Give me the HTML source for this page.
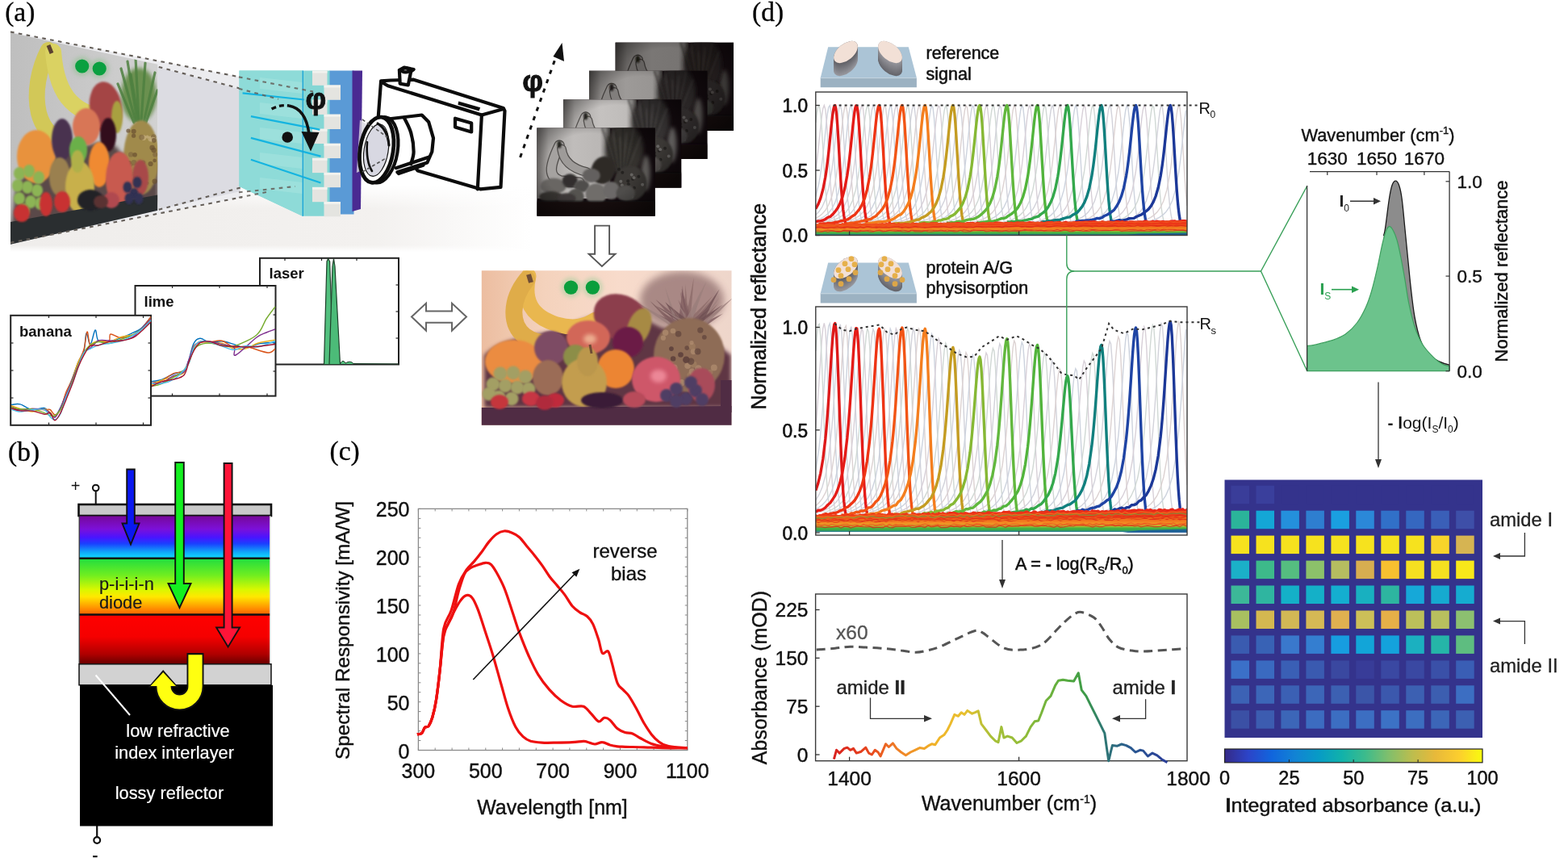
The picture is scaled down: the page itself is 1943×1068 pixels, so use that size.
<!DOCTYPE html>
<html><head><meta charset="utf-8"><title>Figure</title>
<style>html,body{margin:0;padding:0;background:#fff;overflow:hidden;}svg{display:block;}</style>
</head><body>
<svg width="1943" height="1068" viewBox="0 0 1943 1068">
<rect width="1943" height="1068" fill="#fff"/>
<defs><filter id="bl1" x="-20%" y="-20%" width="140%" height="140%"><feGaussianBlur stdDeviation="0.9"/></filter><filter id="bl2" x="-30%" y="-30%" width="160%" height="160%"><feGaussianBlur stdDeviation="2.5"/></filter><filter id="bl3" x="-50%" y="-50%" width="200%" height="200%"><feGaussianBlur stdDeviation="5"/></filter></defs>
<text x="6.15" y="25.7" font-size="33.5" fill="#000" text-anchor="start" font-weight="normal" font-family="'Liberation Serif', 'Times New Roman', serif" stroke="#000" stroke-width="0.3" >(a)</text>
<defs><linearGradient id="floorh" gradientUnits="userSpaceOnUse" x1="13" y1="0" x2="660" y2="0"><stop offset="0" stop-color="#efedeb"/><stop offset="0.7" stop-color="#f3f1ef"/><stop offset="1" stop-color="#ffffff"/></linearGradient><linearGradient id="floorv" gradientUnits="userSpaceOnUse" x1="0" y1="230" x2="0" y2="312"><stop offset="0" stop-color="#fff" stop-opacity="1"/><stop offset="0.35" stop-color="#fff" stop-opacity="0"/><stop offset="0.9" stop-color="#fff" stop-opacity="0"/><stop offset="1" stop-color="#fff" stop-opacity="1"/></linearGradient></defs>
<rect x="13" y="230" width="650" height="82" fill="url(#floorh)"/>
<rect x="13" y="230" width="650" height="82" fill="url(#floorv)"/>
<polygon points="13,39.5 298,95.6 298,244.6 13,300.7" fill="#ececef"/>
<polygon points="195.5,82.9 298,110.7 298,237 195.5,259.8" fill="#dcdce2"/>
<defs><clipPath id="pph"><polygon points="13,40.5 195.3,79.8 195.3,260.7 13,302.7"/></clipPath><linearGradient id="ppbg" x1="0" y1="0" x2="1" y2="0"><stop offset="0" stop-color="#bebebe"/><stop offset="1" stop-color="#d2d2d2"/></linearGradient></defs>
<g clip-path="url(#pph)">
<rect x="10" y="35" width="190" height="270" fill="url(#ppbg)"/>
<path d="M20,230 C40,200 70,190 90,185 C120,175 140,170 150,190 L196,200 L196,250 L14,280 Z" fill="#5a4848" filter="url(#bl2)"/>
<ellipse cx="172.0" cy="118.0" rx="22.0" ry="34.0" fill="#6a9050" filter="url(#bl2)"/>
<line x1="150" y1="85" x2="168" y2="150" stroke="#4e8040" stroke-width="3.2" stroke-linecap="round" opacity="0.85"/>
<line x1="158" y1="76" x2="170" y2="150" stroke="#4e8040" stroke-width="3.2" stroke-linecap="round" opacity="0.85"/>
<line x1="168" y1="72" x2="172" y2="150" stroke="#4e8040" stroke-width="3.2" stroke-linecap="round" opacity="0.85"/>
<line x1="180" y1="78" x2="175" y2="150" stroke="#4e8040" stroke-width="3.2" stroke-linecap="round" opacity="0.85"/>
<line x1="192" y1="90" x2="178" y2="152" stroke="#4e8040" stroke-width="3.2" stroke-linecap="round" opacity="0.85"/>
<line x1="146" y1="104" x2="166" y2="152" stroke="#4e8040" stroke-width="3.2" stroke-linecap="round" opacity="0.85"/>
<line x1="195" y1="112" x2="180" y2="154" stroke="#4e8040" stroke-width="3.2" stroke-linecap="round" opacity="0.85"/>
<line x1="162" y1="92" x2="172" y2="150" stroke="#4e8040" stroke-width="3.2" stroke-linecap="round" opacity="0.85"/>
<ellipse cx="175.0" cy="195.0" rx="22.0" ry="46.0" fill="#a08a4c" filter="url(#bl1)"/>
<circle cx="162.2" cy="191.4" r="3.2" fill="#806840" opacity="0.7"/>
<circle cx="177.9" cy="170.6" r="3.4" fill="#c8b080" opacity="0.7"/>
<circle cx="162.3" cy="204.3" r="2.3" fill="#806840" opacity="0.7"/>
<circle cx="192.2" cy="191.5" r="3.1" fill="#806840" opacity="0.7"/>
<circle cx="191.6" cy="224.7" r="3.1" fill="#6a5030" opacity="0.7"/>
<circle cx="188.6" cy="182.9" r="3.2" fill="#6a5030" opacity="0.7"/>
<circle cx="182.6" cy="227.1" r="2.0" fill="#806840" opacity="0.7"/>
<circle cx="165.9" cy="201.5" r="3.5" fill="#806840" opacity="0.7"/>
<circle cx="161.7" cy="220.3" r="3.3" fill="#c8b080" opacity="0.7"/>
<circle cx="167.1" cy="191.7" r="2.8" fill="#6a5030" opacity="0.7"/>
<circle cx="190.6" cy="186.0" r="3.2" fill="#6a5030" opacity="0.7"/>
<circle cx="186.8" cy="172.0" r="3.4" fill="#c8b080" opacity="0.7"/>
<circle cx="174.3" cy="208.3" r="2.9" fill="#806840" opacity="0.7"/>
<circle cx="158.1" cy="224.4" r="3.1" fill="#6a5030" opacity="0.7"/>
<circle cx="165.7" cy="162.8" r="3.0" fill="#6a5030" opacity="0.7"/>
<circle cx="189.3" cy="170.8" r="2.2" fill="#6a5030" opacity="0.7"/>
<circle cx="186.6" cy="203.0" r="3.1" fill="#6a5030" opacity="0.7"/>
<circle cx="165.6" cy="168.2" r="2.6" fill="#6a5030" opacity="0.7"/>
<circle cx="182.6" cy="169.6" r="2.1" fill="#c8b080" opacity="0.7"/>
<circle cx="190.3" cy="169.4" r="3.2" fill="#806840" opacity="0.7"/>
<circle cx="175.5" cy="170.1" r="3.4" fill="#806840" opacity="0.7"/>
<circle cx="160.1" cy="201.7" r="2.6" fill="#6a5030" opacity="0.7"/>
<circle cx="175.4" cy="202.8" r="2.5" fill="#6a5030" opacity="0.7"/>
<circle cx="158.9" cy="162.0" r="2.6" fill="#6a5030" opacity="0.7"/>
<circle cx="191.6" cy="198.9" r="2.3" fill="#6a5030" opacity="0.7"/>
<circle cx="189.4" cy="172.8" r="3.2" fill="#c8b080" opacity="0.7"/>
<circle cx="177.6" cy="201.2" r="2.7" fill="#806840" opacity="0.7"/>
<circle cx="158.6" cy="204.9" r="2.8" fill="#6a5030" opacity="0.7"/>
<circle cx="190.8" cy="173.9" r="2.8" fill="#6a5030" opacity="0.7"/>
<circle cx="178.1" cy="217.6" r="2.4" fill="#806840" opacity="0.7"/>
<path d="M60,62 C48,85 42,115 48,140 C52,155 58,162 64,166" fill="none" stroke="#d2c858" stroke-width="20" stroke-linecap="round"/>
<path d="M66,64 C68,90 74,112 88,126 C96,134 104,138 110,140" fill="none" stroke="#dad262" stroke-width="20" stroke-linecap="round"/>
<path d="M60,56 L64,66" stroke="#5a4030" stroke-width="5"/>
<ellipse cx="131.0" cy="134.0" rx="20.0" ry="33.0" fill="#a44444" transform="rotate(-8 131.0 134.0)" filter="url(#bl1)"/>
<ellipse cx="145.0" cy="145.0" rx="7.0" ry="20.0" fill="#a8a040" filter="url(#bl1)"/>
<ellipse cx="45.0" cy="194.0" rx="24.0" ry="33.0" fill="#e8923c" filter="url(#bl1)"/>
<ellipse cx="107.0" cy="157.0" rx="17.0" ry="23.0" fill="#d87656" filter="url(#bl1)"/>
<ellipse cx="77.0" cy="173.0" rx="13.0" ry="26.0" fill="#4a3050" filter="url(#bl1)"/>
<ellipse cx="134.0" cy="167.0" rx="10.0" ry="21.0" fill="#30101e" filter="url(#bl1)"/>
<ellipse cx="97.0" cy="186.0" rx="11.0" ry="17.0" fill="#6ab048" filter="url(#bl1)"/>
<ellipse cx="123.0" cy="204.0" rx="13.0" ry="28.0" fill="#f08a32" filter="url(#bl1)"/>
<ellipse cx="74.0" cy="219.0" rx="13.0" ry="24.0" fill="#9a8050" filter="url(#bl1)"/>
<ellipse cx="99.0" cy="232.0" rx="18.0" ry="32.0" fill="#c8b04c" filter="url(#bl1)"/>
<ellipse cx="96.0" cy="200.0" rx="8.0" ry="14.0" fill="#b0b04a" filter="url(#bl1)"/>
<ellipse cx="148.0" cy="222.0" rx="17.0" ry="34.0" fill="#c85a50" filter="url(#bl1)"/>
<ellipse cx="174.0" cy="220.0" rx="10.0" ry="22.0" fill="#a84848" filter="url(#bl1)"/>
<polygon points="13,275 195.3,241.6 195.3,262 13,305" fill="#2a2e30"/>
<ellipse cx="24.0" cy="215.0" rx="7.0" ry="8.0" fill="#8cb454" filter="url(#bl1)"/>
<ellipse cx="36.0" cy="212.0" rx="7.0" ry="8.0" fill="#8cb454" filter="url(#bl1)"/>
<ellipse cx="48.0" cy="220.0" rx="7.0" ry="8.0" fill="#8cb454" filter="url(#bl1)"/>
<ellipse cx="22.0" cy="230.0" rx="7.0" ry="8.0" fill="#8cb454" filter="url(#bl1)"/>
<ellipse cx="34.0" cy="232.0" rx="7.0" ry="8.0" fill="#8cb454" filter="url(#bl1)"/>
<ellipse cx="46.0" cy="236.0" rx="7.0" ry="8.0" fill="#8cb454" filter="url(#bl1)"/>
<ellipse cx="24.0" cy="246.0" rx="7.0" ry="8.0" fill="#8cb454" filter="url(#bl1)"/>
<ellipse cx="38.0" cy="250.0" rx="7.0" ry="8.0" fill="#8cb454" filter="url(#bl1)"/>
<ellipse cx="50.0" cy="252.0" rx="7.0" ry="8.0" fill="#8cb454" filter="url(#bl1)"/>
<ellipse cx="30.0" cy="260.0" rx="7.0" ry="8.0" fill="#8cb454" filter="url(#bl1)"/>
<ellipse cx="27.0" cy="264.0" rx="10.0" ry="11.0" fill="#c83030" filter="url(#bl1)"/>
<ellipse cx="57.0" cy="253.0" rx="8.0" ry="15.0" fill="#c83030" filter="url(#bl1)"/>
<ellipse cx="77.0" cy="250.0" rx="10.0" ry="13.0" fill="#c83030" filter="url(#bl1)"/>
<ellipse cx="112.0" cy="248.0" rx="16.0" ry="13.0" fill="#202028" filter="url(#bl1)"/>
<ellipse cx="138.0" cy="248.0" rx="10.0" ry="10.0" fill="#b04850" filter="url(#bl1)"/>
<ellipse cx="125.0" cy="250.0" rx="9.0" ry="8.0" fill="#5a3030" filter="url(#bl1)"/>
<ellipse cx="158.0" cy="232.0" rx="5.5" ry="7.0" fill="#303052" filter="url(#bl1)"/>
<ellipse cx="166.0" cy="240.0" rx="5.5" ry="7.0" fill="#303052" filter="url(#bl1)"/>
<ellipse cx="160.0" cy="246.0" rx="5.5" ry="7.0" fill="#303052" filter="url(#bl1)"/>
<ellipse cx="170.0" cy="226.0" rx="5.5" ry="7.0" fill="#303052" filter="url(#bl1)"/>
<ellipse cx="172.0" cy="246.0" rx="5.5" ry="7.0" fill="#303052" filter="url(#bl1)"/>
<ellipse cx="101.7" cy="82.0" rx="12.0" ry="12.0" fill="#90c090" filter="url(#bl2)" opacity="0.55"/>
<ellipse cx="123.2" cy="85.0" rx="12.0" ry="12.0" fill="#90c090" filter="url(#bl2)" opacity="0.55"/>
<circle cx="101.7" cy="82" r="8.6" fill="#0aa040"/>
<circle cx="123.2" cy="85" r="8.6" fill="#0aa040"/>
</g>
<line x1="13" y1="39.5" x2="300" y2="96" stroke="#645e58" stroke-width="2.1" stroke-dasharray="4.6,5.4" fill="none"/>
<line x1="13" y1="300.7" x2="300" y2="244.2" stroke="#645e58" stroke-width="2.1" stroke-dasharray="4.6,5.4" fill="none"/>
<line x1="196.8" y1="82.9" x2="372" y2="129.5" stroke="#645e58" stroke-width="2.1" stroke-dasharray="4.6,5.4" fill="none"/>
<line x1="196.8" y1="259.8" x2="372" y2="212.5" stroke="#645e58" stroke-width="2.1" stroke-dasharray="4.6,5.4" fill="none"/>
<polygon points="296.5,87.5 409,87.5 409,267.7 374.7,267.7 296.5,231" fill="#84d6d4"/>
<polygon points="296.5,87.5 375,87.5 375,267.7 296.5,231" fill="#8edbd8"/>
<polygon points="322,96 375,102 375,116 322,110" fill="#a2e2de" opacity="0.7"/>
<polygon points="322,127 375,133 375,147 322,141" fill="#a2e2de" opacity="0.7"/>
<polygon points="322,158 375,164 375,178 322,172" fill="#a2e2de" opacity="0.7"/>
<polygon points="322,189 375,195 375,209 322,203" fill="#a2e2de" opacity="0.7"/>
<polygon points="322,220 375,226 375,240 322,234" fill="#a2e2de" opacity="0.7"/>
<rect x="408.5" y="87.5" width="30" height="178" fill="#5a9ad6"/>
<rect x="387" y="87.5" width="18.5" height="18.3" fill="#e4e4e0"/>
<rect x="387" y="87.5" width="18.5" height="3" fill="#f2f2ee"/>
<rect x="401.5" y="105.5" width="20.5" height="18.3" fill="#e4e4e0"/>
<rect x="401.5" y="105.5" width="20.5" height="3" fill="#f2f2ee"/>
<rect x="387" y="123.6" width="18.5" height="18.3" fill="#e4e4e0"/>
<rect x="387" y="123.6" width="18.5" height="3" fill="#f2f2ee"/>
<rect x="401.5" y="141.7" width="20.5" height="18.3" fill="#e4e4e0"/>
<rect x="401.5" y="141.7" width="20.5" height="3" fill="#f2f2ee"/>
<rect x="387" y="159.7" width="18.5" height="18.3" fill="#e4e4e0"/>
<rect x="387" y="159.7" width="18.5" height="3" fill="#f2f2ee"/>
<rect x="401.5" y="177.8" width="20.5" height="18.3" fill="#e4e4e0"/>
<rect x="401.5" y="177.8" width="20.5" height="3" fill="#f2f2ee"/>
<rect x="387" y="195.8" width="18.5" height="18.3" fill="#e4e4e0"/>
<rect x="387" y="195.8" width="18.5" height="3" fill="#f2f2ee"/>
<rect x="401.5" y="213.9" width="20.5" height="18.3" fill="#e4e4e0"/>
<rect x="401.5" y="213.9" width="20.5" height="3" fill="#f2f2ee"/>
<rect x="387" y="231.9" width="18.5" height="18.3" fill="#e4e4e0"/>
<rect x="387" y="231.9" width="18.5" height="3" fill="#f2f2ee"/>
<rect x="401.5" y="250.0" width="20.5" height="18.3" fill="#e4e4e0"/>
<rect x="401.5" y="250.0" width="20.5" height="3" fill="#f2f2ee"/>
<polygon points="436.5,87.5 449,87.5 447,259 436.5,262" fill="#4a2a92"/>
<line x1="300.6" y1="115.3" x2="376.8" y2="123.5" stroke="#14b4e0" stroke-width="2.2"/>
<line x1="310.9" y1="144.1" x2="396.4" y2="160.6" stroke="#14b4e0" stroke-width="2.2"/>
<line x1="310.9" y1="170.9" x2="397.4" y2="193.6" stroke="#14b4e0" stroke-width="2.2"/>
<line x1="310.9" y1="197.7" x2="397.4" y2="226.5" stroke="#14b4e0" stroke-width="2.2"/>
<line x1="375.3" y1="87.5" x2="375.3" y2="267.7" stroke="#1ea6d8" stroke-width="1.4"/>
<path d="M336.6,135 C344,131 351,130 358,131" fill="none" stroke="#111" stroke-width="3.4" stroke-dasharray="6,4"/>
<path d="M358,131 C370,133 380,143 383,166" fill="none" stroke="#111" stroke-width="3.6"/>
<polygon points="373.5,163 395.5,164 385,187.5" fill="#111"/>
<circle cx="356.2" cy="170" r="6.8" fill="#111"/>
<text x="378.4" y="135.3" font-size="36" fill="#111" text-anchor="start" font-weight="bold" font-family="'Liberation Sans', Arial, sans-serif" stroke="#111" stroke-width="0.9" >φ</text>
<line x1="296" y1="95.4" x2="388" y2="113.5" stroke="#645e58" stroke-width="2.1" stroke-dasharray="4.6,5.4" fill="none" opacity="0.85"/>
<line x1="296" y1="109.8" x2="345" y2="122.8" stroke="#645e58" stroke-width="2.1" stroke-dasharray="4.6,5.4" fill="none" opacity="0.85"/>
<line x1="296" y1="238.3" x2="366" y2="231" stroke="#645e58" stroke-width="2.1" stroke-dasharray="4.6,5.4" fill="none" opacity="0.85"/>
<line x1="296" y1="244.8" x2="330" y2="238" stroke="#645e58" stroke-width="2.1" stroke-dasharray="4.6,5.4" fill="none" opacity="0.85"/>
<polygon points="446.0,148.4 478.9,171.1 478.9,198.1 441.8,214.1" fill="#d8d8e0" opacity="0.8"/>
<polygon points="472.1,100.3 483.9,99.5 512.6,98.7 623.8,134.0 625.5,137.4 620.5,231.8 595.2,234.3 517.6,211.6 468.8,144.2" fill="#fff" stroke="#0c0c0c" stroke-width="4.2" stroke-linejoin="round" stroke-linecap="round"/>
<path d="M472.1,101.2L480.6,106.2L596.9,142.5L623.8,134.9" fill="none" stroke="#0c0c0c" stroke-width="4.2" stroke-linejoin="round" stroke-linecap="round"/>
<path d="M596.9,142.5L591.8,234.3" fill="none" stroke="#0c0c0c" stroke-width="4.2" stroke-linejoin="round" stroke-linecap="round"/>
<path d="M494.9,86.9L495.7,103.7L505.8,105.4L509.2,88.5L512.6,86.0L500.8,83.5L494.9,86.9" fill="#fff" stroke="#0c0c0c" stroke-width="4.2" stroke-linejoin="round" stroke-linecap="round"/>
<ellipse cx="502.5" cy="86.9" rx="5" ry="2.5" fill="none" stroke="#0c0c0c" stroke-width="4.2" stroke-linejoin="round" stroke-linecap="round"/>
<polygon points="568.2,125.6 595.2,133.2 593.5,137.4 567.4,129.8" fill="#0c0c0c"/>
<polygon points="564.0,146.7 584.2,152.6 584.2,163.5 564.0,157.6" fill="#fff" stroke="#0c0c0c" stroke-width="4.2" stroke-linejoin="round" stroke-linecap="round"/>
<path d="M480.6,147.5L522.7,142.5L531.1,150.9L537.0,171.1L535.3,188.0L529.4,201.5L492.4,213.3" fill="#fff" stroke="#0c0c0c" stroke-width="4.2" stroke-linejoin="round" stroke-linecap="round"/>
<path d="M500.8,145.8C502.2,148.9 507.3,157.4 509.2,164.4C511.2,171.4 512.6,181.5 512.6,188.0C512.6,194.4 509.8,200.6 509.2,203.2" fill="none" stroke="#0c0c0c" stroke-width="4.2" stroke-linejoin="round" stroke-linecap="round"/>
<path d="M490.7,208.2L531.1,194.7" fill="none" stroke="#0c0c0c" stroke-width="4.2" stroke-linejoin="round" stroke-linecap="round"/>
<path d="M494.0,215.0L524.4,204.8" fill="none" stroke="#0c0c0c" stroke-width="4.2" stroke-linejoin="round" stroke-linecap="round"/>
<ellipse cx="471.7" cy="185.7" rx="21" ry="41" transform="rotate(9 471.7 185.7)" fill="#fff" stroke="#0c0c0c" stroke-width="4.2"/>
<ellipse cx="466.7" cy="185.7" rx="20.5" ry="41" transform="rotate(9 466.7 185.7)" fill="#fff" stroke="#0c0c0c" stroke-width="4.8"/>
<ellipse cx="466.2" cy="186.2" rx="15" ry="32.5" transform="rotate(9 466.7 185.7)" fill="#d8d8e2" stroke="#111" stroke-width="1.2"/>
<path d="M468,153 C476,158 481,168 482,180" fill="none" stroke="#111" stroke-width="3.2" stroke-linecap="round"/>
<path d="M455,176 C454,190 456,204 461,212" fill="none" stroke="#111" stroke-width="2.6" stroke-linecap="round"/>
<line x1="449" y1="148" x2="480" y2="170" stroke="#555" stroke-width="1.6" stroke-dasharray="4,3" fill="none"/>
<line x1="449" y1="213" x2="480" y2="195" stroke="#555" stroke-width="1.6" stroke-dasharray="4,3" fill="none"/>
<defs><clipPath id="gc0"><rect x="762.4" y="52.4" width="146.7" height="109.5"/></clipPath><linearGradient id="gw0" x1="0" y1="0" x2="1" y2="0"><stop offset="0" stop-color="rgb(70,67,65)"/><stop offset="0.16" stop-color="rgb(105,102,100)"/><stop offset="0.5" stop-color="rgb(122,119,117)"/><stop offset="0.86" stop-color="rgb(119,116,114)"/><stop offset="0.94" stop-color="rgb(89,86,84)"/><stop offset="1" stop-color="rgb(44,41,39)"/></linearGradient><radialGradient id="gv0" cx="0.45" cy="0.45" r="0.7"><stop offset="0.55" stop-color="#000" stop-opacity="0"/><stop offset="1" stop-color="#000" stop-opacity="0.5"/></radialGradient></defs>
<g clip-path="url(#gc0)">
<rect x="762.4" y="52.4" width="146.7" height="109.5" fill="#140b0f"/>
<rect x="762.4" y="52.4" width="91.0" height="87.6" fill="url(#gw0)"/>
<ellipse cx="897.4" cy="108.5" rx="5.9" ry="21.9" fill="rgb(67,64,62)" filter="url(#bl2)"/>
<ellipse cx="871.0" cy="79.8" rx="23.5" ry="32.9" fill="rgb(33,30,28)" filter="url(#bl2)"/>
<line x1="843.1" y1="52.4" x2="861.0" y2="107.2" stroke="rgb(22,19,17)" stroke-width="2" opacity="0.5" filter="url(#bl1)"/>
<line x1="847.5" y1="57.9" x2="862.2" y2="107.2" stroke="rgb(48,45,43)" stroke-width="2" opacity="0.5" filter="url(#bl1)"/>
<line x1="851.9" y1="63.4" x2="863.3" y2="107.2" stroke="rgb(22,19,17)" stroke-width="2" opacity="0.5" filter="url(#bl1)"/>
<line x1="856.3" y1="52.4" x2="864.5" y2="107.2" stroke="rgb(48,45,43)" stroke-width="2" opacity="0.5" filter="url(#bl1)"/>
<line x1="860.7" y1="57.9" x2="865.7" y2="107.2" stroke="rgb(22,19,17)" stroke-width="2" opacity="0.5" filter="url(#bl1)"/>
<line x1="865.1" y1="63.4" x2="866.9" y2="107.2" stroke="rgb(48,45,43)" stroke-width="2" opacity="0.5" filter="url(#bl1)"/>
<line x1="869.5" y1="52.4" x2="868.0" y2="107.2" stroke="rgb(22,19,17)" stroke-width="2" opacity="0.5" filter="url(#bl1)"/>
<line x1="873.9" y1="57.9" x2="869.2" y2="107.2" stroke="rgb(48,45,43)" stroke-width="2" opacity="0.5" filter="url(#bl1)"/>
<line x1="878.3" y1="63.4" x2="870.4" y2="107.2" stroke="rgb(22,19,17)" stroke-width="2" opacity="0.5" filter="url(#bl1)"/>
<line x1="882.7" y1="52.4" x2="871.5" y2="107.2" stroke="rgb(48,45,43)" stroke-width="2" opacity="0.5" filter="url(#bl1)"/>
<line x1="887.1" y1="57.9" x2="872.7" y2="107.2" stroke="rgb(22,19,17)" stroke-width="2" opacity="0.5" filter="url(#bl1)"/>
<line x1="891.5" y1="63.4" x2="873.9" y2="107.2" stroke="rgb(48,45,43)" stroke-width="2" opacity="0.5" filter="url(#bl1)"/>
<ellipse cx="878.3" cy="121.4" rx="20.5" ry="21.9" fill="rgb(37,34,32)" filter="url(#bl1)"/>
<circle cx="881.4" cy="115.9" r="2" fill="rgb(19,16,14)" opacity="0.75"/>
<circle cx="875.0" cy="131.9" r="2" fill="rgb(73,70,68)" opacity="0.75"/>
<circle cx="893.3" cy="122.8" r="2" fill="rgb(73,70,68)" opacity="0.75"/>
<circle cx="863.2" cy="137.8" r="2" fill="rgb(19,16,14)" opacity="0.75"/>
<circle cx="866.5" cy="118.8" r="2" fill="rgb(73,70,68)" opacity="0.75"/>
<circle cx="868.0" cy="123.7" r="2" fill="rgb(73,70,68)" opacity="0.75"/>
<circle cx="876.0" cy="122.3" r="2" fill="rgb(19,16,14)" opacity="0.75"/>
<circle cx="882.7" cy="114.4" r="2" fill="rgb(73,70,68)" opacity="0.75"/>
<circle cx="868.2" cy="137.7" r="2" fill="rgb(73,70,68)" opacity="0.75"/>
<circle cx="864.2" cy="103.9" r="2" fill="rgb(19,16,14)" opacity="0.75"/>
<circle cx="879.9" cy="110.5" r="2" fill="rgb(73,70,68)" opacity="0.75"/>
<circle cx="888.6" cy="112.9" r="2" fill="rgb(19,16,14)" opacity="0.75"/>
<circle cx="883.1" cy="126.9" r="2" fill="rgb(19,16,14)" opacity="0.75"/>
<circle cx="880.4" cy="137.8" r="2" fill="rgb(73,70,68)" opacity="0.75"/>
<circle cx="868.5" cy="107.8" r="2" fill="rgb(19,16,14)" opacity="0.75"/>
<circle cx="875.4" cy="118.4" r="2" fill="rgb(19,16,14)" opacity="0.75"/>
<path d="M790.3,74.3 C777.1,101.7 777.1,113.7 791.7,118.1 L815.2,120.3" fill="none" stroke="rgb(51,48,46)" stroke-width="13.5" stroke-linecap="round"/>
<path d="M790.3,74.3 C777.1,101.7 777.1,113.7 791.7,118.1 L815.2,120.3" fill="none" stroke="rgb(105,102,100)" stroke-width="11.0" stroke-linecap="round"/>
<path d="M793.2,78.7 Q796.1,100.6 824.0,107.2" fill="none" stroke="rgb(51,48,46)" stroke-width="11.8" stroke-linecap="round"/>
<path d="M793.2,78.7 Q796.1,100.6 824.0,107.2" fill="none" stroke="rgb(101,98,96)" stroke-width="9.3" stroke-linecap="round"/>
<ellipse cx="790.3" cy="73.2" rx="2.6" ry="4.5" fill="rgb(22,19,17)" filter="url(#bl1)"/>
<ellipse cx="844.6" cy="105.0" rx="14.7" ry="17.5" fill="rgb(28,25,23)" transform="rotate(20 844.6 105.0)" filter="url(#bl1)"/>
<ellipse cx="782.9" cy="124.7" rx="16.1" ry="9.9" fill="rgb(67,64,62)" filter="url(#bl1)"/>
<ellipse cx="803.5" cy="118.1" rx="9.5" ry="8.8" fill="rgb(32,29,27)" filter="url(#bl1)"/>
<ellipse cx="829.9" cy="111.5" rx="11.0" ry="8.8" fill="rgb(64,61,59)" filter="url(#bl1)"/>
<ellipse cx="818.1" cy="124.7" rx="9.5" ry="7.7" fill="rgb(51,48,46)" filter="url(#bl1)"/>
<ellipse cx="835.8" cy="134.5" rx="13.2" ry="13.1" fill="rgb(71,68,66)" filter="url(#bl1)"/>
<ellipse cx="810.8" cy="137.8" rx="10.3" ry="9.9" fill="rgb(54,51,49)" filter="url(#bl1)"/>
<ellipse cx="854.8" cy="130.1" rx="10.3" ry="11.0" fill="rgb(69,66,64)" filter="url(#bl1)"/>
<ellipse cx="872.4" cy="133.4" rx="11.7" ry="9.9" fill="rgb(51,48,46)" filter="url(#bl1)"/>
<ellipse cx="780.0" cy="137.8" rx="14.7" ry="6.6" fill="rgb(35,32,30)" filter="url(#bl1)"/>
<ellipse cx="799.1" cy="140.0" rx="11.7" ry="6.6" fill="rgb(38,35,33)" filter="url(#bl1)"/>
<rect x="762.4" y="143.3" width="146.7" height="19.7" fill="#130a0e" filter="url(#bl1)"/>
<rect x="762.4" y="52.4" width="146.7" height="109.5" fill="url(#gv0)"/>
</g>
<defs><clipPath id="gc1"><rect x="730" y="87.5" width="146.7" height="109.5"/></clipPath><linearGradient id="gw1" x1="0" y1="0" x2="1" y2="0"><stop offset="0" stop-color="rgb(90,87,85)"/><stop offset="0.16" stop-color="rgb(135,132,130)"/><stop offset="0.5" stop-color="rgb(157,154,152)"/><stop offset="0.86" stop-color="rgb(152,149,147)"/><stop offset="0.94" stop-color="rgb(114,111,109)"/><stop offset="1" stop-color="rgb(57,54,52)"/></linearGradient><radialGradient id="gv1" cx="0.45" cy="0.45" r="0.7"><stop offset="0.55" stop-color="#000" stop-opacity="0"/><stop offset="1" stop-color="#000" stop-opacity="0.5"/></radialGradient></defs>
<g clip-path="url(#gc1)">
<rect x="730" y="87.5" width="146.7" height="109.5" fill="#140b0f"/>
<rect x="730.0" y="87.5" width="91.0" height="87.6" fill="url(#gw1)"/>
<ellipse cx="865.0" cy="143.6" rx="5.9" ry="21.9" fill="rgb(86,83,81)" filter="url(#bl2)"/>
<ellipse cx="838.6" cy="114.9" rx="23.5" ry="32.9" fill="rgb(42,39,37)" filter="url(#bl2)"/>
<line x1="810.7" y1="87.5" x2="828.6" y2="142.2" stroke="rgb(28,25,23)" stroke-width="2" opacity="0.5" filter="url(#bl1)"/>
<line x1="815.1" y1="93.0" x2="829.8" y2="142.2" stroke="rgb(61,58,56)" stroke-width="2" opacity="0.5" filter="url(#bl1)"/>
<line x1="819.5" y1="98.5" x2="830.9" y2="142.2" stroke="rgb(28,25,23)" stroke-width="2" opacity="0.5" filter="url(#bl1)"/>
<line x1="823.9" y1="87.5" x2="832.1" y2="142.2" stroke="rgb(61,58,56)" stroke-width="2" opacity="0.5" filter="url(#bl1)"/>
<line x1="828.3" y1="93.0" x2="833.3" y2="142.2" stroke="rgb(28,25,23)" stroke-width="2" opacity="0.5" filter="url(#bl1)"/>
<line x1="832.7" y1="98.5" x2="834.5" y2="142.2" stroke="rgb(61,58,56)" stroke-width="2" opacity="0.5" filter="url(#bl1)"/>
<line x1="837.1" y1="87.5" x2="835.6" y2="142.2" stroke="rgb(28,25,23)" stroke-width="2" opacity="0.5" filter="url(#bl1)"/>
<line x1="841.5" y1="93.0" x2="836.8" y2="142.2" stroke="rgb(61,58,56)" stroke-width="2" opacity="0.5" filter="url(#bl1)"/>
<line x1="845.9" y1="98.5" x2="838.0" y2="142.2" stroke="rgb(28,25,23)" stroke-width="2" opacity="0.5" filter="url(#bl1)"/>
<line x1="850.3" y1="87.5" x2="839.1" y2="142.2" stroke="rgb(61,58,56)" stroke-width="2" opacity="0.5" filter="url(#bl1)"/>
<line x1="854.7" y1="93.0" x2="840.3" y2="142.2" stroke="rgb(28,25,23)" stroke-width="2" opacity="0.5" filter="url(#bl1)"/>
<line x1="859.1" y1="98.5" x2="841.5" y2="142.2" stroke="rgb(61,58,56)" stroke-width="2" opacity="0.5" filter="url(#bl1)"/>
<ellipse cx="845.9" cy="156.5" rx="20.5" ry="21.9" fill="rgb(47,44,42)" filter="url(#bl1)"/>
<circle cx="849.0" cy="151.0" r="2" fill="rgb(24,21,19)" opacity="0.75"/>
<circle cx="842.6" cy="167.0" r="2" fill="rgb(94,91,89)" opacity="0.75"/>
<circle cx="860.9" cy="157.9" r="2" fill="rgb(94,91,89)" opacity="0.75"/>
<circle cx="830.8" cy="172.9" r="2" fill="rgb(24,21,19)" opacity="0.75"/>
<circle cx="834.1" cy="153.9" r="2" fill="rgb(94,91,89)" opacity="0.75"/>
<circle cx="835.6" cy="158.8" r="2" fill="rgb(94,91,89)" opacity="0.75"/>
<circle cx="843.6" cy="157.4" r="2" fill="rgb(24,21,19)" opacity="0.75"/>
<circle cx="850.3" cy="149.5" r="2" fill="rgb(94,91,89)" opacity="0.75"/>
<circle cx="835.8" cy="172.8" r="2" fill="rgb(94,91,89)" opacity="0.75"/>
<circle cx="831.8" cy="139.0" r="2" fill="rgb(24,21,19)" opacity="0.75"/>
<circle cx="847.5" cy="145.6" r="2" fill="rgb(94,91,89)" opacity="0.75"/>
<circle cx="856.2" cy="148.0" r="2" fill="rgb(24,21,19)" opacity="0.75"/>
<circle cx="850.7" cy="162.0" r="2" fill="rgb(24,21,19)" opacity="0.75"/>
<circle cx="848.0" cy="172.9" r="2" fill="rgb(94,91,89)" opacity="0.75"/>
<circle cx="836.1" cy="142.9" r="2" fill="rgb(24,21,19)" opacity="0.75"/>
<circle cx="843.0" cy="153.5" r="2" fill="rgb(24,21,19)" opacity="0.75"/>
<path d="M757.9,109.4 C744.7,136.8 744.7,148.8 759.3,153.2 L782.8,155.4" fill="none" stroke="rgb(65,62,60)" stroke-width="13.5" stroke-linecap="round"/>
<path d="M757.9,109.4 C744.7,136.8 744.7,148.8 759.3,153.2 L782.8,155.4" fill="none" stroke="rgb(135,132,130)" stroke-width="11.0" stroke-linecap="round"/>
<path d="M760.8,113.8 Q763.7,135.7 791.6,142.2" fill="none" stroke="rgb(65,62,60)" stroke-width="11.8" stroke-linecap="round"/>
<path d="M760.8,113.8 Q763.7,135.7 791.6,142.2" fill="none" stroke="rgb(129,126,124)" stroke-width="9.3" stroke-linecap="round"/>
<ellipse cx="757.9" cy="108.3" rx="2.6" ry="4.5" fill="rgb(28,25,23)" filter="url(#bl1)"/>
<ellipse cx="812.2" cy="140.1" rx="14.7" ry="17.5" fill="rgb(36,33,31)" transform="rotate(20 812.2 140.1)" filter="url(#bl1)"/>
<ellipse cx="750.5" cy="159.8" rx="16.1" ry="9.9" fill="rgb(86,83,81)" filter="url(#bl1)"/>
<ellipse cx="771.1" cy="153.2" rx="9.5" ry="8.8" fill="rgb(41,38,36)" filter="url(#bl1)"/>
<ellipse cx="797.5" cy="146.6" rx="11.0" ry="8.8" fill="rgb(82,79,77)" filter="url(#bl1)"/>
<ellipse cx="785.7" cy="159.8" rx="9.5" ry="7.7" fill="rgb(65,62,60)" filter="url(#bl1)"/>
<ellipse cx="803.4" cy="169.6" rx="13.2" ry="13.1" fill="rgb(91,88,86)" filter="url(#bl1)"/>
<ellipse cx="778.4" cy="172.9" rx="10.3" ry="9.9" fill="rgb(69,66,64)" filter="url(#bl1)"/>
<ellipse cx="822.4" cy="165.2" rx="10.3" ry="11.0" fill="rgb(88,85,83)" filter="url(#bl1)"/>
<ellipse cx="840.0" cy="168.5" rx="11.7" ry="9.9" fill="rgb(65,62,60)" filter="url(#bl1)"/>
<ellipse cx="747.6" cy="172.9" rx="14.7" ry="6.6" fill="rgb(45,42,40)" filter="url(#bl1)"/>
<ellipse cx="766.7" cy="175.1" rx="11.7" ry="6.6" fill="rgb(49,46,44)" filter="url(#bl1)"/>
<rect x="730" y="178.4" width="146.7" height="19.7" fill="#130a0e" filter="url(#bl1)"/>
<rect x="730" y="87.5" width="146.7" height="109.5" fill="url(#gv1)"/>
</g>
<defs><clipPath id="gc2"><rect x="697.8" y="123.2" width="146.7" height="109.5"/></clipPath><linearGradient id="gw2" x1="0" y1="0" x2="1" y2="0"><stop offset="0" stop-color="rgb(113,110,108)"/><stop offset="0.16" stop-color="rgb(169,166,164)"/><stop offset="0.5" stop-color="rgb(197,194,192)"/><stop offset="0.86" stop-color="rgb(191,188,186)"/><stop offset="0.94" stop-color="rgb(144,141,139)"/><stop offset="1" stop-color="rgb(72,69,67)"/></linearGradient><radialGradient id="gv2" cx="0.45" cy="0.45" r="0.7"><stop offset="0.55" stop-color="#000" stop-opacity="0"/><stop offset="1" stop-color="#000" stop-opacity="0.5"/></radialGradient></defs>
<g clip-path="url(#gc2)">
<rect x="697.8" y="123.2" width="146.7" height="109.5" fill="#140b0f"/>
<rect x="697.8" y="123.2" width="91.0" height="87.6" fill="url(#gw2)"/>
<ellipse cx="832.8" cy="179.3" rx="5.9" ry="21.9" fill="rgb(108,105,103)" filter="url(#bl2)"/>
<ellipse cx="806.4" cy="150.6" rx="23.5" ry="32.9" fill="rgb(53,50,48)" filter="url(#bl2)"/>
<line x1="778.5" y1="123.2" x2="796.4" y2="177.9" stroke="rgb(36,33,31)" stroke-width="2" opacity="0.5" filter="url(#bl1)"/>
<line x1="782.9" y1="128.7" x2="797.6" y2="177.9" stroke="rgb(77,74,72)" stroke-width="2" opacity="0.5" filter="url(#bl1)"/>
<line x1="787.3" y1="134.2" x2="798.7" y2="177.9" stroke="rgb(36,33,31)" stroke-width="2" opacity="0.5" filter="url(#bl1)"/>
<line x1="791.7" y1="123.2" x2="799.9" y2="177.9" stroke="rgb(77,74,72)" stroke-width="2" opacity="0.5" filter="url(#bl1)"/>
<line x1="796.1" y1="128.7" x2="801.1" y2="177.9" stroke="rgb(36,33,31)" stroke-width="2" opacity="0.5" filter="url(#bl1)"/>
<line x1="800.5" y1="134.2" x2="802.3" y2="177.9" stroke="rgb(77,74,72)" stroke-width="2" opacity="0.5" filter="url(#bl1)"/>
<line x1="804.9" y1="123.2" x2="803.4" y2="177.9" stroke="rgb(36,33,31)" stroke-width="2" opacity="0.5" filter="url(#bl1)"/>
<line x1="809.3" y1="128.7" x2="804.6" y2="177.9" stroke="rgb(77,74,72)" stroke-width="2" opacity="0.5" filter="url(#bl1)"/>
<line x1="813.7" y1="134.2" x2="805.8" y2="177.9" stroke="rgb(36,33,31)" stroke-width="2" opacity="0.5" filter="url(#bl1)"/>
<line x1="818.1" y1="123.2" x2="806.9" y2="177.9" stroke="rgb(77,74,72)" stroke-width="2" opacity="0.5" filter="url(#bl1)"/>
<line x1="822.5" y1="128.7" x2="808.1" y2="177.9" stroke="rgb(36,33,31)" stroke-width="2" opacity="0.5" filter="url(#bl1)"/>
<line x1="826.9" y1="134.2" x2="809.3" y2="177.9" stroke="rgb(77,74,72)" stroke-width="2" opacity="0.5" filter="url(#bl1)"/>
<ellipse cx="813.7" cy="192.2" rx="20.5" ry="21.9" fill="rgb(59,56,54)" filter="url(#bl1)"/>
<circle cx="816.8" cy="186.7" r="2" fill="rgb(30,27,25)" opacity="0.75"/>
<circle cx="810.4" cy="202.7" r="2" fill="rgb(118,115,113)" opacity="0.75"/>
<circle cx="828.7" cy="193.6" r="2" fill="rgb(118,115,113)" opacity="0.75"/>
<circle cx="798.6" cy="208.6" r="2" fill="rgb(30,27,25)" opacity="0.75"/>
<circle cx="801.9" cy="189.6" r="2" fill="rgb(118,115,113)" opacity="0.75"/>
<circle cx="803.4" cy="194.5" r="2" fill="rgb(118,115,113)" opacity="0.75"/>
<circle cx="811.4" cy="193.1" r="2" fill="rgb(30,27,25)" opacity="0.75"/>
<circle cx="818.1" cy="185.2" r="2" fill="rgb(118,115,113)" opacity="0.75"/>
<circle cx="803.6" cy="208.5" r="2" fill="rgb(118,115,113)" opacity="0.75"/>
<circle cx="799.6" cy="174.7" r="2" fill="rgb(30,27,25)" opacity="0.75"/>
<circle cx="815.3" cy="181.3" r="2" fill="rgb(118,115,113)" opacity="0.75"/>
<circle cx="824.0" cy="183.7" r="2" fill="rgb(30,27,25)" opacity="0.75"/>
<circle cx="818.5" cy="197.7" r="2" fill="rgb(30,27,25)" opacity="0.75"/>
<circle cx="815.8" cy="208.6" r="2" fill="rgb(118,115,113)" opacity="0.75"/>
<circle cx="803.9" cy="178.6" r="2" fill="rgb(30,27,25)" opacity="0.75"/>
<circle cx="810.8" cy="189.2" r="2" fill="rgb(30,27,25)" opacity="0.75"/>
<path d="M725.7,145.1 C712.5,172.5 712.5,184.5 727.1,188.9 L750.6,191.1" fill="none" stroke="rgb(82,79,77)" stroke-width="13.5" stroke-linecap="round"/>
<path d="M725.7,145.1 C712.5,172.5 712.5,184.5 727.1,188.9 L750.6,191.1" fill="none" stroke="rgb(169,166,164)" stroke-width="11.0" stroke-linecap="round"/>
<path d="M728.6,149.5 Q731.5,171.4 759.4,177.9" fill="none" stroke="rgb(82,79,77)" stroke-width="11.8" stroke-linecap="round"/>
<path d="M728.6,149.5 Q731.5,171.4 759.4,177.9" fill="none" stroke="rgb(162,159,157)" stroke-width="9.3" stroke-linecap="round"/>
<ellipse cx="725.7" cy="144.0" rx="2.6" ry="4.5" fill="rgb(36,33,31)" filter="url(#bl1)"/>
<ellipse cx="780.0" cy="175.8" rx="14.7" ry="17.5" fill="rgb(46,43,41)" transform="rotate(20 780.0 175.8)" filter="url(#bl1)"/>
<ellipse cx="718.3" cy="195.5" rx="16.1" ry="9.9" fill="rgb(108,105,103)" filter="url(#bl1)"/>
<ellipse cx="738.9" cy="188.9" rx="9.5" ry="8.8" fill="rgb(51,48,46)" filter="url(#bl1)"/>
<ellipse cx="765.3" cy="182.3" rx="11.0" ry="8.8" fill="rgb(103,100,98)" filter="url(#bl1)"/>
<ellipse cx="753.5" cy="195.5" rx="9.5" ry="7.7" fill="rgb(82,79,77)" filter="url(#bl1)"/>
<ellipse cx="771.1" cy="205.3" rx="13.2" ry="13.1" fill="rgb(115,112,110)" filter="url(#bl1)"/>
<ellipse cx="746.2" cy="208.6" rx="10.3" ry="9.9" fill="rgb(87,84,82)" filter="url(#bl1)"/>
<ellipse cx="790.2" cy="200.9" rx="10.3" ry="11.0" fill="rgb(111,108,106)" filter="url(#bl1)"/>
<ellipse cx="807.8" cy="204.2" rx="11.7" ry="9.9" fill="rgb(82,79,77)" filter="url(#bl1)"/>
<ellipse cx="715.4" cy="208.6" rx="14.7" ry="6.6" fill="rgb(56,53,51)" filter="url(#bl1)"/>
<ellipse cx="734.5" cy="210.8" rx="11.7" ry="6.6" fill="rgb(61,58,56)" filter="url(#bl1)"/>
<rect x="697.8" y="214.1" width="146.7" height="19.7" fill="#130a0e" filter="url(#bl1)"/>
<rect x="697.8" y="123.2" width="146.7" height="109.5" fill="url(#gv2)"/>
</g>
<defs><clipPath id="gc3"><rect x="665.2" y="158.3" width="146.7" height="109.5"/></clipPath><linearGradient id="gw3" x1="0" y1="0" x2="1" y2="0"><stop offset="0" stop-color="rgb(110,107,105)"/><stop offset="0.16" stop-color="rgb(165,162,160)"/><stop offset="0.5" stop-color="rgb(192,189,187)"/><stop offset="0.86" stop-color="rgb(186,183,181)"/><stop offset="0.94" stop-color="rgb(140,137,135)"/><stop offset="1" stop-color="rgb(70,67,65)"/></linearGradient><radialGradient id="gv3" cx="0.45" cy="0.45" r="0.7"><stop offset="0.55" stop-color="#000" stop-opacity="0"/><stop offset="1" stop-color="#000" stop-opacity="0.5"/></radialGradient></defs>
<g clip-path="url(#gc3)">
<rect x="665.2" y="158.3" width="146.7" height="109.5" fill="#140b0f"/>
<rect x="665.2" y="158.3" width="91.0" height="87.6" fill="url(#gw3)"/>
<ellipse cx="800.2" cy="214.4" rx="5.9" ry="21.9" fill="rgb(105,102,100)" filter="url(#bl2)"/>
<ellipse cx="773.8" cy="185.7" rx="23.5" ry="32.9" fill="rgb(52,49,47)" filter="url(#bl2)"/>
<line x1="745.9" y1="158.3" x2="763.8" y2="213.1" stroke="rgb(35,32,30)" stroke-width="2" opacity="0.5" filter="url(#bl1)"/>
<line x1="750.3" y1="163.8" x2="765.0" y2="213.1" stroke="rgb(75,72,70)" stroke-width="2" opacity="0.5" filter="url(#bl1)"/>
<line x1="754.7" y1="169.2" x2="766.1" y2="213.1" stroke="rgb(35,32,30)" stroke-width="2" opacity="0.5" filter="url(#bl1)"/>
<line x1="759.1" y1="158.3" x2="767.3" y2="213.1" stroke="rgb(75,72,70)" stroke-width="2" opacity="0.5" filter="url(#bl1)"/>
<line x1="763.5" y1="163.8" x2="768.5" y2="213.1" stroke="rgb(35,32,30)" stroke-width="2" opacity="0.5" filter="url(#bl1)"/>
<line x1="767.9" y1="169.2" x2="769.7" y2="213.1" stroke="rgb(75,72,70)" stroke-width="2" opacity="0.5" filter="url(#bl1)"/>
<line x1="772.3" y1="158.3" x2="770.8" y2="213.1" stroke="rgb(35,32,30)" stroke-width="2" opacity="0.5" filter="url(#bl1)"/>
<line x1="776.7" y1="163.8" x2="772.0" y2="213.1" stroke="rgb(75,72,70)" stroke-width="2" opacity="0.5" filter="url(#bl1)"/>
<line x1="781.1" y1="169.2" x2="773.2" y2="213.1" stroke="rgb(35,32,30)" stroke-width="2" opacity="0.5" filter="url(#bl1)"/>
<line x1="785.5" y1="158.3" x2="774.3" y2="213.1" stroke="rgb(75,72,70)" stroke-width="2" opacity="0.5" filter="url(#bl1)"/>
<line x1="789.9" y1="163.8" x2="775.5" y2="213.1" stroke="rgb(35,32,30)" stroke-width="2" opacity="0.5" filter="url(#bl1)"/>
<line x1="794.3" y1="169.2" x2="776.7" y2="213.1" stroke="rgb(75,72,70)" stroke-width="2" opacity="0.5" filter="url(#bl1)"/>
<ellipse cx="781.1" cy="227.3" rx="20.5" ry="21.9" fill="rgb(58,55,53)" filter="url(#bl1)"/>
<circle cx="784.2" cy="221.8" r="2" fill="rgb(30,27,25)" opacity="0.75"/>
<circle cx="777.8" cy="237.8" r="2" fill="rgb(115,112,110)" opacity="0.75"/>
<circle cx="796.1" cy="228.7" r="2" fill="rgb(115,112,110)" opacity="0.75"/>
<circle cx="766.0" cy="243.7" r="2" fill="rgb(30,27,25)" opacity="0.75"/>
<circle cx="769.3" cy="224.7" r="2" fill="rgb(115,112,110)" opacity="0.75"/>
<circle cx="770.8" cy="229.6" r="2" fill="rgb(115,112,110)" opacity="0.75"/>
<circle cx="778.8" cy="228.2" r="2" fill="rgb(30,27,25)" opacity="0.75"/>
<circle cx="785.5" cy="220.3" r="2" fill="rgb(115,112,110)" opacity="0.75"/>
<circle cx="771.0" cy="243.6" r="2" fill="rgb(115,112,110)" opacity="0.75"/>
<circle cx="767.0" cy="209.8" r="2" fill="rgb(30,27,25)" opacity="0.75"/>
<circle cx="782.7" cy="216.4" r="2" fill="rgb(115,112,110)" opacity="0.75"/>
<circle cx="791.4" cy="218.8" r="2" fill="rgb(30,27,25)" opacity="0.75"/>
<circle cx="785.9" cy="232.8" r="2" fill="rgb(30,27,25)" opacity="0.75"/>
<circle cx="783.2" cy="243.7" r="2" fill="rgb(115,112,110)" opacity="0.75"/>
<circle cx="771.3" cy="213.7" r="2" fill="rgb(30,27,25)" opacity="0.75"/>
<circle cx="778.2" cy="224.3" r="2" fill="rgb(30,27,25)" opacity="0.75"/>
<path d="M693.1,180.2 C679.9,207.6 679.9,219.6 694.5,224.0 L718.0,226.2" fill="none" stroke="rgb(80,77,75)" stroke-width="13.5" stroke-linecap="round"/>
<path d="M693.1,180.2 C679.9,207.6 679.9,219.6 694.5,224.0 L718.0,226.2" fill="none" stroke="rgb(165,162,160)" stroke-width="11.0" stroke-linecap="round"/>
<path d="M696.0,184.6 Q698.9,206.5 726.8,213.1" fill="none" stroke="rgb(80,77,75)" stroke-width="11.8" stroke-linecap="round"/>
<path d="M696.0,184.6 Q698.9,206.5 726.8,213.1" fill="none" stroke="rgb(158,155,153)" stroke-width="9.3" stroke-linecap="round"/>
<ellipse cx="693.1" cy="179.1" rx="2.6" ry="4.5" fill="rgb(35,32,30)" filter="url(#bl1)"/>
<ellipse cx="747.4" cy="210.9" rx="14.7" ry="17.5" fill="rgb(45,42,40)" transform="rotate(20 747.4 210.9)" filter="url(#bl1)"/>
<ellipse cx="685.7" cy="230.6" rx="16.1" ry="9.9" fill="rgb(105,102,100)" filter="url(#bl1)"/>
<ellipse cx="706.3" cy="224.0" rx="9.5" ry="8.8" fill="rgb(50,47,45)" filter="url(#bl1)"/>
<ellipse cx="732.7" cy="217.4" rx="11.0" ry="8.8" fill="rgb(100,97,95)" filter="url(#bl1)"/>
<ellipse cx="720.9" cy="230.6" rx="9.5" ry="7.7" fill="rgb(80,77,75)" filter="url(#bl1)"/>
<ellipse cx="738.6" cy="240.4" rx="13.2" ry="13.1" fill="rgb(112,109,107)" filter="url(#bl1)"/>
<ellipse cx="713.6" cy="243.7" rx="10.3" ry="9.9" fill="rgb(85,82,80)" filter="url(#bl1)"/>
<ellipse cx="757.6" cy="236.0" rx="10.3" ry="11.0" fill="rgb(108,105,103)" filter="url(#bl1)"/>
<ellipse cx="775.2" cy="239.3" rx="11.7" ry="9.9" fill="rgb(80,77,75)" filter="url(#bl1)"/>
<ellipse cx="682.8" cy="243.7" rx="14.7" ry="6.6" fill="rgb(55,52,50)" filter="url(#bl1)"/>
<ellipse cx="701.9" cy="245.9" rx="11.7" ry="6.6" fill="rgb(60,57,55)" filter="url(#bl1)"/>
<rect x="665.2" y="249.2" width="146.7" height="19.7" fill="#130a0e" filter="url(#bl1)"/>
<rect x="665.2" y="158.3" width="146.7" height="109.5" fill="url(#gv3)"/>
</g>
<line x1="644.6" y1="195" x2="690.5" y2="66" stroke="#111" stroke-width="3" stroke-dasharray="5.2,7"/>
<polygon points="696.5,53 699,76 685.5,70" fill="#111"/>
<text x="647.2" y="113.4" font-size="36" fill="#111" text-anchor="start" font-weight="bold" font-family="'Liberation Sans', Arial, sans-serif" stroke="#111" stroke-width="0.9" >φ</text>
<rect x="322" y="319.8" width="172" height="131.7" fill="#fff" stroke="#222" stroke-width="2"/>
<line x1="353" y1="320" x2="353" y2="323" stroke="#222" stroke-width="1.2"/>
<line x1="398.5" y1="320" x2="398.5" y2="323" stroke="#222" stroke-width="1.2"/>
<line x1="442" y1="320" x2="442" y2="323" stroke="#222" stroke-width="1.2"/>
<line x1="494" y1="353" x2="490.5" y2="353" stroke="#222" stroke-width="1.2"/>
<line x1="494" y1="386" x2="490.5" y2="386" stroke="#222" stroke-width="1.2"/>
<line x1="494" y1="419" x2="490.5" y2="419" stroke="#222" stroke-width="1.2"/>
<polygon points="401.5,451.5 405,324 406.6,320.5 408.6,324 413,451.5" fill="#52c07e" stroke="#1f3f2a" stroke-width="1.2"/>
<polygon points="408,451.5 412,330 413.5,320.5 415,330 421.5,451.5" fill="#4cbb78" stroke="#1f3f2a" stroke-width="1.2"/>
<path d="M421.5,451 Q425,444 428,450 Q434,446 438,450.5 L494,451" fill="#52c07e" stroke="#1f3f2a" stroke-width="1"/>
<text x="333.5" y="344.5" font-size="18.5" fill="#111" text-anchor="start" font-weight="bold" font-family="'Liberation Sans', Arial, sans-serif" >laser</text>
<rect x="167.5" y="354" width="174" height="136.6" fill="#fff" stroke="#222" stroke-width="2"/>
<line x1="213.5" y1="354" x2="213.5" y2="357" stroke="#222" stroke-width="1.2"/>
<line x1="213.5" y1="490.6" x2="213.5" y2="487.5" stroke="#222" stroke-width="1.2"/>
<line x1="272" y1="354" x2="272" y2="357" stroke="#222" stroke-width="1.2"/>
<line x1="272" y1="490.6" x2="272" y2="487.5" stroke="#222" stroke-width="1.2"/>
<line x1="331" y1="354" x2="331" y2="357" stroke="#222" stroke-width="1.2"/>
<line x1="331" y1="490.6" x2="331" y2="487.5" stroke="#222" stroke-width="1.2"/>
<line x1="341.5" y1="390" x2="338.5" y2="390" stroke="#222" stroke-width="1.2"/>
<line x1="341.5" y1="425" x2="338.5" y2="425" stroke="#222" stroke-width="1.2"/>
<line x1="341.5" y1="460" x2="338.5" y2="460" stroke="#222" stroke-width="1.2"/>
<text x="178.5" y="379.5" font-size="18.5" fill="#111" text-anchor="start" font-weight="bold" font-family="'Liberation Sans', Arial, sans-serif" >lime</text>
<path d="M187.0,472.6C189.2,472.3 195.3,472.0 200.0,470.5C204.7,468.9 210.3,465.4 215.0,463.4C219.7,461.5 224.8,461.7 228.0,458.8C231.2,455.9 232.0,451.5 234.0,446.0C236.0,440.4 237.7,430.0 240.0,425.6C242.3,421.1 244.7,419.5 248.0,419.3C251.3,419.1 255.5,423.6 260.0,424.2C264.5,424.8 270.0,422.4 275.0,422.8C280.0,423.2 285.0,425.2 290.0,426.6C295.0,428.0 300.0,431.3 305.0,431.2C310.0,431.1 314.0,427.2 320.0,426.0C326.0,424.9 337.5,424.5 341.0,424.2" fill="none" stroke="#0072bd" stroke-width="1.4"/>
<path d="M187.0,474.7C189.2,474.2 195.3,473.6 200.0,471.6C204.7,469.6 210.3,464.7 215.0,462.7C219.7,460.7 224.8,462.1 228.0,459.6C231.2,457.2 232.0,453.1 234.0,448.0C236.0,442.9 237.7,432.9 240.0,428.9C242.3,425.0 244.7,425.1 248.0,424.2C251.3,423.4 255.5,424.2 260.0,423.8C264.5,423.5 270.0,421.1 275.0,422.2C280.0,423.3 285.0,429.2 290.0,430.3C295.0,431.5 298.0,428.2 305.0,429.3C312.0,430.5 326.0,436.6 332.0,437.0C338.0,437.4 339.5,432.8 341.0,432.0" fill="none" stroke="#d95319" stroke-width="1.4"/>
<path d="M187.0,477.6C189.2,476.5 195.3,473.0 200.0,471.2C204.7,469.4 210.3,468.3 215.0,466.7C219.7,465.1 224.8,464.8 228.0,461.7C231.2,458.5 232.0,452.6 234.0,447.7C236.0,442.7 237.7,436.1 240.0,431.9C242.3,427.8 244.7,423.9 248.0,422.8C251.3,421.6 255.5,424.8 260.0,425.2C264.5,425.6 270.0,423.9 275.0,425.1C280.0,426.2 285.0,430.9 290.0,432.0C295.0,433.1 300.0,432.8 305.0,431.7C310.0,430.5 314.0,426.7 320.0,425.0C326.0,423.2 337.5,421.8 341.0,421.2" fill="none" stroke="#edb120" stroke-width="1.4"/>
<path d="M187.0,474.3C189.2,474.4 195.3,476.2 200.0,474.8C204.7,473.3 210.3,468.0 215.0,465.6C219.7,463.3 224.8,464.1 228.0,460.8C231.2,457.5 232.0,450.9 234.0,445.8C236.0,440.7 237.7,433.8 240.0,430.0C242.3,426.3 244.7,424.5 248.0,423.3C251.3,422.2 255.5,422.6 260.0,423.1C264.5,423.6 270.0,425.3 275.0,426.5C280.0,427.7 287.2,428.3 290.0,430.5C292.8,432.8 287.3,442.1 292.0,440.0C296.7,437.9 311.7,422.7 318.0,418.0C324.3,413.3 326.2,413.7 330.0,412.0C333.8,410.3 339.2,408.7 341.0,408.0" fill="none" stroke="#7e2f8e" stroke-width="1.4"/>
<path d="M187.0,478.7C189.2,478.2 195.3,477.4 200.0,475.5C204.7,473.7 210.3,470.5 215.0,467.6C219.7,464.8 224.8,461.6 228.0,458.6C231.2,455.6 232.0,454.0 234.0,449.8C236.0,445.6 237.7,437.2 240.0,433.4C242.3,429.6 244.7,428.4 248.0,427.0C251.3,425.6 255.5,424.9 260.0,425.0C264.5,425.2 270.0,427.2 275.0,427.9C280.0,428.5 282.8,431.0 290.0,428.9C297.2,426.7 311.3,420.6 318.0,415.0C324.7,409.4 326.2,400.8 330.0,395.0C333.8,389.2 339.2,382.5 341.0,380.0" fill="none" stroke="#77ac30" stroke-width="1.4"/>
<path d="M187.0,474.6C189.2,474.7 195.3,476.1 200.0,475.3C204.7,474.6 210.3,472.9 215.0,470.1C219.7,467.4 224.8,462.1 228.0,458.7C231.2,455.4 232.0,454.7 234.0,450.0C236.0,445.3 237.7,435.1 240.0,430.7C242.3,426.2 244.7,424.2 248.0,423.1C251.3,422.0 255.5,423.0 260.0,424.0C264.5,424.9 270.0,427.2 275.0,428.8C280.0,430.4 285.0,433.5 290.0,433.4C295.0,433.4 300.0,429.1 305.0,428.5C310.0,427.9 314.0,430.9 320.0,429.9C326.0,428.9 337.5,423.7 341.0,422.5" fill="none" stroke="#4dbeee" stroke-width="1.4"/>
<path d="M187.0,479.1C189.2,478.1 195.3,474.3 200.0,472.8C204.7,471.3 210.3,471.4 215.0,470.1C219.7,468.7 224.8,468.2 228.0,464.7C231.2,461.1 232.0,453.8 234.0,448.8C236.0,443.9 237.7,438.8 240.0,434.8C242.3,430.8 244.7,426.6 248.0,424.7C251.3,422.7 255.5,422.6 260.0,423.3C264.5,423.9 270.0,427.4 275.0,428.4C280.0,429.4 285.0,428.7 290.0,429.0C295.0,429.3 300.0,429.9 305.0,430.0C310.0,430.0 314.0,429.8 320.0,429.2C326.0,428.7 337.5,426.9 341.0,426.5" fill="none" stroke="#a2142f" stroke-width="1.4"/>
<rect x="13.2" y="390.8" width="173.8" height="136" fill="#fff" stroke="#222" stroke-width="2"/>
<line x1="60.5" y1="391" x2="60.5" y2="394" stroke="#222" stroke-width="1.2"/>
<line x1="60.5" y1="526.8" x2="60.5" y2="523.5" stroke="#222" stroke-width="1.2"/>
<line x1="119" y1="391" x2="119" y2="394" stroke="#222" stroke-width="1.2"/>
<line x1="119" y1="526.8" x2="119" y2="523.5" stroke="#222" stroke-width="1.2"/>
<line x1="177.5" y1="391" x2="177.5" y2="394" stroke="#222" stroke-width="1.2"/>
<line x1="177.5" y1="526.8" x2="177.5" y2="523.5" stroke="#222" stroke-width="1.2"/>
<line x1="13.2" y1="425" x2="16.5" y2="425" stroke="#222" stroke-width="1.2"/>
<line x1="187" y1="425" x2="183.5" y2="425" stroke="#222" stroke-width="1.2"/>
<line x1="13.2" y1="459" x2="16.5" y2="459" stroke="#222" stroke-width="1.2"/>
<line x1="187" y1="459" x2="183.5" y2="459" stroke="#222" stroke-width="1.2"/>
<line x1="13.2" y1="493" x2="16.5" y2="493" stroke="#222" stroke-width="1.2"/>
<line x1="187" y1="493" x2="183.5" y2="493" stroke="#222" stroke-width="1.2"/>
<path d="M14.0,501.5C15.8,501.4 20.7,499.8 25.0,500.9C29.3,501.9 35.0,507.0 40.0,507.8C45.0,508.6 51.3,504.7 55.0,505.5C58.7,506.2 59.8,510.6 62.0,512.4C64.2,514.1 65.8,517.2 68.0,516.0C70.2,514.7 72.7,509.6 75.0,504.9C77.3,500.1 79.5,493.6 82.0,487.4C84.5,481.2 87.5,474.2 90.0,467.7C92.5,461.2 94.7,453.9 97.0,448.5C99.3,443.0 102.3,441.1 104.0,435.2C105.7,429.3 105.7,414.4 107.0,413.0C108.3,411.6 110.2,427.6 112.0,427.0C113.8,426.3 116.3,409.8 118.0,409.0C119.7,408.2 119.2,419.9 122.0,422.3C124.8,424.7 130.3,423.9 135.0,423.2C139.7,422.6 145.0,420.5 150.0,418.6C155.0,416.8 160.8,414.1 165.0,412.2C169.2,410.2 171.3,410.1 175.0,406.9C178.7,403.7 185.0,395.3 187.0,393.0" fill="none" stroke="#0072bd" stroke-width="1.4"/>
<path d="M14.0,503.2C15.8,503.9 20.7,506.7 25.0,507.3C29.3,507.8 35.0,506.5 40.0,506.5C45.0,506.6 51.3,507.5 55.0,507.7C58.7,507.8 59.8,506.4 62.0,507.5C64.2,508.5 65.8,514.0 68.0,513.9C70.2,513.8 72.7,511.6 75.0,506.9C77.3,502.2 79.5,491.8 82.0,485.5C84.5,479.2 87.5,475.1 90.0,469.1C92.5,463.0 94.7,455.2 97.0,449.2C99.3,443.1 102.2,439.1 104.0,432.8C105.8,426.4 106.7,411.8 108.0,411.0C109.3,410.2 109.7,426.3 112.0,428.2C114.3,430.0 118.2,423.1 122.0,422.2C125.8,421.2 132.5,423.8 135.0,422.5C137.5,421.1 134.5,414.7 137.0,414.0C139.5,413.3 145.3,418.4 150.0,418.5C154.7,418.6 160.8,416.4 165.0,414.6C169.2,412.9 171.3,411.5 175.0,407.8C178.7,404.1 185.0,395.1 187.0,392.5" fill="none" stroke="#d95319" stroke-width="1.4"/>
<path d="M14.0,502.6C15.8,503.2 20.7,505.0 25.0,506.3C29.3,507.5 35.0,509.9 40.0,510.0C45.0,510.1 51.3,506.5 55.0,506.7C58.7,506.9 59.8,509.4 62.0,510.9C64.2,512.4 65.8,516.6 68.0,515.8C70.2,515.0 72.7,510.7 75.0,506.1C77.3,501.6 79.5,494.7 82.0,488.4C84.5,482.0 87.5,474.7 90.0,468.1C92.5,461.4 94.7,453.6 97.0,448.4C99.3,443.2 101.5,440.3 104.0,436.8C106.5,433.2 109.0,429.4 112.0,427.0C115.0,424.6 118.2,423.0 122.0,422.5C125.8,421.9 130.3,424.7 135.0,423.8C139.7,423.0 145.0,418.9 150.0,417.4C155.0,415.8 160.8,416.1 165.0,414.6C169.2,413.2 171.3,411.9 175.0,408.6C178.7,405.4 185.0,397.3 187.0,395.1" fill="none" stroke="#edb120" stroke-width="1.4"/>
<path d="M14.0,504.3C15.8,504.9 20.7,507.5 25.0,507.8C29.3,508.2 35.0,506.5 40.0,506.4C45.0,506.3 51.3,506.3 55.0,507.1C58.7,508.0 59.8,509.9 62.0,511.6C64.2,513.3 65.8,518.2 68.0,517.2C70.2,516.2 72.7,510.3 75.0,505.6C77.3,500.9 79.5,495.0 82.0,488.9C84.5,482.8 87.5,475.2 90.0,469.0C92.5,462.8 94.7,457.4 97.0,452.0C99.3,446.6 101.5,440.1 104.0,436.6C106.5,433.2 109.0,433.6 112.0,431.1C115.0,428.7 118.2,423.5 122.0,422.0C125.8,420.5 130.3,422.0 135.0,422.0C139.7,422.0 145.0,422.7 150.0,421.9C155.0,421.1 160.8,419.7 165.0,417.3C169.2,414.9 171.3,411.4 175.0,407.7C178.7,404.0 185.0,397.4 187.0,395.4" fill="none" stroke="#7e2f8e" stroke-width="1.4"/>
<path d="M14.0,504.5C15.8,504.9 20.7,506.6 25.0,507.0C29.3,507.4 35.0,506.2 40.0,506.9C45.0,507.7 51.3,510.3 55.0,511.6C58.7,513.0 59.8,514.3 62.0,514.8C64.2,515.4 65.8,516.1 68.0,514.9C70.2,513.7 72.7,511.2 75.0,507.5C77.3,503.8 79.5,498.6 82.0,492.6C84.5,486.7 87.5,478.3 90.0,471.7C92.5,465.0 94.7,458.4 97.0,452.6C99.3,446.8 101.5,441.0 104.0,436.9C106.5,432.7 109.0,429.8 112.0,427.6C115.0,425.4 118.2,423.9 122.0,423.6C125.8,423.2 130.3,426.1 135.0,425.6C139.7,425.0 145.0,422.2 150.0,420.4C155.0,418.6 160.8,416.9 165.0,414.9C169.2,412.9 171.3,411.2 175.0,408.3C178.7,405.4 185.0,399.1 187.0,397.3" fill="none" stroke="#77ac30" stroke-width="1.4"/>
<path d="M14.0,507.1C15.8,507.6 20.7,510.0 25.0,510.1C29.3,510.2 35.0,508.0 40.0,507.5C45.0,507.1 51.3,506.2 55.0,507.6C58.7,509.1 59.8,514.2 62.0,516.3C64.2,518.3 65.8,520.5 68.0,519.9C70.2,519.3 72.7,517.3 75.0,512.5C77.3,507.7 79.5,497.6 82.0,491.2C84.5,484.8 87.5,480.5 90.0,474.3C92.5,468.1 94.7,460.4 97.0,454.2C99.3,447.9 101.5,440.6 104.0,436.9C106.5,433.3 109.0,433.6 112.0,432.1C115.0,430.5 118.2,428.7 122.0,427.6C125.8,426.5 130.3,426.4 135.0,425.6C139.7,424.8 145.0,424.4 150.0,422.7C155.0,421.0 160.8,417.7 165.0,415.3C169.2,413.0 171.3,411.7 175.0,408.6C178.7,405.6 185.0,398.9 187.0,397.0" fill="none" stroke="#4dbeee" stroke-width="1.4"/>
<path d="M14.0,505.8C15.8,506.3 20.7,508.4 25.0,508.9C29.3,509.5 35.0,508.4 40.0,509.1C45.0,509.8 51.3,512.8 55.0,513.3C58.7,513.7 59.8,510.4 62.0,511.7C64.2,512.9 65.8,520.8 68.0,520.8C70.2,520.8 72.7,515.9 75.0,511.6C77.3,507.2 79.5,501.1 82.0,494.9C84.5,488.8 87.5,481.5 90.0,474.8C92.5,468.1 94.7,460.6 97.0,454.8C99.3,449.0 101.5,444.2 104.0,439.9C106.5,435.5 109.0,430.5 112.0,428.5C115.0,426.5 118.2,428.7 122.0,427.9C125.8,427.0 130.3,424.4 135.0,423.4C139.7,422.5 145.0,423.0 150.0,422.2C155.0,421.4 160.8,420.3 165.0,418.4C169.2,416.4 171.3,413.8 175.0,410.5C178.7,407.3 185.0,400.8 187.0,398.9" fill="none" stroke="#a2142f" stroke-width="1.4"/>
<text x="24" y="416.5" font-size="18.5" fill="#111" text-anchor="start" font-weight="bold" font-family="'Liberation Sans', Arial, sans-serif" >banana</text>
<polygon points="510.0,392.6 528.0,375.7 528.0,385.5 560.0,385.5 560.0,375.7 578.0,392.6 560.0,409.6 560.0,399.7 528.0,399.7 528.0,409.6" fill="#fff" stroke="#666" stroke-width="2"/>
<polygon points="737.1,279.6 755.1,279.6 755.1,314.7 762.5,314.7 745.9,330.0 729.6,314.7 737.1,314.7" fill="#fff" stroke="#555" stroke-width="1.9"/>
<defs><clipPath id="cph"><rect x="596.8" y="335.3" width="309.7" height="191.4"/></clipPath><linearGradient id="cphbg" x1="0" y1="0" x2="1" y2="0"><stop offset="0" stop-color="#f0c2a2"/><stop offset="0.25" stop-color="#f8d8c0"/><stop offset="0.55" stop-color="#fce2d0"/><stop offset="1" stop-color="#f2dcd0"/></linearGradient></defs>
<g clip-path="url(#cph)">
<rect x="596" y="335" width="311" height="192" fill="url(#cphbg)"/>
<path d="M600,440 C620,420 660,415 690,410 C720,395 760,380 790,390 L820,405 L880,420 L906,440 L906,505 L600,505 Z" fill="#5a3040" filter="url(#bl2)"/>
<ellipse cx="845.0" cy="372.0" rx="52.0" ry="36.0" fill="#9a7c78" filter="url(#bl3)" opacity="0.85"/>
<polygon points="854.5,408.5 847.2,407.5 859.8,343.7" fill="#8a6a68" opacity="0.8"/>
<polygon points="848.9,408.1 840.0,407.9 845.9,353.8" fill="#7a5a5c" opacity="0.8"/>
<polygon points="854.2,404.8 847.3,411.2 812.2,370.8" fill="#7a5a5c" opacity="0.8"/>
<polygon points="858.5,407.1 850.0,408.9 842.8,361.3" fill="#8a6a68" opacity="0.8"/>
<polygon points="856.9,409.7 853.0,406.3 879.0,382.1" fill="#8a6a68" opacity="0.8"/>
<polygon points="857.7,410.2 851.1,405.8 880.8,371.9" fill="#8a6a68" opacity="0.8"/>
<polygon points="856.4,409.2 848.5,406.8 868.4,360.6" fill="#9a807c" opacity="0.8"/>
<polygon points="860.5,407.1 851.0,408.9 844.6,357.6" fill="#7a5a5c" opacity="0.8"/>
<polygon points="860.0,406.8 854.0,409.2 840.3,371.2" fill="#7a5a5c" opacity="0.8"/>
<polygon points="855.7,405.6 851.3,410.4 824.7,383.9" fill="#7a5a5c" opacity="0.8"/>
<polygon points="865.3,410.0 860.7,406.0 886.3,384.5" fill="#7a5a5c" opacity="0.8"/>
<polygon points="852.7,410.3 849.8,405.7 894.3,383.5" fill="#8a6a68" opacity="0.8"/>
<polygon points="861.6,406.5 855.7,409.5 840.8,377.3" fill="#9a807c" opacity="0.8"/>
<polygon points="860.1,406.0 856.3,410.0 826.0,379.9" fill="#7a5a5c" opacity="0.8"/>
<polygon points="854.1,407.9 848.2,408.1 849.4,352.0" fill="#8a6a68" opacity="0.8"/>
<polygon points="866.6,409.9 860.7,406.1 891.3,368.6" fill="#9a807c" opacity="0.8"/>
<polygon points="854.2,405.2 846.0,410.8 824.2,374.0" fill="#6a4e50" opacity="0.8"/>
<polygon points="866.6,403.8 861.3,412.2 828.1,387.5" fill="#7a5a5c" opacity="0.8"/>
<polygon points="842.9,406.3 839.1,409.7 805.5,373.0" fill="#6a4e50" opacity="0.8"/>
<polygon points="862.9,407.3 857.0,408.7 851.0,374.8" fill="#8a6a68" opacity="0.8"/>
<polygon points="843.1,407.2 837.7,408.8 824.1,356.1" fill="#9a807c" opacity="0.8"/>
<polygon points="862.9,405.2 857.0,410.8 825.1,375.2" fill="#6a4e50" opacity="0.8"/>
<polygon points="864.1,409.8 859.5,406.2 889.6,376.2" fill="#8a6a68" opacity="0.8"/>
<polygon points="859.1,407.4 853.9,408.6 843.9,360.5" fill="#7a5a5c" opacity="0.8"/>
<polygon points="844.3,405.5 840.7,410.5 782.0,370.4" fill="#9a807c" opacity="0.8"/>
<polygon points="848.7,410.0 843.6,406.0 883.1,366.7" fill="#8a6a68" opacity="0.8"/>
<polygon points="864.3,411.1 860.3,404.9 896.0,388.5" fill="#7a5a5c" opacity="0.8"/>
<polygon points="848.4,409.9 845.1,406.1 879.8,383.1" fill="#6a4e50" opacity="0.8"/>
<polygon points="852.6,406.4 847.1,409.6 831.4,379.3" fill="#8a6a68" opacity="0.8"/>
<polygon points="844.6,405.7 839.8,410.3 805.8,373.3" fill="#8a6a68" opacity="0.8"/>
<polygon points="856.3,410.6 852.0,405.4 896.0,377.3" fill="#6a4e50" opacity="0.8"/>
<polygon points="865.1,404.9 861.1,411.1 812.2,378.7" fill="#6a4e50" opacity="0.8"/>
<polygon points="849.6,411.3 845.7,404.7 880.5,390.9" fill="#7a5a5c" opacity="0.8"/>
<polygon points="865.5,410.1 857.7,405.9 891.7,358.0" fill="#6a4e50" opacity="0.8"/>
<polygon points="852.8,409.8 844.1,406.2 875.3,348.8" fill="#9a807c" opacity="0.8"/>
<polygon points="864.1,405.9 861.3,410.1 816.9,380.6" fill="#9a807c" opacity="0.8"/>
<polygon points="850.5,405.7 847.7,410.3 816.8,390.2" fill="#7a5a5c" opacity="0.8"/>
<polygon points="866.3,410.5 861.4,405.5 909.6,367.6" fill="#9a807c" opacity="0.8"/>
<polygon points="853.9,410.8 847.3,405.2 875.5,381.8" fill="#7a5a5c" opacity="0.8"/>
<polygon points="850.6,404.3 844.3,411.7 820.2,387.0" fill="#7a5a5c" opacity="0.8"/>
<ellipse cx="854.0" cy="440.0" rx="44.0" ry="46.0" fill="#8c6c52" filter="url(#bl1)"/>
<circle cx="880.2" cy="461.1" r="3.3" fill="#a08060" opacity="0.7"/>
<circle cx="826.2" cy="468.1" r="4.0" fill="#a08060" opacity="0.7"/>
<circle cx="834.1" cy="444.4" r="3.2" fill="#4a3030" opacity="0.7"/>
<circle cx="833.9" cy="410.0" r="3.3" fill="#b09070" opacity="0.7"/>
<circle cx="863.3" cy="459.9" r="4.1" fill="#5a4038" opacity="0.7"/>
<circle cx="876.3" cy="466.1" r="3.5" fill="#a08060" opacity="0.7"/>
<circle cx="840.6" cy="413.8" r="3.8" fill="#5a4038" opacity="0.7"/>
<circle cx="833.2" cy="477.1" r="2.8" fill="#5a4038" opacity="0.7"/>
<circle cx="851.2" cy="431.1" r="2.8" fill="#5a4038" opacity="0.7"/>
<circle cx="859.4" cy="435.5" r="3.7" fill="#b09070" opacity="0.7"/>
<circle cx="850.4" cy="445.7" r="4.3" fill="#4a3030" opacity="0.7"/>
<circle cx="852.1" cy="453.3" r="3.8" fill="#b09070" opacity="0.7"/>
<circle cx="835.7" cy="455.5" r="3.9" fill="#b09070" opacity="0.7"/>
<circle cx="824.1" cy="456.8" r="3.8" fill="#b09070" opacity="0.7"/>
<circle cx="843.5" cy="439.5" r="3.3" fill="#4a3030" opacity="0.7"/>
<circle cx="855.7" cy="464.9" r="4.4" fill="#a08060" opacity="0.7"/>
<circle cx="829.8" cy="453.6" r="3.2" fill="#b09070" opacity="0.7"/>
<circle cx="867.5" cy="463.2" r="3.5" fill="#b09070" opacity="0.7"/>
<circle cx="884.8" cy="455.5" r="4.0" fill="#b09070" opacity="0.7"/>
<circle cx="828.5" cy="455.8" r="3.8" fill="#4a3030" opacity="0.7"/>
<circle cx="870.1" cy="467.5" r="2.9" fill="#b09070" opacity="0.7"/>
<circle cx="844.6" cy="474.3" r="4.2" fill="#b09070" opacity="0.7"/>
<circle cx="872.8" cy="417.8" r="2.9" fill="#5a4038" opacity="0.7"/>
<circle cx="865.3" cy="456.7" r="4.4" fill="#b09070" opacity="0.7"/>
<circle cx="824.6" cy="412.2" r="3.7" fill="#b09070" opacity="0.7"/>
<circle cx="857.7" cy="429.0" r="4.2" fill="#a08060" opacity="0.7"/>
<circle cx="857.0" cy="424.6" r="2.6" fill="#b09070" opacity="0.7"/>
<circle cx="821.9" cy="418.7" r="3.1" fill="#b09070" opacity="0.7"/>
<circle cx="859.3" cy="451.3" r="4.1" fill="#a08060" opacity="0.7"/>
<circle cx="856.2" cy="447.7" r="4.2" fill="#5a4038" opacity="0.7"/>
<circle cx="857.7" cy="460.5" r="4.0" fill="#b09070" opacity="0.7"/>
<circle cx="841.0" cy="478.7" r="4.4" fill="#a08060" opacity="0.7"/>
<circle cx="867.8" cy="409.1" r="3.7" fill="#5a4038" opacity="0.7"/>
<circle cx="864.6" cy="435.5" r="3.9" fill="#5a4038" opacity="0.7"/>
<circle cx="831.9" cy="432.1" r="2.9" fill="#4a3030" opacity="0.7"/>
<path d="M655,342 C648,372 658,392 690,402 C712,408 726,404 738,396" fill="none" stroke="#ecbc4c" stroke-width="19" stroke-linecap="round"/>
<path d="M653,346 C632,372 632,402 650,416 C664,426 677,426 688,424" fill="none" stroke="#e2b046" stroke-width="21" stroke-linecap="round"/>
<path d="M655,340 L658,350" stroke="#6a4a30" stroke-width="6"/>
<ellipse cx="770.0" cy="394.0" rx="36.0" ry="28.0" fill="#8a3a4a" transform="rotate(28 770.0 394.0)" filter="url(#bl1)"/>
<ellipse cx="792.0" cy="405.0" rx="14.0" ry="24.0" fill="#a68c40" transform="rotate(20 792.0 405.0)" filter="url(#bl1)"/>
<ellipse cx="637.0" cy="448.0" rx="36.0" ry="27.0" fill="#ee8e3e" filter="url(#bl1)"/>
<ellipse cx="683.0" cy="431.0" rx="21.0" ry="21.0" fill="#7a4862" filter="url(#bl1)"/>
<ellipse cx="729.0" cy="418.0" rx="27.0" ry="21.0" fill="#d46656" filter="url(#bl1)"/>
<ellipse cx="731.0" cy="420.0" rx="8.0" ry="6.0" fill="#f0b090" filter="url(#bl2)"/>
<ellipse cx="778.0" cy="424.0" rx="19.0" ry="19.0" fill="#661842" filter="url(#bl1)"/>
<ellipse cx="713.0" cy="442.0" rx="15.0" ry="15.0" fill="#8a9044" filter="url(#bl1)"/>
<ellipse cx="763.0" cy="457.0" rx="23.0" ry="24.0" fill="#f0862e" filter="url(#bl1)"/>
<ellipse cx="679.0" cy="468.0" rx="19.0" ry="22.0" fill="#9a6c52" filter="url(#bl1)"/>
<ellipse cx="724.0" cy="474.0" rx="28.0" ry="30.0" fill="#c4a04c" filter="url(#bl1)"/>
<ellipse cx="728.0" cy="448.0" rx="13.0" ry="18.0" fill="#bc9a48" filter="url(#bl1)"/>
<line x1="731" y1="427" x2="733" y2="438" stroke="#6a4a30" stroke-width="3"/>
<ellipse cx="813.0" cy="470.0" rx="30.0" ry="28.0" fill="#d05468" filter="url(#bl1)"/>
<ellipse cx="816.0" cy="466.0" rx="10.0" ry="8.0" fill="#f08898" filter="url(#bl2)"/>
<ellipse cx="869.0" cy="477.0" rx="17.0" ry="21.0" fill="#a84858" filter="url(#bl1)"/>
<ellipse cx="620.0" cy="463.0" rx="8.5" ry="8.5" fill="#a2a262" filter="url(#bl1)"/>
<ellipse cx="636.0" cy="462.0" rx="8.5" ry="8.5" fill="#a2a262" filter="url(#bl1)"/>
<ellipse cx="651.0" cy="467.0" rx="8.5" ry="8.5" fill="#a2a262" filter="url(#bl1)"/>
<ellipse cx="611.0" cy="476.0" rx="8.5" ry="8.5" fill="#a2a262" filter="url(#bl1)"/>
<ellipse cx="626.0" cy="478.0" rx="8.5" ry="8.5" fill="#a2a262" filter="url(#bl1)"/>
<ellipse cx="641.0" cy="480.0" rx="8.5" ry="8.5" fill="#a2a262" filter="url(#bl1)"/>
<ellipse cx="655.0" cy="482.0" rx="8.5" ry="8.5" fill="#a2a262" filter="url(#bl1)"/>
<ellipse cx="618.0" cy="492.0" rx="8.5" ry="8.5" fill="#a2a262" filter="url(#bl1)"/>
<ellipse cx="634.0" cy="494.0" rx="8.5" ry="8.5" fill="#a2a262" filter="url(#bl1)"/>
<ellipse cx="606.0" cy="488.0" rx="8.5" ry="8.5" fill="#a2a262" filter="url(#bl1)"/>
<polygon points="596,505 907,503 907,527 596,527" fill="#4a2840"/>
<rect x="893" y="471" width="14" height="40" fill="#4a2840"/>
<ellipse cx="619.0" cy="498.0" rx="11.0" ry="9.0" fill="#c63038" filter="url(#bl1)"/>
<ellipse cx="658.0" cy="494.0" rx="11.0" ry="9.0" fill="#c83040" filter="url(#bl1)"/>
<ellipse cx="688.0" cy="496.0" rx="11.0" ry="9.0" fill="#c02838" filter="url(#bl1)"/>
<ellipse cx="675.0" cy="499.0" rx="11.0" ry="9.0" fill="#b02838" filter="url(#bl1)"/>
<ellipse cx="746.0" cy="496.0" rx="26.0" ry="10.0" fill="#321830" filter="url(#bl1)"/>
<ellipse cx="786.0" cy="495.0" rx="14.0" ry="10.0" fill="#b84858" filter="url(#bl1)"/>
<ellipse cx="826.0" cy="490.0" rx="8.0" ry="8.0" fill="#4a3a62" filter="url(#bl1)"/>
<ellipse cx="838.0" cy="482.0" rx="8.0" ry="8.0" fill="#4a3a62" filter="url(#bl1)"/>
<ellipse cx="850.0" cy="494.0" rx="8.0" ry="8.0" fill="#4a3a62" filter="url(#bl1)"/>
<ellipse cx="838.0" cy="497.0" rx="8.0" ry="8.0" fill="#4a3a62" filter="url(#bl1)"/>
<ellipse cx="862.0" cy="484.0" rx="8.0" ry="8.0" fill="#4a3a62" filter="url(#bl1)"/>
<ellipse cx="856.0" cy="474.0" rx="8.0" ry="8.0" fill="#4a3a62" filter="url(#bl1)"/>
<ellipse cx="870.0" cy="495.0" rx="8.0" ry="8.0" fill="#4a3a62" filter="url(#bl1)"/>
<rect x="596" y="335" width="311" height="192" fill="#c07090" opacity="0.06"/>
<ellipse cx="707.5" cy="356.1" rx="12.5" ry="12.5" fill="#a8d0a0" filter="url(#bl2)" opacity="0.55"/>
<ellipse cx="734.4" cy="356.1" rx="12.5" ry="12.5" fill="#a8d0a0" filter="url(#bl2)" opacity="0.55"/>
<circle cx="707.5" cy="356.1" r="8.7" fill="#0a9e3c"/>
<circle cx="734.4" cy="356.1" r="8.7" fill="#0a9e3c"/>
</g>
<text x="10.05" y="571" font-size="33.5" fill="#000" text-anchor="start" font-weight="normal" font-family="'Liberation Serif', 'Times New Roman', serif" stroke="#000" stroke-width="0.3" >(b)</text>
<text x="87.8" y="609" font-size="20" fill="#111" text-anchor="start" font-weight="normal" font-family="'Liberation Sans', Arial, sans-serif" >+</text>
<line x1="118.7" y1="608" x2="118.7" y2="625" stroke="#111" stroke-width="2"/>
<circle cx="118.7" cy="604.5" r="3.8" fill="#fff" stroke="#111" stroke-width="2"/>
<line x1="120.2" y1="1022" x2="120.2" y2="1037" stroke="#111" stroke-width="2.2"/>
<circle cx="120.2" cy="1041" r="3.9" fill="#fff" stroke="#111" stroke-width="2.2"/>
<text x="114.6" y="1067.3" font-size="20" fill="#111" text-anchor="start" font-weight="normal" font-family="'Liberation Sans', Arial, sans-serif" stroke="#111" stroke-width="0.6" >-</text>
<defs>
<linearGradient id="gb1" x1="0" y1="0" x2="0" y2="1">
<stop offset="0" stop-color="#76089a"/><stop offset="0.3" stop-color="#7c10d8"/><stop offset="0.5" stop-color="#4a14ff"/><stop offset="0.65" stop-color="#1a40ff"/><stop offset="0.85" stop-color="#10a8f8"/><stop offset="1" stop-color="#10e0ff"/></linearGradient>
<linearGradient id="gb2" x1="0" y1="0" x2="0" y2="1">
<stop offset="0" stop-color="#20dd40"/><stop offset="0.3" stop-color="#70ee20"/><stop offset="0.55" stop-color="#d8f800"/><stop offset="0.68" stop-color="#ffe800"/><stop offset="0.85" stop-color="#ffa000"/><stop offset="1" stop-color="#ff6000"/></linearGradient>
<linearGradient id="gb3" x1="0" y1="0" x2="0" y2="1">
<stop offset="0" stop-color="#ff0000"/><stop offset="0.45" stop-color="#f50000"/><stop offset="0.8" stop-color="#b00000"/><stop offset="1" stop-color="#6a0000"/></linearGradient>
</defs>
<rect x="97.5" y="625" width="238.5" height="14" fill="#c9c9c9" stroke="#111" stroke-width="2.6"/>
<rect x="98.5" y="639.5" width="236" height="52.5" fill="url(#gb1)"/>
<rect x="98.5" y="692" width="236" height="69.5" fill="url(#gb2)"/>
<rect x="98.5" y="761.5" width="236" height="61" fill="url(#gb3)"/>
<line x1="98" y1="691.8" x2="335" y2="691.8" stroke="#111" stroke-width="2.5"/>
<line x1="98" y1="761.5" x2="335" y2="761.5" stroke="#111" stroke-width="2.5"/>
<line x1="98.2" y1="639" x2="98.2" y2="823" stroke="#222" stroke-width="1.2"/>
<line x1="334.8" y1="639" x2="334.8" y2="823" stroke="#ddd" stroke-width="1.2"/>
<rect x="98" y="822.8" width="238" height="26" fill="#d2d2d2" stroke="#111" stroke-width="1.5"/>
<rect x="99" y="848.8" width="239" height="174.7" fill="#000"/>
<line x1="118.6" y1="836.5" x2="161" y2="886" stroke="#fff" stroke-width="2"/>
<polygon points="157.2,581.5 166.8,581.5 166.8,648.5 172.5,648.5 162.0,674.5 151.5,648.5 157.2,648.5" fill="#0a18f0" stroke="#111" stroke-width="1.9"/>
<polygon points="217.2,573.0 227.8,573.0 227.8,723.0 236.5,723.0 222.5,753.0 208.5,723.0 217.2,723.0" fill="#14f020" stroke="#111" stroke-width="1.9"/>
<polygon points="277.6,574.0 287.6,574.0 287.6,777.5 297.1,777.5 282.6,801.5 268.1,777.5 277.6,777.5" fill="#ff1438" stroke="#111" stroke-width="1.9"/>
<path d="M242,809 V850.5 A19.5,19.5 0 0 1 203,850.5 V849" fill="none" stroke="#111" stroke-width="21"/>
<polygon points="183.5,851.5 202.2,830 221,851.5" fill="#111"/>
<path d="M242,811.2 V850.5 A19.5,19.5 0 0 1 203,850.5 V849" fill="none" stroke="#ffff10" stroke-width="17.2"/>
<polygon points="186.5,850 202.2,833 218,850" fill="#ffff10"/>
<text x="123" y="731" font-size="21.8" fill="#1a1a1a" text-anchor="start" font-weight="normal" font-family="'Liberation Sans', Arial, sans-serif" stroke="#1a1a1a" stroke-width="0.2" >p-i-i-i-n</text>
<text x="123" y="753.5" font-size="21.8" fill="#1a1a1a" text-anchor="start" font-weight="normal" font-family="'Liberation Sans', Arial, sans-serif" stroke="#1a1a1a" stroke-width="0.2" >diode</text>
<text x="156.3" y="913" font-size="21.8" fill="#fff" text-anchor="start" font-weight="normal" font-family="'Liberation Sans', Arial, sans-serif" stroke="#fff" stroke-width="0.2" >low refractive</text>
<text x="142.2" y="939.5" font-size="21.8" fill="#fff" text-anchor="start" font-weight="normal" font-family="'Liberation Sans', Arial, sans-serif" stroke="#fff" stroke-width="0.2" >index interlayer</text>
<text x="142.7" y="990" font-size="21.8" fill="#fff" text-anchor="start" font-weight="normal" font-family="'Liberation Sans', Arial, sans-serif" stroke="#fff" stroke-width="0.2" >lossy reflector</text>
<text x="408.5" y="570" font-size="33.5" fill="#000" text-anchor="start" font-weight="normal" font-family="'Liberation Serif', 'Times New Roman', serif" stroke="#000" stroke-width="0.3" >(c)</text>
<rect x="518.4" y="630.4" width="333.4" height="299.1" fill="none" stroke="#8a8a8a" stroke-width="1.3"/>
<line x1="518.4" y1="929.5" x2="518.4" y2="926.5" stroke="#888" stroke-width="1"/>
<line x1="518.4" y1="630.4" x2="518.4" y2="633.4" stroke="#888" stroke-width="1"/>
<line x1="539.2" y1="929.5" x2="539.2" y2="926.5" stroke="#888" stroke-width="1"/>
<line x1="539.2" y1="630.4" x2="539.2" y2="633.4" stroke="#888" stroke-width="1"/>
<line x1="560.1" y1="929.5" x2="560.1" y2="926.5" stroke="#888" stroke-width="1"/>
<line x1="560.1" y1="630.4" x2="560.1" y2="633.4" stroke="#888" stroke-width="1"/>
<line x1="580.9" y1="929.5" x2="580.9" y2="926.5" stroke="#888" stroke-width="1"/>
<line x1="580.9" y1="630.4" x2="580.9" y2="633.4" stroke="#888" stroke-width="1"/>
<line x1="601.8" y1="929.5" x2="601.8" y2="926.5" stroke="#888" stroke-width="1"/>
<line x1="601.8" y1="630.4" x2="601.8" y2="633.4" stroke="#888" stroke-width="1"/>
<line x1="622.6" y1="929.5" x2="622.6" y2="926.5" stroke="#888" stroke-width="1"/>
<line x1="622.6" y1="630.4" x2="622.6" y2="633.4" stroke="#888" stroke-width="1"/>
<line x1="643.4" y1="929.5" x2="643.4" y2="926.5" stroke="#888" stroke-width="1"/>
<line x1="643.4" y1="630.4" x2="643.4" y2="633.4" stroke="#888" stroke-width="1"/>
<line x1="664.3" y1="929.5" x2="664.3" y2="926.5" stroke="#888" stroke-width="1"/>
<line x1="664.3" y1="630.4" x2="664.3" y2="633.4" stroke="#888" stroke-width="1"/>
<line x1="685.1" y1="929.5" x2="685.1" y2="926.5" stroke="#888" stroke-width="1"/>
<line x1="685.1" y1="630.4" x2="685.1" y2="633.4" stroke="#888" stroke-width="1"/>
<line x1="705.9" y1="929.5" x2="705.9" y2="926.5" stroke="#888" stroke-width="1"/>
<line x1="705.9" y1="630.4" x2="705.9" y2="633.4" stroke="#888" stroke-width="1"/>
<line x1="726.8" y1="929.5" x2="726.8" y2="926.5" stroke="#888" stroke-width="1"/>
<line x1="726.8" y1="630.4" x2="726.8" y2="633.4" stroke="#888" stroke-width="1"/>
<line x1="747.6" y1="929.5" x2="747.6" y2="926.5" stroke="#888" stroke-width="1"/>
<line x1="747.6" y1="630.4" x2="747.6" y2="633.4" stroke="#888" stroke-width="1"/>
<line x1="768.5" y1="929.5" x2="768.5" y2="926.5" stroke="#888" stroke-width="1"/>
<line x1="768.5" y1="630.4" x2="768.5" y2="633.4" stroke="#888" stroke-width="1"/>
<line x1="789.3" y1="929.5" x2="789.3" y2="926.5" stroke="#888" stroke-width="1"/>
<line x1="789.3" y1="630.4" x2="789.3" y2="633.4" stroke="#888" stroke-width="1"/>
<line x1="810.1" y1="929.5" x2="810.1" y2="926.5" stroke="#888" stroke-width="1"/>
<line x1="810.1" y1="630.4" x2="810.1" y2="633.4" stroke="#888" stroke-width="1"/>
<line x1="831.0" y1="929.5" x2="831.0" y2="926.5" stroke="#888" stroke-width="1"/>
<line x1="831.0" y1="630.4" x2="831.0" y2="633.4" stroke="#888" stroke-width="1"/>
<line x1="851.8" y1="929.5" x2="851.8" y2="926.5" stroke="#888" stroke-width="1"/>
<line x1="851.8" y1="630.4" x2="851.8" y2="633.4" stroke="#888" stroke-width="1"/>
<line x1="518.4" y1="929.5" x2="521.4" y2="929.5" stroke="#888" stroke-width="1"/>
<line x1="851.8" y1="929.5" x2="848.8" y2="929.5" stroke="#888" stroke-width="1"/>
<line x1="518.4" y1="917.5" x2="521.4" y2="917.5" stroke="#888" stroke-width="1"/>
<line x1="851.8" y1="917.5" x2="848.8" y2="917.5" stroke="#888" stroke-width="1"/>
<line x1="518.4" y1="905.6" x2="521.4" y2="905.6" stroke="#888" stroke-width="1"/>
<line x1="851.8" y1="905.6" x2="848.8" y2="905.6" stroke="#888" stroke-width="1"/>
<line x1="518.4" y1="893.6" x2="521.4" y2="893.6" stroke="#888" stroke-width="1"/>
<line x1="851.8" y1="893.6" x2="848.8" y2="893.6" stroke="#888" stroke-width="1"/>
<line x1="518.4" y1="881.6" x2="521.4" y2="881.6" stroke="#888" stroke-width="1"/>
<line x1="851.8" y1="881.6" x2="848.8" y2="881.6" stroke="#888" stroke-width="1"/>
<line x1="518.4" y1="869.7" x2="521.4" y2="869.7" stroke="#888" stroke-width="1"/>
<line x1="851.8" y1="869.7" x2="848.8" y2="869.7" stroke="#888" stroke-width="1"/>
<line x1="518.4" y1="857.7" x2="521.4" y2="857.7" stroke="#888" stroke-width="1"/>
<line x1="851.8" y1="857.7" x2="848.8" y2="857.7" stroke="#888" stroke-width="1"/>
<line x1="518.4" y1="845.8" x2="521.4" y2="845.8" stroke="#888" stroke-width="1"/>
<line x1="851.8" y1="845.8" x2="848.8" y2="845.8" stroke="#888" stroke-width="1"/>
<line x1="518.4" y1="833.8" x2="521.4" y2="833.8" stroke="#888" stroke-width="1"/>
<line x1="851.8" y1="833.8" x2="848.8" y2="833.8" stroke="#888" stroke-width="1"/>
<line x1="518.4" y1="821.8" x2="521.4" y2="821.8" stroke="#888" stroke-width="1"/>
<line x1="851.8" y1="821.8" x2="848.8" y2="821.8" stroke="#888" stroke-width="1"/>
<line x1="518.4" y1="809.9" x2="521.4" y2="809.9" stroke="#888" stroke-width="1"/>
<line x1="851.8" y1="809.9" x2="848.8" y2="809.9" stroke="#888" stroke-width="1"/>
<line x1="518.4" y1="797.9" x2="521.4" y2="797.9" stroke="#888" stroke-width="1"/>
<line x1="851.8" y1="797.9" x2="848.8" y2="797.9" stroke="#888" stroke-width="1"/>
<line x1="518.4" y1="785.9" x2="521.4" y2="785.9" stroke="#888" stroke-width="1"/>
<line x1="851.8" y1="785.9" x2="848.8" y2="785.9" stroke="#888" stroke-width="1"/>
<line x1="518.4" y1="774.0" x2="521.4" y2="774.0" stroke="#888" stroke-width="1"/>
<line x1="851.8" y1="774.0" x2="848.8" y2="774.0" stroke="#888" stroke-width="1"/>
<line x1="518.4" y1="762.0" x2="521.4" y2="762.0" stroke="#888" stroke-width="1"/>
<line x1="851.8" y1="762.0" x2="848.8" y2="762.0" stroke="#888" stroke-width="1"/>
<line x1="518.4" y1="750.0" x2="521.4" y2="750.0" stroke="#888" stroke-width="1"/>
<line x1="851.8" y1="750.0" x2="848.8" y2="750.0" stroke="#888" stroke-width="1"/>
<line x1="518.4" y1="738.1" x2="521.4" y2="738.1" stroke="#888" stroke-width="1"/>
<line x1="851.8" y1="738.1" x2="848.8" y2="738.1" stroke="#888" stroke-width="1"/>
<line x1="518.4" y1="726.1" x2="521.4" y2="726.1" stroke="#888" stroke-width="1"/>
<line x1="851.8" y1="726.1" x2="848.8" y2="726.1" stroke="#888" stroke-width="1"/>
<line x1="518.4" y1="714.1" x2="521.4" y2="714.1" stroke="#888" stroke-width="1"/>
<line x1="851.8" y1="714.1" x2="848.8" y2="714.1" stroke="#888" stroke-width="1"/>
<line x1="518.4" y1="702.2" x2="521.4" y2="702.2" stroke="#888" stroke-width="1"/>
<line x1="851.8" y1="702.2" x2="848.8" y2="702.2" stroke="#888" stroke-width="1"/>
<line x1="518.4" y1="690.2" x2="521.4" y2="690.2" stroke="#888" stroke-width="1"/>
<line x1="851.8" y1="690.2" x2="848.8" y2="690.2" stroke="#888" stroke-width="1"/>
<line x1="518.4" y1="678.3" x2="521.4" y2="678.3" stroke="#888" stroke-width="1"/>
<line x1="851.8" y1="678.3" x2="848.8" y2="678.3" stroke="#888" stroke-width="1"/>
<line x1="518.4" y1="666.3" x2="521.4" y2="666.3" stroke="#888" stroke-width="1"/>
<line x1="851.8" y1="666.3" x2="848.8" y2="666.3" stroke="#888" stroke-width="1"/>
<line x1="518.4" y1="654.3" x2="521.4" y2="654.3" stroke="#888" stroke-width="1"/>
<line x1="851.8" y1="654.3" x2="848.8" y2="654.3" stroke="#888" stroke-width="1"/>
<line x1="518.4" y1="642.4" x2="521.4" y2="642.4" stroke="#888" stroke-width="1"/>
<line x1="851.8" y1="642.4" x2="848.8" y2="642.4" stroke="#888" stroke-width="1"/>
<line x1="518.4" y1="630.4" x2="521.4" y2="630.4" stroke="#888" stroke-width="1"/>
<line x1="851.8" y1="630.4" x2="848.8" y2="630.4" stroke="#888" stroke-width="1"/>
<text x="507.5" y="939.5" font-size="25" fill="#111" text-anchor="end" font-weight="normal" font-family="'Liberation Sans', Arial, sans-serif" stroke="#111" stroke-width="0.4" >0</text>
<text x="507.5" y="879.7" font-size="25" fill="#111" text-anchor="end" font-weight="normal" font-family="'Liberation Sans', Arial, sans-serif" stroke="#111" stroke-width="0.4" >50</text>
<text x="507.5" y="819.9" font-size="25" fill="#111" text-anchor="end" font-weight="normal" font-family="'Liberation Sans', Arial, sans-serif" stroke="#111" stroke-width="0.4" >100</text>
<text x="507.5" y="760.0" font-size="25" fill="#111" text-anchor="end" font-weight="normal" font-family="'Liberation Sans', Arial, sans-serif" stroke="#111" stroke-width="0.4" >150</text>
<text x="507.5" y="700.2" font-size="25" fill="#111" text-anchor="end" font-weight="normal" font-family="'Liberation Sans', Arial, sans-serif" stroke="#111" stroke-width="0.4" >200</text>
<text x="507.5" y="640.4" font-size="25" fill="#111" text-anchor="end" font-weight="normal" font-family="'Liberation Sans', Arial, sans-serif" stroke="#111" stroke-width="0.4" >250</text>
<text x="518.4" y="964" font-size="25" fill="#111" text-anchor="middle" font-weight="normal" font-family="'Liberation Sans', Arial, sans-serif" stroke="#111" stroke-width="0.4" >300</text>
<text x="601.8" y="964" font-size="25" fill="#111" text-anchor="middle" font-weight="normal" font-family="'Liberation Sans', Arial, sans-serif" stroke="#111" stroke-width="0.4" >500</text>
<text x="685.1" y="964" font-size="25" fill="#111" text-anchor="middle" font-weight="normal" font-family="'Liberation Sans', Arial, sans-serif" stroke="#111" stroke-width="0.4" >700</text>
<text x="768.5" y="964" font-size="25" fill="#111" text-anchor="middle" font-weight="normal" font-family="'Liberation Sans', Arial, sans-serif" stroke="#111" stroke-width="0.4" >900</text>
<text x="851.8" y="964" font-size="25" fill="#111" text-anchor="middle" font-weight="normal" font-family="'Liberation Sans', Arial, sans-serif" stroke="#111" stroke-width="0.4" >1100</text>
<text x="684.5" y="1009" font-size="25" fill="#111" text-anchor="middle" font-weight="normal" font-family="'Liberation Sans', Arial, sans-serif" stroke="#111" stroke-width="0.4" >Wavelength [nm]</text>
<text x="0" y="0" font-size="24.3" fill="#111" text-anchor="middle" font-weight="normal" font-family="'Liberation Sans', Arial, sans-serif" stroke="#111" stroke-width="0.4" transform="translate(433,781) rotate(-90)">Spectral Responsivity [mA/W]</text>
<text x="774.5" y="691" font-size="24" fill="#111" text-anchor="middle" font-weight="normal" font-family="'Liberation Sans', Arial, sans-serif" stroke="#111" stroke-width="0.35" >reverse</text>
<text x="779" y="719" font-size="24" fill="#111" text-anchor="middle" font-weight="normal" font-family="'Liberation Sans', Arial, sans-serif" stroke="#111" stroke-width="0.35" >bias</text>
<path d="M517.0,909.9C518.0,909.6 521.1,909.9 522.7,908.4C524.2,907.0 525.0,902.9 526.4,901.4C527.8,899.9 529.5,901.7 531.1,899.6C532.6,897.4 534.2,894.1 535.8,888.8C537.3,883.5 538.9,877.5 540.4,867.7C542.0,858.0 543.6,843.5 545.1,830.3C546.7,817.0 547.9,798.3 549.8,788.1C551.8,778.0 554.5,774.9 556.8,769.4C559.2,763.9 561.5,759.6 563.9,755.4C566.2,751.1 568.5,746.6 570.9,743.7C573.2,740.7 575.6,738.1 577.9,737.6C580.2,737.0 582.6,737.6 584.9,740.4C587.3,743.2 589.2,747.4 591.9,754.4C594.7,761.4 598.2,773.0 601.3,782.5C604.4,792.0 607.6,801.2 610.7,811.5C613.8,821.8 616.9,833.4 620.0,844.3C623.2,855.2 626.3,867.7 629.4,877.1C632.5,886.4 635.6,894.6 638.8,900.5C641.9,906.4 645.0,909.7 648.1,912.7C651.2,915.6 653.6,917.0 657.5,918.3C661.4,919.5 666.1,919.8 671.5,920.1C677.0,920.5 684.0,920.2 690.3,920.1C696.5,920.1 703.5,920.0 709.0,919.7C714.5,919.4 719.9,918.4 723.0,918.3C726.2,918.2 725.4,918.6 727.7,919.2C730.1,919.8 734.0,921.9 737.1,922.0C740.2,922.1 743.3,919.5 746.4,919.7C749.6,919.8 752.7,922.1 755.8,923.0C758.9,923.8 762.0,924.4 765.2,924.8C768.3,925.2 769.1,925.1 774.5,925.3C780.0,925.5 790.1,925.5 797.9,925.8C805.7,926.0 812.4,926.5 821.3,926.7C830.3,926.9 846.7,926.7 851.8,926.7" fill="none" stroke="#ee1010" stroke-width="3.2" stroke-linejoin="round"/>
<path d="M517.0,909.9C518.0,909.6 521.1,909.9 522.7,908.4C524.2,907.0 525.0,902.9 526.4,901.4C527.8,899.9 529.5,901.7 531.1,899.6C532.6,897.4 534.2,894.1 535.8,888.8C537.3,883.5 538.9,877.5 540.4,867.7C542.0,858.0 543.6,843.9 545.1,830.3C546.7,816.6 548.1,795.3 549.8,785.8C551.5,776.3 553.5,777.4 555.4,773.1C557.4,768.9 559.3,766.9 561.5,760.0C563.7,753.2 566.2,740.1 568.5,731.9C570.9,723.8 573.2,715.6 575.6,710.9C577.9,706.2 579.9,705.7 582.6,703.9C585.3,702.1 588.8,701.2 591.9,700.1C595.1,699.0 598.6,697.5 601.3,697.3C604.0,697.1 606.0,697.1 608.3,699.2C610.7,701.2 612.6,704.6 615.4,709.5C618.1,714.3 621.6,720.6 624.7,728.2C627.8,735.8 631.0,746.1 634.1,755.4C637.2,764.6 639.9,773.9 643.4,783.4C647.0,793.0 651.2,803.7 655.1,812.5C659.1,821.2 662.6,828.9 666.9,835.9C671.1,842.9 676.2,849.3 680.9,854.6C685.6,859.9 690.3,864.3 694.9,867.7C699.6,871.1 704.3,874.0 709.0,875.2C713.7,876.5 719.1,873.7 723.0,875.2C726.9,876.7 729.3,881.0 732.4,884.1C735.5,887.2 739.0,893.1 741.8,893.9C744.5,894.8 746.4,889.6 748.8,889.3C751.1,888.9 753.1,889.8 755.8,892.1C758.5,894.3 762.0,900.3 765.2,902.8C768.3,905.4 771.4,906.5 774.5,907.5C777.7,908.5 780.8,907.7 783.9,908.9C787.0,910.1 789.4,912.4 793.3,914.5C797.2,916.6 802.6,919.8 807.3,921.6C812.0,923.3 816.7,924.1 821.3,924.8C826.0,925.6 830.3,925.9 835.4,926.2C840.5,926.5 849.0,926.6 851.8,926.7" fill="none" stroke="#ee1010" stroke-width="3.2" stroke-linejoin="round"/>
<path d="M517.0,909.9C518.0,909.6 521.1,909.9 522.7,908.4C524.2,907.0 525.0,902.9 526.4,901.4C527.8,899.9 529.5,901.7 531.1,899.6C532.6,897.4 534.2,894.1 535.8,888.8C537.3,883.5 538.9,877.5 540.4,867.7C542.0,858.0 543.6,845.1 545.1,830.3C546.7,815.4 547.5,791.1 549.8,778.8C552.2,766.4 556.1,765.5 559.2,756.3C562.3,747.1 565.4,731.9 568.5,723.5C571.7,715.2 574.8,710.8 577.9,706.2C581.0,701.6 584.1,699.6 587.3,695.9C590.4,692.2 593.5,688.3 596.6,684.2C599.8,680.1 602.9,674.8 606.0,671.1C609.1,667.3 612.2,663.9 615.4,661.7C618.5,659.5 621.6,658.3 624.7,658.0C627.8,657.7 631.0,658.6 634.1,659.9C637.2,661.1 640.3,662.7 643.4,665.5C646.6,668.3 649.7,673.0 652.8,676.7C655.9,680.4 659.1,684.0 662.2,687.9C665.3,691.8 668.4,695.7 671.5,700.1C674.7,704.5 677.8,709.9 680.9,714.2C684.0,718.4 687.1,721.6 690.3,725.4C693.4,729.1 696.5,732.4 699.6,736.6C702.7,740.8 705.9,747.0 709.0,750.7C712.1,754.3 715.2,756.4 718.4,758.6C721.5,760.8 725.0,761.4 727.7,763.8C730.4,766.2 732.4,768.3 734.7,773.1C737.1,778.0 739.8,786.8 741.8,792.8C743.7,798.8 744.5,806.9 746.4,809.2C748.4,811.5 751.5,804.9 753.5,806.9C755.4,808.8 756.2,814.3 758.1,820.9C760.1,827.5 762.8,841.0 765.2,846.6C767.5,852.3 769.9,852.0 772.2,854.6C774.5,857.2 776.5,858.2 779.2,862.1C781.9,866.0 785.5,872.4 788.6,878.0C791.7,883.6 794.8,890.5 797.9,895.8C801.1,901.1 804.2,905.9 807.3,909.9C810.4,913.8 813.5,916.9 816.7,919.2C819.8,921.6 822.1,922.7 826.0,923.9C829.9,925.1 835.8,925.8 840.1,926.2C844.4,926.7 849.8,926.6 851.8,926.7" fill="none" stroke="#ee1010" stroke-width="3.2" stroke-linejoin="round"/>
<line x1="586.3" y1="842.0" x2="714.4" y2="708.8" stroke="#111" stroke-width="1.6"/>
<polygon points="718.4,704.8 714.3,714.8 708.5,709.2" fill="#111"/>
<text x="932.1" y="25.7" font-size="33.5" fill="#000" text-anchor="start" font-weight="normal" font-family="'Liberation Serif', 'Times New Roman', serif" stroke="#000" stroke-width="0.3" >(d)</text>
<defs><clipPath id="clip114"><rect x="1010.8" y="114" width="460.20000000000005" height="177.5"/></clipPath></defs>
<g clip-path="url(#clip114)">
<path d="M1010.8,243.5L1014.8,227.0L1016.3,218.5L1017.8,208.4L1019.3,196.5L1020.8,183.0L1022.3,168.3L1023.8,153.7L1025.3,141.1L1026.8,132.7L1028.3,130.7L1029.8,138.9L1031.3,156.9L1032.8,180.8L1034.3,206.3L1035.8,229.5L1037.3,248.1L1038.8,261.4L1040.3,270.1L1041.8,275.2L1043.3,277.9L1047.3,280.0" fill="none" stroke="#cdd3de" stroke-width="1.4"/>
<path d="M1010.8,211.2L1012.3,199.8L1013.8,186.7L1015.3,172.3L1016.8,157.5L1018.3,144.1L1019.8,134.4L1021.3,130.5L1022.8,135.6L1024.3,151.3L1025.8,174.1L1027.3,199.6L1028.8,223.7L1030.3,243.6L1031.8,258.3L1033.3,268.2L1034.8,274.1L1036.3,277.3L1040.3,280.0" fill="none" stroke="#d8d0d8" stroke-width="1.4"/>
<path d="M1010.8,151.9L1012.3,139.6L1013.8,132.0L1015.3,131.2L1016.8,140.8L1018.3,159.8L1019.8,184.2L1021.3,209.6L1022.8,232.2L1024.3,250.1L1025.8,262.8L1027.3,270.9L1028.8,275.6L1032.8,279.8L1036.8,280.2" fill="none" stroke="#d0d8d4" stroke-width="1.4"/>
<path d="M1010.8,266.2L1014.8,262.2L1018.8,256.3L1022.8,247.4L1026.8,233.2L1030.8,210.3L1032.3,198.8L1033.8,185.6L1035.3,171.1L1036.8,156.3L1038.3,143.1L1039.8,133.8L1041.3,130.5L1042.8,136.6L1044.3,153.0L1045.8,176.2L1047.3,201.7L1048.8,225.5L1050.3,245.0L1051.8,259.3L1053.3,268.8L1054.8,274.4L1056.3,277.5L1060.3,280.0" fill="none" stroke="#d2d2da" stroke-width="1.4"/>
<path d="M1010.8,270.5L1014.8,268.2L1018.8,265.0L1022.8,260.5L1026.8,253.8L1030.8,243.4L1034.8,226.8L1036.3,218.2L1037.8,208.0L1039.3,196.1L1040.8,182.5L1042.3,167.9L1043.8,153.3L1045.3,140.7L1046.8,132.5L1048.3,130.8L1049.8,139.3L1051.3,157.6L1052.8,181.7L1054.3,207.1L1055.8,230.2L1057.3,248.6L1058.8,261.8L1060.3,270.3L1061.8,275.3L1063.3,278.0L1067.3,280.0" fill="none" stroke="#dcd2d2" stroke-width="1.4"/>
<path d="M1010.8,273.1L1014.8,271.7L1018.8,269.8L1022.8,267.3L1026.8,263.7L1030.8,258.6L1034.8,250.8L1038.8,238.7L1042.8,219.3L1044.3,209.3L1045.8,197.5L1047.3,184.2L1048.8,169.6L1050.3,154.9L1051.8,142.0L1053.3,133.2L1054.8,130.6L1056.3,137.8L1057.8,155.1L1059.3,178.7L1060.8,204.2L1062.3,227.7L1063.8,246.7L1065.3,260.5L1066.8,269.5L1068.3,274.8L1069.8,277.7L1073.8,280.0" fill="none" stroke="#cdd3de" stroke-width="1.4"/>
<path d="M1013.3,275.6L1017.3,274.9L1021.3,274.0L1025.3,272.8L1029.3,271.3L1033.3,269.3L1037.3,266.6L1041.3,262.8L1045.3,257.2L1049.3,248.8L1053.3,235.4L1057.3,214.0L1058.8,203.0L1060.3,190.4L1061.8,176.2L1063.3,161.4L1064.8,147.4L1066.3,136.5L1067.8,130.9L1069.3,133.1L1070.8,146.2L1072.3,167.6L1073.8,192.8L1075.3,217.6L1076.8,238.8L1078.3,254.9L1079.8,266.0L1081.3,272.8L1082.8,276.7L1086.8,279.9" fill="none" stroke="#d8d0d8" stroke-width="1.4"/>
<path d="M1020.3,275.6L1024.3,274.9L1028.3,274.0L1032.3,272.8L1036.3,271.3L1040.3,269.3L1044.3,266.6L1048.3,262.8L1052.3,257.2L1056.3,248.8L1060.3,235.4L1064.3,214.0L1065.8,203.0L1067.3,190.4L1068.8,176.2L1070.3,161.4L1071.8,147.4L1073.3,136.5L1074.8,130.9L1076.3,133.1L1077.8,146.2L1079.3,167.6L1080.8,192.8L1082.3,217.6L1083.8,238.8L1085.3,254.9L1086.8,266.0L1088.3,272.8L1089.8,276.7L1093.8,279.9" fill="none" stroke="#d0d8d4" stroke-width="1.4"/>
<path d="M1027.4,275.6L1031.4,274.9L1035.4,274.0L1039.4,272.8L1043.4,271.3L1047.4,269.3L1051.4,266.6L1055.4,262.8L1059.4,257.2L1063.4,248.8L1067.4,235.4L1071.4,214.0L1072.9,203.0L1074.4,190.4L1075.9,176.2L1077.4,161.4L1078.9,147.4L1080.4,136.5L1081.9,130.9L1083.4,133.1L1084.9,146.2L1086.4,167.6L1087.9,192.8L1089.4,217.6L1090.9,238.8L1092.4,254.9L1093.9,266.0L1095.4,272.8L1096.9,276.7L1100.9,279.9" fill="none" stroke="#d2d2da" stroke-width="1.4"/>
<path d="M1041.5,275.6L1045.5,274.9L1049.5,274.0L1053.5,272.8L1057.5,271.3L1061.5,269.3L1065.5,266.6L1069.5,262.8L1073.5,257.2L1077.5,248.8L1081.5,235.4L1085.5,214.0L1087.0,203.0L1088.5,190.4L1090.0,176.2L1091.5,161.4L1093.0,147.4L1094.5,136.5L1096.0,130.9L1097.5,133.1L1099.0,146.2L1100.5,167.6L1102.0,192.8L1103.5,217.6L1105.0,238.8L1106.5,254.9L1108.0,266.0L1109.5,272.8L1111.0,276.7L1115.0,279.9" fill="none" stroke="#dcd2d2" stroke-width="1.4"/>
<path d="M1048.7,275.6L1052.7,274.9L1056.7,274.0L1060.7,272.8L1064.7,271.3L1068.7,269.3L1072.7,266.6L1076.7,262.8L1080.7,257.2L1084.7,248.8L1088.7,235.4L1092.7,214.0L1094.2,203.0L1095.7,190.4L1097.2,176.2L1098.7,161.4L1100.2,147.4L1101.7,136.5L1103.2,130.9L1104.7,133.1L1106.2,146.2L1107.7,167.6L1109.2,192.8L1110.7,217.6L1112.2,238.8L1113.7,254.9L1115.2,266.0L1116.7,272.8L1118.2,276.7L1122.2,279.9" fill="none" stroke="#cdd3de" stroke-width="1.4"/>
<path d="M1055.8,275.6L1059.8,274.9L1063.8,274.0L1067.8,272.8L1071.8,271.3L1075.8,269.3L1079.8,266.6L1083.8,262.8L1087.8,257.2L1091.8,248.8L1095.8,235.4L1099.8,214.0L1101.3,203.0L1102.8,190.4L1104.3,176.2L1105.8,161.4L1107.3,147.4L1108.8,136.5L1110.3,130.9L1111.8,133.1L1113.3,146.2L1114.8,167.6L1116.3,192.8L1117.8,217.6L1119.3,238.8L1120.8,254.9L1122.3,266.0L1123.8,272.8L1125.3,276.7L1129.3,279.9" fill="none" stroke="#d8d0d8" stroke-width="1.4"/>
<path d="M1070.0,275.6L1074.0,274.9L1078.0,274.0L1082.0,272.8L1086.0,271.3L1090.0,269.3L1094.0,266.6L1098.0,262.8L1102.0,257.2L1106.0,248.8L1110.0,235.4L1114.0,214.0L1115.5,203.0L1117.0,190.4L1118.5,176.2L1120.0,161.4L1121.5,147.4L1123.0,136.5L1124.5,130.9L1126.0,133.1L1127.5,146.2L1129.0,167.6L1130.5,192.8L1132.0,217.6L1133.5,238.8L1135.0,254.9L1136.5,266.0L1138.0,272.8L1139.5,276.7L1143.5,279.9" fill="none" stroke="#d0d8d4" stroke-width="1.4"/>
<path d="M1077.1,275.6L1081.1,274.9L1085.1,274.0L1089.1,272.8L1093.1,271.3L1097.1,269.3L1101.1,266.6L1105.1,262.8L1109.1,257.2L1113.1,248.8L1117.1,235.4L1121.1,214.0L1122.6,203.0L1124.1,190.4L1125.6,176.2L1127.1,161.4L1128.6,147.4L1130.1,136.5L1131.6,130.9L1133.1,133.1L1134.6,146.2L1136.1,167.6L1137.6,192.8L1139.1,217.6L1140.6,238.8L1142.1,254.9L1143.6,266.0L1145.1,272.8L1146.6,276.7L1150.6,279.9" fill="none" stroke="#d2d2da" stroke-width="1.4"/>
<path d="M1084.2,275.6L1088.2,274.9L1092.2,274.0L1096.2,272.8L1100.2,271.3L1104.2,269.3L1108.2,266.6L1112.2,262.8L1116.2,257.2L1120.2,248.8L1124.2,235.4L1128.2,214.0L1129.7,203.0L1131.2,190.4L1132.7,176.2L1134.2,161.4L1135.7,147.4L1137.2,136.5L1138.7,130.9L1140.2,133.1L1141.7,146.2L1143.2,167.6L1144.7,192.8L1146.2,217.6L1147.7,238.8L1149.2,254.9L1150.7,266.0L1152.2,272.8L1153.7,276.7L1157.7,279.9" fill="none" stroke="#dcd2d2" stroke-width="1.4"/>
<path d="M1100.0,275.6L1104.0,274.9L1108.0,274.0L1112.0,272.8L1116.0,271.3L1120.0,269.3L1124.0,266.6L1128.0,262.8L1132.0,257.2L1136.0,248.8L1140.0,235.4L1144.0,214.0L1145.5,203.0L1147.0,190.4L1148.5,176.2L1150.0,161.4L1151.5,147.4L1153.0,136.5L1154.5,130.9L1156.0,133.1L1157.5,146.2L1159.0,167.6L1160.5,192.8L1162.0,217.6L1163.5,238.8L1165.0,254.9L1166.5,266.0L1168.0,272.8L1169.5,276.7L1173.5,279.9" fill="none" stroke="#cdd3de" stroke-width="1.4"/>
<path d="M1108.6,275.6L1112.6,274.9L1116.6,274.0L1120.6,272.8L1124.6,271.3L1128.6,269.3L1132.6,266.6L1136.6,262.8L1140.6,257.2L1144.6,248.8L1148.6,235.4L1152.6,214.0L1154.1,203.0L1155.6,190.4L1157.1,176.2L1158.6,161.4L1160.1,147.4L1161.6,136.5L1163.1,130.9L1164.6,133.1L1166.1,146.2L1167.6,167.6L1169.1,192.8L1170.6,217.6L1172.1,238.8L1173.6,254.9L1175.1,266.0L1176.6,272.8L1178.1,276.7L1182.1,279.9" fill="none" stroke="#d8d0d8" stroke-width="1.4"/>
<path d="M1117.2,275.6L1121.2,274.9L1125.2,274.0L1129.2,272.8L1133.2,271.3L1137.2,269.3L1141.2,266.6L1145.2,262.8L1149.2,257.2L1153.2,248.8L1157.2,235.4L1161.2,214.0L1162.8,203.0L1164.2,190.4L1165.8,176.2L1167.2,161.4L1168.8,147.4L1170.2,136.5L1171.8,130.9L1173.2,133.1L1174.8,146.2L1176.2,167.6L1177.8,192.8L1179.2,217.6L1180.8,238.8L1182.2,254.9L1183.8,266.0L1185.2,272.8L1186.8,276.7L1190.8,279.9" fill="none" stroke="#d0d8d4" stroke-width="1.4"/>
<path d="M1134.2,275.6L1138.2,274.9L1142.2,274.0L1146.2,272.8L1150.2,271.3L1154.2,269.3L1158.2,266.6L1162.2,262.8L1166.2,257.2L1170.2,248.8L1174.2,235.4L1178.2,214.0L1179.7,203.0L1181.2,190.4L1182.7,176.2L1184.2,161.4L1185.7,147.4L1187.2,136.5L1188.7,130.9L1190.2,133.1L1191.7,146.2L1193.2,167.6L1194.7,192.8L1196.2,217.6L1197.7,238.8L1199.2,254.9L1200.7,266.0L1202.2,272.8L1203.7,276.7L1207.7,279.9" fill="none" stroke="#d2d2da" stroke-width="1.4"/>
<path d="M1142.5,275.6L1146.5,274.9L1150.5,274.0L1154.5,272.8L1158.5,271.3L1162.5,269.3L1166.5,266.6L1170.5,262.8L1174.5,257.2L1178.5,248.8L1182.5,235.4L1186.5,214.0L1188.0,203.0L1189.5,190.4L1191.0,176.2L1192.5,161.4L1194.0,147.4L1195.5,136.5L1197.0,130.9L1198.5,133.1L1200.0,146.2L1201.5,167.6L1203.0,192.8L1204.5,217.6L1206.0,238.8L1207.5,254.9L1209.0,266.0L1210.5,272.8L1212.0,276.7L1216.0,279.9" fill="none" stroke="#dcd2d2" stroke-width="1.4"/>
<path d="M1150.7,275.6L1154.7,274.9L1158.7,274.0L1162.7,272.8L1166.7,271.3L1170.7,269.3L1174.7,266.6L1178.7,262.8L1182.7,257.2L1186.7,248.8L1190.7,235.4L1194.7,214.0L1196.2,203.0L1197.7,190.4L1199.2,176.2L1200.7,161.4L1202.2,147.4L1203.7,136.5L1205.2,130.9L1206.7,133.1L1208.2,146.2L1209.7,167.6L1211.2,192.8L1212.7,217.6L1214.2,238.8L1215.7,254.9L1217.2,266.0L1218.7,272.8L1220.2,276.7L1224.2,279.9" fill="none" stroke="#cdd3de" stroke-width="1.4"/>
<path d="M1167.5,275.6L1171.5,274.9L1175.5,274.0L1179.5,272.8L1183.5,271.3L1187.5,269.3L1191.5,266.6L1195.5,262.8L1199.5,257.2L1203.5,248.8L1207.5,235.4L1211.5,214.0L1213.0,203.0L1214.5,190.4L1216.0,176.2L1217.5,161.4L1219.0,147.4L1220.5,136.5L1222.0,130.9L1223.5,133.1L1225.0,146.2L1226.5,167.6L1228.0,192.8L1229.5,217.6L1231.0,238.8L1232.5,254.9L1234.0,266.0L1235.5,272.8L1237.0,276.7L1241.0,279.9" fill="none" stroke="#d8d0d8" stroke-width="1.4"/>
<path d="M1175.9,275.6L1179.9,274.9L1183.9,274.0L1187.9,272.8L1191.9,271.3L1195.9,269.3L1199.9,266.6L1203.9,262.8L1207.9,257.2L1211.9,248.8L1215.9,235.4L1219.9,214.0L1221.4,203.0L1222.9,190.4L1224.4,176.2L1225.9,161.4L1227.4,147.4L1228.9,136.5L1230.4,130.9L1231.9,133.1L1233.4,146.2L1234.9,167.6L1236.4,192.8L1237.9,217.6L1239.4,238.8L1240.9,254.9L1242.4,266.0L1243.9,272.8L1245.4,276.7L1249.4,279.9" fill="none" stroke="#d0d8d4" stroke-width="1.4"/>
<path d="M1184.3,275.6L1188.3,274.9L1192.3,274.0L1196.3,272.8L1200.3,271.3L1204.3,269.3L1208.3,266.6L1212.3,262.8L1216.3,257.2L1220.3,248.8L1224.3,235.4L1228.3,214.0L1229.8,203.0L1231.3,190.4L1232.8,176.2L1234.3,161.4L1235.8,147.4L1237.3,136.5L1238.8,130.9L1240.3,133.1L1241.8,146.2L1243.3,167.6L1244.8,192.8L1246.3,217.6L1247.8,238.8L1249.3,254.9L1250.8,266.0L1252.3,272.8L1253.8,276.7L1257.8,279.9" fill="none" stroke="#d2d2da" stroke-width="1.4"/>
<path d="M1202.2,275.6L1206.2,274.9L1210.2,274.0L1214.2,272.8L1218.2,271.3L1222.2,269.3L1226.2,266.6L1230.2,262.8L1234.2,257.2L1238.2,248.8L1242.2,235.4L1246.2,214.0L1247.7,203.0L1249.2,190.4L1250.7,176.2L1252.2,161.4L1253.7,147.4L1255.2,136.5L1256.7,130.9L1258.2,133.1L1259.7,146.2L1261.2,167.6L1262.7,192.8L1264.2,217.6L1265.7,238.8L1267.2,254.9L1268.7,266.0L1270.2,272.8L1271.7,276.7L1275.7,279.9" fill="none" stroke="#dcd2d2" stroke-width="1.4"/>
<path d="M1211.7,275.6L1215.7,274.9L1219.7,274.0L1223.7,272.8L1227.7,271.3L1231.7,269.3L1235.7,266.6L1239.7,262.8L1243.7,257.2L1247.7,248.8L1251.7,235.4L1255.7,214.0L1257.2,203.0L1258.7,190.4L1260.2,176.2L1261.7,161.4L1263.2,147.4L1264.7,136.5L1266.2,130.9L1267.7,133.1L1269.2,146.2L1270.7,167.6L1272.2,192.8L1273.7,217.6L1275.2,238.8L1276.7,254.9L1278.2,266.0L1279.7,272.8L1281.2,276.7L1285.2,279.9" fill="none" stroke="#cdd3de" stroke-width="1.4"/>
<path d="M1221.1,275.6L1225.1,274.9L1229.1,274.0L1233.1,272.8L1237.1,271.3L1241.1,269.3L1245.1,266.6L1249.1,262.8L1253.1,257.2L1257.1,248.8L1261.1,235.4L1265.1,214.0L1266.6,203.0L1268.1,190.4L1269.6,176.2L1271.1,161.4L1272.6,147.4L1274.1,136.5L1275.6,130.9L1277.1,133.1L1278.6,146.2L1280.1,167.6L1281.6,192.8L1283.1,217.6L1284.6,238.8L1286.1,254.9L1287.6,266.0L1289.1,272.8L1290.6,276.7L1294.6,279.9" fill="none" stroke="#d8d0d8" stroke-width="1.4"/>
<path d="M1239.8,275.6L1243.8,274.9L1247.8,274.0L1251.8,272.8L1255.8,271.3L1259.8,269.3L1263.8,266.6L1267.8,262.8L1271.8,257.2L1275.8,248.8L1279.8,235.4L1283.8,214.0L1285.3,203.0L1286.8,190.4L1288.3,176.2L1289.8,161.4L1291.3,147.4L1292.8,136.5L1294.3,130.9L1295.8,133.1L1297.3,146.2L1298.8,167.6L1300.3,192.8L1301.8,217.6L1303.3,238.8L1304.8,254.9L1306.3,266.0L1307.8,272.8L1309.3,276.7L1313.3,279.9" fill="none" stroke="#d0d8d4" stroke-width="1.4"/>
<path d="M1249.2,275.6L1253.2,274.9L1257.2,274.0L1261.2,272.8L1265.2,271.3L1269.2,269.3L1273.2,266.6L1277.2,262.8L1281.2,257.2L1285.2,248.8L1289.2,235.4L1293.2,214.0L1294.7,203.0L1296.2,190.4L1297.7,176.2L1299.2,161.4L1300.7,147.4L1302.2,136.5L1303.7,130.9L1305.2,133.1L1306.7,146.2L1308.2,167.6L1309.7,192.8L1311.2,217.6L1312.7,238.8L1314.2,254.9L1315.7,266.0L1317.2,272.8L1318.7,276.7L1322.7,279.9" fill="none" stroke="#d2d2da" stroke-width="1.4"/>
<path d="M1258.5,275.6L1262.5,274.9L1266.5,274.0L1270.5,272.8L1274.5,271.3L1278.5,269.3L1282.5,266.6L1286.5,262.8L1290.5,257.2L1294.5,248.8L1298.5,235.4L1302.5,214.0L1304.0,203.0L1305.5,190.4L1307.0,176.2L1308.5,161.4L1310.0,147.4L1311.5,136.5L1313.0,130.9L1314.5,133.1L1316.0,146.2L1317.5,167.6L1319.0,192.8L1320.5,217.6L1322.0,238.8L1323.5,254.9L1325.0,266.0L1326.5,272.8L1328.0,276.7L1332.0,279.9" fill="none" stroke="#dcd2d2" stroke-width="1.4"/>
<path d="M1278.3,275.6L1282.3,274.9L1286.3,274.0L1290.3,272.8L1294.3,271.3L1298.3,269.3L1302.3,266.6L1306.3,262.8L1310.3,257.2L1314.3,248.8L1318.3,235.4L1322.3,214.0L1323.8,203.0L1325.3,190.4L1326.8,176.2L1328.3,161.4L1329.8,147.4L1331.3,136.5L1332.8,130.9L1334.3,133.1L1335.8,146.2L1337.3,167.6L1338.8,192.8L1340.3,217.6L1341.8,238.8L1343.3,254.9L1344.8,266.0L1346.3,272.8L1347.8,276.7L1351.8,279.9" fill="none" stroke="#cdd3de" stroke-width="1.4"/>
<path d="M1288.8,275.6L1292.8,274.9L1296.8,274.0L1300.8,272.8L1304.8,271.3L1308.8,269.3L1312.8,266.6L1316.8,262.8L1320.8,257.2L1324.8,248.8L1328.8,235.4L1332.8,214.0L1334.3,203.0L1335.8,190.4L1337.3,176.2L1338.8,161.4L1340.3,147.4L1341.8,136.5L1343.3,130.9L1344.8,133.1L1346.3,146.2L1347.8,167.6L1349.3,192.8L1350.8,217.6L1352.3,238.8L1353.8,254.9L1355.3,266.0L1356.8,272.8L1358.3,276.7L1362.3,279.9" fill="none" stroke="#d8d0d8" stroke-width="1.4"/>
<path d="M1299.3,275.6L1303.3,274.9L1307.3,274.0L1311.3,272.8L1315.3,271.3L1319.3,269.3L1323.3,266.6L1327.3,262.8L1331.3,257.2L1335.3,248.8L1339.3,235.4L1343.3,214.0L1344.8,203.0L1346.3,190.4L1347.8,176.2L1349.3,161.4L1350.8,147.4L1352.3,136.5L1353.8,130.9L1355.3,133.1L1356.8,146.2L1358.3,167.6L1359.8,192.8L1361.3,217.6L1362.8,238.8L1364.3,254.9L1365.8,266.0L1367.3,272.8L1368.8,276.7L1372.8,279.9" fill="none" stroke="#d0d8d4" stroke-width="1.4"/>
<path d="M1320.5,275.6L1324.5,274.9L1328.5,274.0L1332.5,272.8L1336.5,271.3L1340.5,269.3L1344.5,266.6L1348.5,262.8L1352.5,257.2L1356.5,248.8L1360.5,235.4L1364.5,214.0L1366.0,203.0L1367.5,190.4L1369.0,176.2L1370.5,161.4L1372.0,147.4L1373.5,136.5L1375.0,130.9L1376.5,133.1L1378.0,146.2L1379.5,167.6L1381.0,192.8L1382.5,217.6L1384.0,238.8L1385.5,254.9L1387.0,266.0L1388.5,272.8L1390.0,276.7L1394.0,279.9" fill="none" stroke="#d2d2da" stroke-width="1.4"/>
<path d="M1331.2,275.6L1335.2,274.9L1339.2,274.0L1343.2,272.8L1347.2,271.3L1351.2,269.3L1355.2,266.6L1359.2,262.8L1363.2,257.2L1367.2,248.8L1371.2,235.4L1375.2,214.0L1376.7,203.0L1378.2,190.4L1379.7,176.2L1381.2,161.4L1382.7,147.4L1384.2,136.5L1385.7,130.9L1387.2,133.1L1388.7,146.2L1390.2,167.6L1391.7,192.8L1393.2,217.6L1394.7,238.8L1396.2,254.9L1397.7,266.0L1399.2,272.8L1400.7,276.7L1404.7,279.9" fill="none" stroke="#dcd2d2" stroke-width="1.4"/>
<path d="M1341.8,275.6L1345.8,274.9L1349.8,274.0L1353.8,272.8L1357.8,271.3L1361.8,269.3L1365.8,266.6L1369.8,262.8L1373.8,257.2L1377.8,248.8L1381.8,235.4L1385.8,214.0L1387.3,203.0L1388.8,190.4L1390.3,176.2L1391.8,161.4L1393.3,147.4L1394.8,136.5L1396.3,130.9L1397.8,133.1L1399.3,146.2L1400.8,167.6L1402.3,192.8L1403.8,217.6L1405.3,238.8L1406.8,254.9L1408.3,266.0L1409.8,272.8L1411.3,276.7L1415.3,279.9" fill="none" stroke="#cdd3de" stroke-width="1.4"/>
<path d="M1363.2,275.6L1367.2,274.9L1371.2,274.0L1375.2,272.8L1379.2,271.3L1383.2,269.3L1387.2,266.6L1391.2,262.8L1395.2,257.2L1399.2,248.8L1403.2,235.4L1407.2,214.0L1408.7,203.0L1410.2,190.4L1411.7,176.2L1413.2,161.4L1414.7,147.4L1416.2,136.5L1417.7,130.9L1419.2,133.1L1420.7,146.2L1422.2,167.6L1423.7,192.8L1425.2,217.6L1426.7,238.8L1428.2,254.9L1429.7,266.0L1431.2,272.8L1432.7,276.7L1436.7,279.9" fill="none" stroke="#d8d0d8" stroke-width="1.4"/>
<path d="M1373.8,275.6L1377.8,274.9L1381.8,274.0L1385.8,272.8L1389.8,271.3L1393.8,269.3L1397.8,266.6L1401.8,262.8L1405.8,257.2L1409.8,248.8L1413.8,235.4L1417.8,214.0L1419.3,203.0L1420.8,190.4L1422.3,176.2L1423.8,161.4L1425.3,147.4L1426.8,136.5L1428.3,130.9L1429.8,133.1L1431.3,146.2L1432.8,167.6L1434.3,192.8L1435.8,217.6L1437.3,238.8L1438.8,254.9L1440.3,266.0L1441.8,272.8L1443.3,276.7L1447.3,279.9" fill="none" stroke="#d0d8d4" stroke-width="1.4"/>
<path d="M1384.5,275.6L1388.5,274.9L1392.5,274.0L1396.5,272.8L1400.5,271.3L1404.5,269.3L1408.5,266.6L1412.5,262.8L1416.5,257.2L1420.5,248.8L1424.5,235.4L1428.5,214.0L1430.0,203.0L1431.5,190.4L1433.0,176.2L1434.5,161.4L1436.0,147.4L1437.5,136.5L1439.0,130.9L1440.5,133.1L1442.0,146.2L1443.5,167.6L1445.0,192.8L1446.5,217.6L1448.0,238.8L1449.5,254.9L1451.0,266.0L1452.5,272.8L1454.0,276.7L1458.0,279.9" fill="none" stroke="#d2d2da" stroke-width="1.4"/>
<path d="M1405.9,275.6L1409.9,274.9L1413.9,274.0L1417.9,272.8L1421.9,271.3L1425.9,269.3L1429.9,266.6L1433.9,262.8L1437.9,257.2L1441.9,248.8L1445.9,235.4L1449.9,214.0L1451.4,203.0L1452.9,190.4L1454.4,176.2L1455.9,161.4L1457.4,147.4L1458.9,136.5L1460.4,130.9L1461.9,133.1L1463.4,146.2L1464.9,167.6L1466.4,192.8L1467.9,217.6L1469.4,238.8L1470.9,254.9" fill="none" stroke="#dcd2d2" stroke-width="1.4"/>
<path d="M1416.6,275.6L1420.6,274.9L1424.6,274.0L1428.6,272.8L1432.6,271.3L1436.6,269.3L1440.6,266.6L1444.6,262.8L1448.6,257.2L1452.6,248.8L1456.6,235.4L1460.6,214.0L1462.1,203.0L1463.6,190.4L1465.1,176.2L1466.6,161.4L1468.1,147.4L1469.6,136.5" fill="none" stroke="#cdd3de" stroke-width="1.4"/>
<path d="M1010.8,258.8L1013.8,253.3L1016.8,245.6L1019.8,234.7L1022.8,219.2L1023.8,212.7L1024.8,205.5L1025.8,197.4L1026.8,188.6L1027.8,179.2L1028.8,169.4L1029.8,159.5L1030.8,150.1L1031.8,141.8L1032.8,135.4L1033.8,131.5L1034.8,130.6L1035.8,134.4L1036.8,143.2L1037.8,156.1L1038.8,171.9L1039.8,189.2L1040.8,206.6L1041.8,223.1L1042.8,237.7L1043.8,250.1L1044.8,260.0L1045.8,267.5L1046.8,272.9L1047.8,276.7L1048.8,279.2L1051.8,282.0L1054.8,282.1L1057.8,281.6L1060.8,280.7L1063.8,281.0L1066.8,279.4L1069.8,279.0L1072.8,278.3L1075.8,277.4L1078.8,278.0" fill="none" stroke="#de1a1a" stroke-width="3.4" stroke-linejoin="round"/>
<path d="M1010.8,274.9L1013.8,273.9L1016.8,273.7L1019.8,273.0L1022.8,271.5L1025.8,269.4L1028.8,268.4L1031.8,265.6L1034.8,262.2L1037.8,258.1L1040.8,252.4L1043.8,244.5L1046.8,233.2L1049.8,217.2L1050.8,210.5L1051.8,203.0L1052.8,194.7L1053.8,185.8L1054.8,176.2L1055.8,166.3L1056.8,156.5L1057.8,147.4L1058.8,139.6L1059.8,133.9L1060.8,130.9L1061.8,131.2L1062.8,136.5L1063.8,146.7L1064.8,160.6L1065.8,177.0L1066.8,194.5L1067.8,211.7L1068.8,227.7L1069.8,241.7L1070.8,253.4L1071.8,262.5L1072.8,269.4L1073.8,274.3L1074.8,277.6L1075.8,279.8L1078.8,282.2L1081.8,282.2L1084.8,281.8L1087.8,281.5L1090.8,281.2L1093.8,280.2L1096.8,279.5L1099.8,278.9L1102.8,278.2L1105.8,277.4" fill="none" stroke="#e51c18" stroke-width="3.4" stroke-linejoin="round"/>
<path d="M1014.4,277.8L1017.4,277.2L1020.4,277.0L1023.4,277.2L1026.4,276.5L1029.4,276.6L1032.4,276.3L1035.4,275.1L1038.4,275.2L1041.4,274.0L1044.4,273.4L1047.4,272.4L1050.4,271.8L1053.4,270.0L1056.4,267.7L1059.4,265.9L1062.4,262.2L1065.4,258.6L1068.4,253.2L1071.4,245.8L1074.4,235.2L1077.4,220.1L1078.4,213.8L1079.4,206.7L1080.4,198.8L1081.4,190.2L1082.4,180.9L1083.4,171.2L1084.4,161.3L1085.4,151.8L1086.4,143.3L1087.4,136.5L1088.4,132.0L1089.4,130.5L1090.4,133.2L1091.4,141.1L1092.4,153.2L1093.4,168.6L1094.4,185.7L1095.4,203.2L1096.4,219.9L1097.4,235.0L1098.4,247.8L1099.4,258.3L1100.4,266.2L1101.4,272.1L1102.4,276.2L1103.4,278.9L1106.4,282.2L1109.4,282.5L1112.4,282.1L1115.4,281.3L1118.4,280.6L1121.4,280.7L1124.4,279.5L1127.4,279.1L1130.4,278.5L1133.4,278.5" fill="none" stroke="#ee3414" stroke-width="3.4" stroke-linejoin="round"/>
<path d="M1042.9,277.8L1045.9,278.1L1048.9,276.9L1051.9,277.0L1054.9,276.1L1057.9,276.1L1060.9,275.5L1063.9,275.0L1066.9,274.0L1069.9,273.6L1072.9,272.6L1075.9,272.0L1078.9,271.5L1081.9,269.6L1084.9,268.1L1087.9,264.9L1090.9,261.9L1093.9,258.4L1096.9,253.0L1099.9,245.5L1102.9,235.0L1105.9,219.9L1106.9,213.6L1107.9,206.5L1108.9,198.7L1109.9,190.1L1110.9,180.8L1111.9,171.1L1112.9,161.3L1113.9,151.8L1114.9,143.3L1115.9,136.5L1116.9,132.0L1117.9,130.5L1118.9,133.2L1119.9,141.1L1120.9,153.2L1121.9,168.6L1122.9,185.7L1123.9,203.2L1124.9,219.9L1125.9,235.0L1126.9,247.8L1127.9,258.3L1128.9,266.2L1129.9,272.1L1130.9,276.2L1131.9,279.0L1134.9,282.3L1137.9,282.6L1140.9,282.3L1143.9,281.4L1146.9,280.8L1149.9,281.3L1152.9,280.4L1155.9,279.9L1158.9,279.6L1161.9,278.6" fill="none" stroke="#f25515" stroke-width="3.4" stroke-linejoin="round"/>
<path d="M1071.3,276.9L1074.3,277.2L1077.3,276.4L1080.3,276.1L1083.3,275.8L1086.3,275.3L1089.3,275.0L1092.3,274.8L1095.3,274.8L1098.3,274.1L1101.3,273.1L1104.3,272.3L1107.3,271.2L1110.3,269.1L1113.3,266.9L1116.3,265.7L1119.3,262.6L1122.3,258.1L1125.3,252.7L1128.3,245.3L1131.3,234.8L1134.3,219.7L1135.3,213.4L1136.3,206.4L1137.3,198.5L1138.3,190.0L1139.3,180.7L1140.3,171.0L1141.3,161.2L1142.3,151.7L1143.3,143.2L1144.3,136.4L1145.3,132.0L1146.3,130.5L1147.3,133.2L1148.3,141.1L1149.3,153.2L1150.3,168.6L1151.3,185.7L1152.3,203.2L1153.3,219.9L1154.3,235.0L1155.3,247.8L1156.3,258.3L1157.3,266.2L1158.3,272.1L1159.3,276.3L1160.3,279.0L1163.3,282.4L1166.3,282.8L1169.3,282.5L1172.3,281.6L1175.3,281.1L1178.3,280.9L1181.3,280.3L1184.3,280.4L1187.3,279.7L1190.3,280.0" fill="none" stroke="#f47e1e" stroke-width="3.4" stroke-linejoin="round"/>
<path d="M1105.9,277.4L1108.9,277.0L1111.9,276.8L1114.9,276.8L1117.9,276.4L1120.9,276.1L1123.9,275.7L1126.9,275.1L1129.9,274.4L1132.9,273.5L1135.9,272.3L1138.9,272.0L1141.9,269.9L1144.9,268.7L1147.9,267.1L1150.9,264.5L1153.9,262.0L1156.9,257.8L1159.9,252.4L1162.9,245.0L1165.9,234.5L1168.9,219.5L1169.9,213.2L1170.9,206.2L1171.9,198.4L1172.9,189.8L1173.9,180.6L1174.9,170.9L1175.9,161.1L1176.9,151.7L1177.9,143.2L1178.9,136.4L1179.9,132.0L1180.9,130.5L1181.9,133.2L1182.9,141.1L1183.9,153.2L1184.9,168.6L1185.9,185.7L1186.9,203.2L1187.9,219.9L1188.9,235.0L1189.9,247.8L1190.9,258.3L1191.9,266.3L1192.9,272.2L1193.9,276.3L1194.9,279.1L1197.9,282.5L1200.9,283.0L1203.9,282.7L1206.9,282.3L1209.9,282.1L1212.9,281.3L1215.9,281.9L1218.9,280.4L1221.9,281.0L1224.9,280.5" fill="none" stroke="#c49c22" stroke-width="3.4" stroke-linejoin="round"/>
<path d="M1139.0,276.6L1142.0,275.9L1145.0,275.7L1148.0,275.8L1151.0,275.9L1154.0,275.6L1157.0,274.4L1160.0,274.9L1163.0,273.1L1166.0,273.0L1169.0,271.7L1172.0,271.4L1175.0,270.4L1178.0,267.9L1181.0,266.7L1184.0,264.3L1187.0,260.8L1190.0,257.5L1193.0,252.1L1196.0,244.7L1199.0,234.3L1202.0,219.3L1203.0,213.0L1204.0,206.0L1205.0,198.2L1206.0,189.7L1207.0,180.5L1208.0,170.8L1209.0,161.1L1210.0,151.6L1211.0,143.2L1212.0,136.4L1213.0,132.0L1214.0,130.5L1215.0,133.2L1216.0,141.1L1217.0,153.2L1218.0,168.6L1219.0,185.7L1220.0,203.2L1221.0,219.9L1222.0,235.0L1223.0,247.8L1224.0,258.3L1225.0,266.3L1226.0,272.2L1227.0,276.3L1228.0,279.1L1231.0,282.7L1234.0,283.1L1237.0,282.9L1240.0,282.6L1243.0,282.1L1246.0,281.4L1249.0,281.4L1252.0,280.9L1255.0,281.1L1258.0,281.4" fill="none" stroke="#86b834" stroke-width="3.4" stroke-linejoin="round"/>
<path d="M1172.8,276.0L1175.8,276.7L1178.8,275.5L1181.8,276.0L1184.8,275.0L1187.8,274.5L1190.8,274.7L1193.8,274.1L1196.8,272.9L1199.8,272.1L1202.8,271.8L1205.8,271.4L1208.8,270.3L1211.8,268.8L1214.8,266.6L1217.8,264.0L1220.8,261.0L1223.8,257.2L1226.8,251.9L1229.8,244.5L1232.8,234.0L1235.8,219.1L1236.8,212.8L1237.8,205.8L1238.8,198.1L1239.8,189.5L1240.8,180.4L1241.8,170.7L1242.8,161.0L1243.8,151.6L1244.8,143.1L1245.8,136.4L1246.8,132.0L1247.8,130.5L1248.8,133.2L1249.8,141.1L1250.8,153.2L1251.8,168.6L1252.8,185.7L1253.8,203.2L1254.8,219.9L1255.8,235.0L1256.8,247.8L1257.8,258.3L1258.8,266.3L1259.8,272.2L1260.8,276.4L1261.8,279.2L1264.8,282.8L1267.8,283.3L1270.8,283.2L1273.8,282.4L1276.8,283.1L1279.8,282.6L1282.8,282.1L1285.8,281.4L1288.8,281.5L1291.8,281.2" fill="none" stroke="#62b83e" stroke-width="3.4" stroke-linejoin="round"/>
<path d="M1210.5,275.7L1213.5,276.1L1216.5,275.1L1219.5,275.2L1222.5,274.7L1225.5,274.2L1228.5,274.3L1231.5,273.9L1234.5,273.1L1237.5,272.0L1240.5,270.8L1243.5,270.5L1246.5,269.6L1249.5,267.4L1252.5,265.6L1255.5,263.3L1258.5,260.8L1261.5,256.9L1264.5,251.5L1267.5,244.2L1270.5,233.8L1273.5,218.9L1274.5,212.6L1275.5,205.6L1276.5,197.9L1277.5,189.4L1278.5,180.2L1279.5,170.6L1280.5,160.9L1281.5,151.5L1282.5,143.1L1283.5,136.4L1284.5,132.0L1285.5,130.5L1286.5,133.2L1287.5,141.1L1288.5,153.2L1289.5,168.6L1290.5,185.7L1291.5,203.2L1292.5,219.9L1293.5,235.0L1294.5,247.8L1295.5,258.3L1296.5,266.3L1297.5,272.2L1298.5,276.4L1299.5,279.3L1302.5,282.9L1305.5,283.5L1308.5,283.4L1311.5,282.7L1314.5,283.1L1317.5,282.8L1320.5,282.6L1323.5,282.8L1326.5,282.1L1329.5,282.6" fill="none" stroke="#52b43c" stroke-width="3.4" stroke-linejoin="round"/>
<path d="M1247.8,275.0L1250.8,275.3L1253.8,274.5L1256.8,274.8L1259.8,274.0L1262.8,274.0L1265.8,273.9L1268.8,273.1L1271.8,272.6L1274.8,271.8L1277.8,271.4L1280.8,269.9L1283.8,268.9L1286.8,268.0L1289.8,265.4L1292.8,263.4L1295.8,260.8L1298.8,256.5L1301.8,251.2L1304.8,243.9L1307.8,233.5L1310.8,218.6L1311.8,212.4L1312.8,205.4L1313.8,197.7L1314.8,189.2L1315.8,180.1L1316.8,170.5L1317.8,160.8L1318.8,151.5L1319.8,143.1L1320.8,136.4L1321.8,132.0L1322.8,130.5L1323.8,133.2L1324.8,141.1L1325.8,153.2L1326.8,168.6L1327.8,185.7L1328.8,203.2L1329.8,219.9L1330.8,235.0L1331.8,247.8L1332.8,258.3L1333.8,266.3L1334.8,272.3L1335.8,276.5L1336.8,279.3L1339.8,283.0L1342.8,283.6L1345.8,283.6L1348.8,283.8L1351.8,283.4L1354.8,283.7L1357.8,282.8L1360.8,283.0L1363.8,283.3L1366.8,282.6" fill="none" stroke="#34a84c" stroke-width="3.4" stroke-linejoin="round"/>
<path d="M1289.8,275.3L1292.8,274.6L1295.8,274.7L1298.8,273.8L1301.8,274.0L1304.8,273.3L1307.8,272.8L1310.8,272.4L1313.8,272.2L1316.8,271.0L1319.8,270.2L1322.8,269.3L1325.8,268.9L1328.8,266.6L1331.8,264.9L1334.8,263.3L1337.8,259.9L1340.8,256.1L1343.8,250.8L1346.8,243.5L1349.8,233.2L1352.8,218.4L1353.8,212.1L1354.8,205.2L1355.8,197.5L1356.8,189.1L1357.8,180.0L1358.8,170.4L1359.8,160.7L1360.8,151.4L1361.8,143.0L1362.8,136.4L1363.8,132.0L1364.8,130.5L1365.8,133.2L1366.8,141.1L1367.8,153.2L1368.8,168.6L1369.8,185.7L1370.8,203.2L1371.8,219.9L1372.8,235.0L1373.8,247.8L1374.8,258.3L1375.8,266.3L1376.8,272.3L1377.8,276.5L1378.8,279.4L1381.8,283.1L1384.8,283.8L1387.8,283.8L1390.8,283.5L1393.8,283.5L1396.8,283.5L1399.8,283.8L1402.8,283.9L1405.8,283.7L1408.8,283.6" fill="none" stroke="#11807e" stroke-width="3.4" stroke-linejoin="round"/>
<path d="M1332.5,275.1L1335.5,274.0L1338.5,273.6L1341.5,273.4L1344.5,273.2L1347.5,272.9L1350.5,272.7L1353.5,272.2L1356.5,271.6L1359.5,270.4L1362.5,270.7L1365.5,269.6L1368.5,267.5L1371.5,266.2L1374.5,264.6L1377.5,262.3L1380.5,260.1L1383.5,255.8L1386.5,250.5L1389.5,243.2L1392.5,232.9L1395.5,218.1L1396.5,211.9L1397.5,205.0L1398.5,197.3L1399.5,188.9L1400.5,179.8L1401.5,170.3L1402.5,160.6L1403.5,151.3L1404.5,143.0L1405.5,136.3L1406.5,132.0L1407.5,130.5L1408.5,133.2L1409.5,141.1L1410.5,153.2L1411.5,168.6L1412.5,185.7L1413.5,203.2L1414.5,219.9L1415.5,235.0L1416.5,247.8L1417.5,258.3L1418.5,266.4L1419.5,272.3L1420.5,276.6L1421.5,279.5L1424.5,283.2L1427.5,284.0L1430.5,284.0L1433.5,283.5L1436.5,283.9L1439.5,284.0L1442.5,283.6L1445.5,283.6L1448.5,283.9L1451.5,283.7" fill="none" stroke="#1f44a4" stroke-width="3.4" stroke-linejoin="round"/>
<path d="M1375.2,273.7L1378.2,274.1L1381.2,274.3L1384.2,273.3L1387.2,272.6L1390.2,273.4L1393.2,272.6L1396.2,271.8L1399.2,270.7L1402.2,270.6L1405.2,270.4L1408.2,268.5L1411.2,267.2L1414.2,266.0L1417.2,263.9L1420.2,261.7L1423.2,259.1L1426.2,255.4L1429.2,250.1L1432.2,242.8L1435.2,232.5L1438.2,217.8L1439.2,211.6L1440.2,204.7L1441.2,197.1L1442.2,188.7L1443.2,179.7L1444.2,170.2L1445.2,160.6L1446.2,151.3L1447.2,143.0L1448.2,136.3L1449.2,132.0L1450.2,130.5L1451.2,133.2L1452.2,141.1L1453.2,153.2L1454.2,168.6L1455.2,185.7L1456.2,203.2L1457.2,219.9L1458.2,235.0L1459.2,247.8L1460.2,258.3L1461.2,266.4L1462.2,272.4L1463.2,276.6L1464.2,279.5L1467.2,283.4L1470.2,284.1" fill="none" stroke="#1c3898" stroke-width="3.4" stroke-linejoin="round"/>
<defs><linearGradient id="band114" x1="0" y1="0" x2="0" y2="1"><stop offset="0" stop-color="#e8201a"/><stop offset="0.3" stop-color="#ee3a18"/><stop offset="0.5" stop-color="#f26a1c"/><stop offset="0.66" stop-color="#f29424"/><stop offset="0.76" stop-color="#b4c030"/><stop offset="0.84" stop-color="#4ab240"/><stop offset="0.92" stop-color="#3aa84a"/><stop offset="1" stop-color="#2a7a9a"/></linearGradient></defs>
<path d="M1010.8,277.3L1013.3,277.5L1015.8,277.8L1018.3,277.0L1020.8,276.9L1023.3,276.7L1025.8,277.0L1028.3,277.3L1030.8,276.7L1033.3,276.7L1035.8,277.3L1038.3,277.3L1040.8,277.0L1043.3,277.0L1045.8,277.1L1048.3,276.4L1050.8,277.2L1053.3,277.1L1055.8,277.0L1058.3,276.7L1060.8,276.6L1063.3,276.9L1065.8,276.4L1068.3,277.0L1070.8,276.4L1073.3,276.8L1075.8,277.0L1078.3,277.2L1080.8,277.2L1083.3,277.1L1085.8,276.7L1088.3,276.9L1090.8,276.8L1093.3,275.9L1095.8,276.7L1098.3,276.0L1100.8,276.3L1103.3,276.1L1105.8,276.1L1108.3,275.8L1110.8,276.9L1113.3,275.8L1115.8,276.8L1118.3,276.7L1120.8,275.9L1123.3,276.6L1125.8,276.5L1128.3,276.6L1130.8,275.5L1133.3,276.0L1135.8,276.1L1138.3,276.2L1140.8,276.1L1143.3,275.5L1145.8,275.3L1148.3,275.9L1150.8,276.2L1153.3,275.3L1155.8,275.3L1158.3,275.3L1160.8,275.3L1163.3,276.0L1165.8,275.6L1168.3,276.2L1170.8,276.2L1173.3,275.6L1175.8,275.3L1178.3,275.7L1180.8,275.5L1183.3,275.6L1185.8,275.1L1188.3,274.9L1190.8,275.6L1193.3,275.7L1195.8,275.7L1198.3,275.1L1200.8,275.1L1203.3,274.9L1205.8,274.7L1208.3,275.7L1210.8,274.7L1213.3,275.2L1215.8,275.5L1218.3,275.1L1220.8,275.4L1223.3,275.5L1225.8,274.8L1228.3,275.3L1230.8,275.3L1233.3,274.6L1235.8,274.5L1238.3,274.4L1240.8,274.7L1243.3,275.4L1245.8,274.9L1248.3,274.8L1250.8,275.1L1253.3,274.6L1255.8,275.2L1258.3,274.7L1260.8,274.2L1263.3,274.5L1265.8,274.6L1268.3,274.4L1270.8,274.9L1273.3,274.4L1275.8,274.0L1278.3,274.3L1280.8,274.5L1283.3,274.9L1285.8,274.4L1288.3,274.8L1290.8,274.3L1293.3,275.0L1295.8,274.5L1298.3,274.0L1300.8,274.0L1303.3,273.8L1305.8,274.5L1308.3,274.2L1310.8,274.0L1313.3,273.8L1315.8,274.7L1318.3,274.3L1320.8,273.5L1323.3,274.6L1325.8,274.4L1328.3,274.5L1330.8,274.1L1333.3,274.1L1335.8,273.8L1338.3,273.7L1340.8,273.7L1343.3,273.6L1345.8,273.5L1348.3,273.4L1350.8,273.3L1353.3,273.2L1355.8,273.1L1358.3,273.5L1360.8,274.3L1363.3,274.1L1365.8,273.0L1368.3,273.8L1370.8,274.0L1373.3,273.5L1375.8,273.5L1378.3,274.1L1380.8,273.8L1383.3,273.0L1385.8,273.1L1388.3,273.4L1390.8,273.1L1393.3,273.8L1395.8,273.4L1398.3,273.8L1400.8,273.2L1403.3,273.2L1405.8,273.4L1408.3,273.5L1410.8,273.3L1413.3,273.3L1415.8,273.4L1418.3,272.5L1420.8,272.4L1423.3,273.6L1425.8,273.6L1428.3,272.5L1430.8,273.3L1433.3,272.5L1435.8,273.0L1438.3,273.2L1440.8,272.7L1443.3,273.3L1445.8,273.2L1448.3,273.2L1450.8,272.6L1453.3,272.5L1455.8,272.2L1458.3,272.9L1460.8,272.7L1463.3,272.3L1465.8,272.1L1468.3,271.9L1470.8,272.4L1471.0,290.9L1010.8,290.9Z" fill="url(#band114)"/>
<path d="M1010.0,282.6L1014.0,282.0L1018.0,282.5L1022.0,282.7L1026.0,281.7L1030.0,281.8L1034.0,282.9L1038.0,282.8L1042.0,281.5L1046.0,282.6L1050.0,281.3L1054.0,282.5L1058.0,281.7L1062.0,282.6L1066.0,281.4L1070.0,282.2L1074.0,281.1L1078.0,281.2L1082.0,281.8L1086.0,282.4L1090.0,281.2L1094.0,281.5L1098.0,281.1L1102.0,282.0L1106.0,281.0L1110.0,281.2L1114.0,280.9L1118.0,282.4L1122.0,281.1L1126.0,281.8L1130.0,282.1L1134.0,280.8L1138.0,282.1L1142.0,281.6L1146.0,282.2L1150.0,282.0L1154.0,280.8L1158.0,281.4L1162.0,281.2L1166.0,281.7L1170.0,280.8L1174.0,281.3L1178.0,281.6L1182.0,282.1L1186.0,281.7L1190.0,280.6L1194.0,280.6L1198.0,281.8L1202.0,280.6L1206.0,281.9L1210.0,280.6L1214.0,281.1L1218.0,281.9L1222.0,281.8L1226.0,280.4L1230.0,280.9L1234.0,281.2L1238.0,281.1L1242.0,281.7L1246.0,280.7L1250.0,280.9L1254.0,280.3L1258.0,280.2L1262.0,280.5L1266.0,280.3L1270.0,281.0L1274.0,281.1L1278.0,281.1L1282.0,280.3L1286.0,280.1L1290.0,281.2L1294.0,280.9L1298.0,281.2L1302.0,280.6L1306.0,280.5L1310.0,281.3L1314.0,281.3L1318.0,281.0L1322.0,280.0L1326.0,281.1L1330.0,279.7L1334.0,281.1L1338.0,280.7L1342.0,280.2L1346.0,280.0L1350.0,280.2L1354.0,281.0L1358.0,280.5L1362.0,280.5L1366.0,280.2L1370.0,280.3L1374.0,280.9L1378.0,280.4L1382.0,279.8L1386.0,280.9L1390.0,280.8L1394.0,280.1L1398.0,279.6L1402.0,280.4L1406.0,280.1L1410.0,279.3L1414.0,280.8L1418.0,279.8L1422.0,280.0L1426.0,279.3L1430.0,279.2L1434.0,279.8L1438.0,279.8L1442.0,279.4L1446.0,280.7L1450.0,279.6L1454.0,280.4L1458.0,279.9L1462.0,280.0L1466.0,279.4L1470.0,280.5L1474.0,279.9" fill="none" stroke="#d81818" stroke-width="1.2" opacity="0.7"/>
<path d="M1010.0,281.6L1014.0,281.1L1018.0,280.9L1022.0,281.6L1026.0,281.3L1030.0,281.3L1034.0,281.1L1038.0,281.3L1042.0,281.1L1046.0,281.6L1050.0,280.5L1054.0,280.9L1058.0,281.1L1062.0,281.6L1066.0,281.8L1070.0,281.9L1074.0,281.5L1078.0,281.5L1082.0,281.7L1086.0,281.2L1090.0,280.8L1094.0,281.1L1098.0,281.1L1102.0,281.1L1106.0,280.6L1110.0,280.1L1114.0,281.5L1118.0,280.4L1122.0,281.3L1126.0,280.5L1130.0,281.3L1134.0,281.0L1138.0,280.9L1142.0,281.4L1146.0,280.8L1150.0,281.0L1154.0,280.6L1158.0,279.8L1162.0,280.3L1166.0,280.0L1170.0,281.1L1174.0,280.4L1178.0,279.7L1182.0,281.1L1186.0,280.6L1190.0,281.0L1194.0,280.0L1198.0,280.3L1202.0,280.2L1206.0,280.4L1210.0,281.0L1214.0,280.1L1218.0,279.6L1222.0,280.6L1226.0,280.9L1230.0,279.4L1234.0,279.6L1238.0,279.6L1242.0,280.1L1246.0,280.4L1250.0,279.6L1254.0,279.3L1258.0,280.0L1262.0,280.1L1266.0,279.7L1270.0,279.1L1274.0,279.7L1278.0,280.4L1282.0,280.0L1286.0,279.9L1290.0,279.7L1294.0,280.3L1298.0,279.8L1302.0,279.3L1306.0,279.4L1310.0,279.4L1314.0,280.1L1318.0,280.3L1322.0,279.7L1326.0,279.3L1330.0,279.1L1334.0,280.0L1338.0,278.7L1342.0,280.0L1346.0,279.7L1350.0,278.7L1354.0,279.3L1358.0,279.2L1362.0,280.0L1366.0,279.3L1370.0,279.8L1374.0,278.7L1378.0,278.6L1382.0,280.0L1386.0,278.5L1390.0,279.7L1394.0,279.3L1398.0,279.7L1402.0,278.6L1406.0,279.5L1410.0,279.4L1414.0,279.3L1418.0,279.5L1422.0,279.4L1426.0,278.9L1430.0,278.9L1434.0,278.2L1438.0,278.1L1442.0,279.6L1446.0,278.9L1450.0,278.5L1454.0,279.6L1458.0,279.4L1462.0,277.9L1466.0,278.8L1470.0,279.2L1474.0,279.2" fill="none" stroke="#f05020" stroke-width="1.2" opacity="0.7"/>
<path d="M1010.0,283.5L1014.0,283.0L1018.0,282.9L1022.0,283.9L1026.0,283.4L1030.0,282.8L1034.0,283.4L1038.0,282.6L1042.0,282.8L1046.0,283.8L1050.0,283.5L1054.0,283.1L1058.0,283.9L1062.0,283.4L1066.0,283.3L1070.0,283.6L1074.0,283.2L1078.0,283.8L1082.0,282.6L1086.0,283.7L1090.0,283.7L1094.0,283.0L1098.0,283.5L1102.0,283.2L1106.0,282.7L1110.0,282.7L1114.0,283.3L1118.0,283.6L1122.0,282.4L1126.0,283.7L1130.0,283.0L1134.0,283.0L1138.0,282.6L1142.0,282.1L1146.0,283.5L1150.0,282.6L1154.0,283.0L1158.0,282.8L1162.0,283.3L1166.0,282.2L1170.0,282.0L1174.0,283.0L1178.0,283.2L1182.0,282.3L1186.0,282.2L1190.0,282.3L1194.0,282.8L1198.0,283.0L1202.0,282.4L1206.0,283.2L1210.0,282.8L1214.0,282.4L1218.0,282.7L1222.0,282.0L1226.0,282.0L1230.0,282.5L1234.0,282.1L1238.0,282.5L1242.0,283.2L1246.0,282.6L1250.0,283.0L1254.0,282.7L1258.0,282.2L1262.0,281.9L1266.0,282.6L1270.0,282.0L1274.0,282.9L1278.0,282.6L1282.0,282.5L1286.0,282.6L1290.0,281.8L1294.0,281.9L1298.0,282.5L1302.0,282.9L1306.0,281.6L1310.0,281.4L1314.0,281.7L1318.0,281.5L1322.0,282.0L1326.0,281.8L1330.0,282.5L1334.0,281.8L1338.0,282.2L1342.0,281.7L1346.0,282.7L1350.0,282.6L1354.0,282.4L1358.0,281.4L1362.0,282.5L1366.0,281.5L1370.0,282.3L1374.0,281.8L1378.0,281.9L1382.0,281.9L1386.0,281.8L1390.0,281.2L1394.0,281.9L1398.0,282.5L1402.0,281.7L1406.0,280.8L1410.0,281.2L1414.0,281.3L1418.0,282.1L1422.0,282.1L1426.0,281.6L1430.0,281.9L1434.0,281.9L1438.0,281.4L1442.0,280.7L1446.0,281.1L1450.0,281.4L1454.0,280.6L1458.0,282.1L1462.0,280.8L1466.0,281.0L1470.0,281.1L1474.0,280.9" fill="none" stroke="#f08020" stroke-width="1.2" opacity="0.7"/>
<path d="M1010.0,281.7L1014.0,281.2L1018.0,281.3L1022.0,282.3L1026.0,282.6L1030.0,281.8L1034.0,281.6L1038.0,281.2L1042.0,282.5L1046.0,281.1L1050.0,281.3L1054.0,281.4L1058.0,281.6L1062.0,282.3L1066.0,281.2L1070.0,282.1L1074.0,281.0L1078.0,281.7L1082.0,281.9L1086.0,281.1L1090.0,281.9L1094.0,282.2L1098.0,282.1L1102.0,281.8L1106.0,281.7L1110.0,281.0L1114.0,281.6L1118.0,281.7L1122.0,281.9L1126.0,282.1L1130.0,281.0L1134.0,280.6L1138.0,281.1L1142.0,281.7L1146.0,281.7L1150.0,281.6L1154.0,281.6L1158.0,280.8L1162.0,281.4L1166.0,280.6L1170.0,280.8L1174.0,281.4L1178.0,281.7L1182.0,280.5L1186.0,281.3L1190.0,281.7L1194.0,281.6L1198.0,281.4L1202.0,281.6L1206.0,281.5L1210.0,280.5L1214.0,280.6L1218.0,280.9L1222.0,280.8L1226.0,281.5L1230.0,281.5L1234.0,281.1L1238.0,280.6L1242.0,281.4L1246.0,279.9L1250.0,280.5L1254.0,280.6L1258.0,280.3L1262.0,280.1L1266.0,281.3L1270.0,280.4L1274.0,280.6L1278.0,281.1L1282.0,280.5L1286.0,279.6L1290.0,280.2L1294.0,279.7L1298.0,280.4L1302.0,281.0L1306.0,279.8L1310.0,279.6L1314.0,280.2L1318.0,280.6L1322.0,280.3L1326.0,279.4L1330.0,279.5L1334.0,280.7L1338.0,279.4L1342.0,279.4L1346.0,279.3L1350.0,279.5L1354.0,279.8L1358.0,279.3L1362.0,280.3L1366.0,279.7L1370.0,280.3L1374.0,279.7L1378.0,279.1L1382.0,279.6L1386.0,280.1L1390.0,279.8L1394.0,280.5L1398.0,279.3L1402.0,280.0L1406.0,280.3L1410.0,278.9L1414.0,279.2L1418.0,279.0L1422.0,278.9L1426.0,279.5L1430.0,279.8L1434.0,280.3L1438.0,279.5L1442.0,279.6L1446.0,278.9L1450.0,279.0L1454.0,280.0L1458.0,279.0L1462.0,279.2L1466.0,279.7L1470.0,280.0L1474.0,279.7" fill="none" stroke="#e02818" stroke-width="1.2" opacity="0.7"/>
<path d="M1010.0,278.7L1014.0,277.8L1018.0,278.9L1022.0,278.9L1026.0,278.2L1030.0,278.7L1034.0,279.1L1038.0,278.4L1042.0,278.6L1046.0,278.6L1050.0,278.2L1054.0,277.7L1058.0,278.5L1062.0,277.4L1066.0,277.9L1070.0,277.3L1074.0,277.5L1078.0,278.5L1082.0,278.3L1086.0,277.7L1090.0,277.5L1094.0,277.6L1098.0,277.7L1102.0,277.7L1106.0,278.4L1110.0,277.1L1114.0,277.5L1118.0,277.4L1122.0,278.1L1126.0,278.4L1130.0,277.5L1134.0,277.6L1138.0,277.1L1142.0,277.7L1146.0,276.8L1150.0,277.3L1154.0,276.9L1158.0,277.5L1162.0,276.6L1166.0,277.7L1170.0,277.7L1174.0,277.4L1178.0,277.5L1182.0,277.3L1186.0,277.3L1190.0,277.8L1194.0,277.4L1198.0,277.3L1202.0,276.9L1206.0,277.8L1210.0,277.6L1214.0,276.5L1218.0,276.2L1222.0,276.2L1226.0,276.5L1230.0,276.3L1234.0,276.7L1238.0,276.4L1242.0,277.2L1246.0,277.0L1250.0,276.7L1254.0,276.6L1258.0,276.5L1262.0,277.1L1266.0,276.3L1270.0,276.8L1274.0,276.9L1278.0,276.6L1282.0,276.3L1286.0,276.5L1290.0,276.9L1294.0,276.5L1298.0,276.4L1302.0,276.9L1306.0,276.2L1310.0,275.5L1314.0,275.7L1318.0,276.8L1322.0,276.5L1326.0,275.2L1330.0,276.1L1334.0,275.8L1338.0,275.8L1342.0,275.8L1346.0,275.2L1350.0,276.2L1354.0,275.4L1358.0,275.6L1362.0,275.1L1366.0,275.7L1370.0,276.2L1374.0,275.5L1378.0,276.4L1382.0,275.0L1386.0,275.9L1390.0,275.5L1394.0,276.1L1398.0,275.4L1402.0,274.9L1406.0,275.8L1410.0,274.8L1414.0,275.3L1418.0,275.2L1422.0,274.4L1426.0,275.7L1430.0,275.5L1434.0,275.3L1438.0,274.5L1442.0,275.0L1446.0,275.3L1450.0,274.5L1454.0,275.3L1458.0,274.8L1462.0,275.3L1466.0,274.3L1470.0,274.6L1474.0,274.2" fill="none" stroke="#f06a20" stroke-width="1.2" opacity="0.7"/>
<path d="M1010.0,287.5L1014.0,287.4L1018.0,288.3L1022.0,286.8L1026.0,287.9L1030.0,287.2L1034.0,287.3L1038.0,287.2L1042.0,288.1L1046.0,287.4L1050.0,288.2L1054.0,287.6L1058.0,287.3L1062.0,287.7L1066.0,288.0L1070.0,287.2L1074.0,287.4L1078.0,287.1L1082.0,287.9L1086.0,288.0L1090.0,286.9L1094.0,287.5L1098.0,287.6L1102.0,288.0L1106.0,287.9L1110.0,286.7L1114.0,286.6L1118.0,286.7L1122.0,287.4L1126.0,286.9L1130.0,287.9L1134.0,286.7L1138.0,286.8L1142.0,287.1L1146.0,286.6L1150.0,287.9L1154.0,287.1L1158.0,287.1L1162.0,286.6L1166.0,287.3L1170.0,287.9L1174.0,287.5L1178.0,287.3L1182.0,287.4L1186.0,287.7L1190.0,287.3L1194.0,287.6L1198.0,287.5L1202.0,286.7L1206.0,287.3L1210.0,287.2L1214.0,286.6L1218.0,286.9L1222.0,287.0L1226.0,288.0L1230.0,287.1L1234.0,286.4L1238.0,287.1L1242.0,287.8L1246.0,286.5L1250.0,286.9L1254.0,286.7L1258.0,286.3L1262.0,287.3L1266.0,287.2L1270.0,286.5L1274.0,287.9L1278.0,286.8L1282.0,287.2L1286.0,287.7L1290.0,287.5L1294.0,287.3L1298.0,287.7L1302.0,287.8L1306.0,287.0L1310.0,286.5L1314.0,286.6L1318.0,286.5L1322.0,286.4L1326.0,287.2L1330.0,286.8L1334.0,287.4L1338.0,287.1L1342.0,287.5L1346.0,287.4L1350.0,287.5L1354.0,286.7L1358.0,287.0L1362.0,287.8L1366.0,286.3L1370.0,286.5L1374.0,286.5L1378.0,287.2L1382.0,287.0L1386.0,287.1L1390.0,286.8L1394.0,287.1L1398.0,287.1L1402.0,286.4L1406.0,286.8L1410.0,286.7L1414.0,287.5L1418.0,286.7L1422.0,287.3L1426.0,286.7L1430.0,286.7L1434.0,286.3L1438.0,287.1L1442.0,286.6L1446.0,287.4L1450.0,286.6L1454.0,287.2L1458.0,286.9L1462.0,286.8L1466.0,286.5L1470.0,286.9L1474.0,286.3" fill="none" stroke="#60b040" stroke-width="1.2" opacity="0.7"/>
<path d="M1010.0,285.5L1014.0,285.4L1018.0,286.1L1022.0,286.0L1026.0,285.1L1030.0,285.7L1034.0,286.5L1038.0,286.3L1042.0,286.6L1046.0,285.2L1050.0,285.6L1054.0,285.7L1058.0,286.1L1062.0,286.2L1066.0,285.6L1070.0,286.3L1074.0,285.8L1078.0,285.3L1082.0,286.4L1086.0,286.0L1090.0,285.1L1094.0,285.9L1098.0,286.4L1102.0,285.4L1106.0,285.1L1110.0,284.9L1114.0,285.9L1118.0,285.0L1122.0,285.6L1126.0,286.4L1130.0,284.8L1134.0,285.6L1138.0,285.6L1142.0,285.9L1146.0,285.9L1150.0,285.4L1154.0,285.0L1158.0,285.7L1162.0,286.0L1166.0,285.0L1170.0,286.0L1174.0,284.8L1178.0,286.2L1182.0,285.7L1186.0,286.0L1190.0,285.5L1194.0,284.8L1198.0,285.3L1202.0,286.2L1206.0,284.7L1210.0,285.0L1214.0,285.3L1218.0,285.4L1222.0,284.9L1226.0,284.7L1230.0,286.1L1234.0,285.7L1238.0,285.6L1242.0,285.9L1246.0,285.5L1250.0,284.9L1254.0,285.0L1258.0,285.1L1262.0,285.3L1266.0,285.1L1270.0,284.7L1274.0,284.9L1278.0,284.6L1282.0,284.8L1286.0,285.4L1290.0,285.2L1294.0,285.8L1298.0,284.9L1302.0,284.8L1306.0,285.4L1310.0,284.3L1314.0,285.6L1318.0,284.5L1322.0,284.9L1326.0,284.9L1330.0,285.3L1334.0,285.0L1338.0,285.6L1342.0,284.4L1346.0,285.7L1350.0,284.4L1354.0,284.6L1358.0,284.6L1362.0,285.2L1366.0,285.2L1370.0,284.8L1374.0,285.4L1378.0,285.5L1382.0,284.4L1386.0,284.4L1390.0,284.8L1394.0,284.9L1398.0,284.5L1402.0,284.7L1406.0,284.4L1410.0,285.1L1414.0,284.9L1418.0,285.5L1422.0,284.0L1426.0,284.9L1430.0,284.8L1434.0,284.0L1438.0,285.1L1442.0,284.0L1446.0,284.7L1450.0,284.2L1454.0,284.4L1458.0,284.9L1462.0,285.3L1466.0,285.1L1470.0,285.3L1474.0,284.5" fill="none" stroke="#d81818" stroke-width="1.2" opacity="0.7"/>
<path d="M1010.0,277.4L1014.0,278.5L1018.0,277.4L1022.0,278.5L1026.0,277.6L1030.0,277.8L1034.0,278.3L1038.0,278.5L1042.0,278.0L1046.0,278.5L1050.0,278.5L1054.0,277.4L1058.0,278.0L1062.0,278.1L1066.0,277.0L1070.0,278.4L1074.0,277.3L1078.0,278.2L1082.0,277.8L1086.0,278.2L1090.0,277.0L1094.0,277.4L1098.0,277.9L1102.0,277.3L1106.0,276.9L1110.0,277.8L1114.0,277.6L1118.0,276.8L1122.0,276.8L1126.0,277.8L1130.0,276.7L1134.0,277.7L1138.0,276.8L1142.0,276.5L1146.0,277.0L1150.0,276.7L1154.0,277.5L1158.0,276.1L1162.0,276.5L1166.0,277.6L1170.0,276.1L1174.0,276.8L1178.0,276.4L1182.0,276.6L1186.0,276.5L1190.0,276.4L1194.0,277.1L1198.0,276.5L1202.0,276.7L1206.0,276.2L1210.0,276.3L1214.0,277.0L1218.0,276.3L1222.0,276.8L1226.0,275.6L1230.0,276.7L1234.0,276.5L1238.0,276.5L1242.0,275.7L1246.0,276.5L1250.0,275.8L1254.0,276.4L1258.0,276.1L1262.0,275.7L1266.0,275.3L1270.0,275.6L1274.0,276.3L1278.0,276.4L1282.0,275.6L1286.0,275.3L1290.0,276.1L1294.0,276.0L1298.0,275.8L1302.0,275.0L1306.0,275.8L1310.0,274.9L1314.0,275.5L1318.0,275.5L1322.0,276.1L1326.0,276.2L1330.0,274.6L1334.0,275.8L1338.0,274.7L1342.0,275.3L1346.0,274.7L1350.0,275.3L1354.0,275.4L1358.0,275.4L1362.0,274.3L1366.0,274.4L1370.0,274.7L1374.0,274.5L1378.0,274.4L1382.0,275.0L1386.0,275.3L1390.0,274.6L1394.0,275.2L1398.0,275.5L1402.0,275.4L1406.0,274.6L1410.0,274.9L1414.0,275.4L1418.0,275.2L1422.0,275.2L1426.0,274.2L1430.0,274.7L1434.0,275.0L1438.0,274.0L1442.0,274.9L1446.0,273.9L1450.0,274.1L1454.0,274.7L1458.0,273.9L1462.0,273.9L1466.0,274.5L1470.0,274.5L1474.0,273.4" fill="none" stroke="#f05020" stroke-width="1.2" opacity="0.7"/>
<path d="M1010.0,285.6L1014.0,285.0L1018.0,285.6L1022.0,285.3L1026.0,284.4L1030.0,285.2L1034.0,284.5L1038.0,284.9L1042.0,285.0L1046.0,283.9L1050.0,283.9L1054.0,283.9L1058.0,285.0L1062.0,284.2L1066.0,284.1L1070.0,285.2L1074.0,284.2L1078.0,285.0L1082.0,285.0L1086.0,284.6L1090.0,284.8L1094.0,285.0L1098.0,284.6L1102.0,284.3L1106.0,285.2L1110.0,284.6L1114.0,284.4L1118.0,283.9L1122.0,283.9L1126.0,285.0L1130.0,284.2L1134.0,284.4L1138.0,284.7L1142.0,283.7L1146.0,285.1L1150.0,284.3L1154.0,284.3L1158.0,284.7L1162.0,283.5L1166.0,284.1L1170.0,284.1L1174.0,284.7L1178.0,283.6L1182.0,284.1L1186.0,283.5L1190.0,284.7L1194.0,283.4L1198.0,283.5L1202.0,283.8L1206.0,284.9L1210.0,284.7L1214.0,284.0L1218.0,283.6L1222.0,284.3L1226.0,284.4L1230.0,284.6L1234.0,283.5L1238.0,284.7L1242.0,284.7L1246.0,284.3L1250.0,283.9L1254.0,284.5L1258.0,283.1L1262.0,283.4L1266.0,284.5L1270.0,283.3L1274.0,284.0L1278.0,284.0L1282.0,284.5L1286.0,283.1L1290.0,283.5L1294.0,283.8L1298.0,284.5L1302.0,284.1L1306.0,284.5L1310.0,283.1L1314.0,283.0L1318.0,283.5L1322.0,283.6L1326.0,283.0L1330.0,283.7L1334.0,284.4L1338.0,284.4L1342.0,283.9L1346.0,284.3L1350.0,284.1L1354.0,282.9L1358.0,283.7L1362.0,284.2L1366.0,284.0L1370.0,284.1L1374.0,283.9L1378.0,283.8L1382.0,283.4L1386.0,284.1L1390.0,284.2L1394.0,284.1L1398.0,283.7L1402.0,283.0L1406.0,283.6L1410.0,284.0L1414.0,283.1L1418.0,283.9L1422.0,283.3L1426.0,283.5L1430.0,282.8L1434.0,284.0L1438.0,283.7L1442.0,282.6L1446.0,284.0L1450.0,283.5L1454.0,283.6L1458.0,282.4L1462.0,283.1L1466.0,283.0L1470.0,282.5L1474.0,283.5" fill="none" stroke="#f08020" stroke-width="1.2" opacity="0.7"/>
<path d="M1010.0,286.9L1014.0,287.0L1018.0,287.4L1022.0,286.1L1026.0,287.4L1030.0,285.9L1034.0,286.2L1038.0,287.4L1042.0,286.9L1046.0,286.1L1050.0,286.9L1054.0,286.5L1058.0,286.6L1062.0,287.4L1066.0,286.6L1070.0,286.0L1074.0,286.0L1078.0,287.2L1082.0,287.2L1086.0,285.8L1090.0,285.8L1094.0,286.8L1098.0,286.4L1102.0,285.7L1106.0,286.2L1110.0,286.6L1114.0,286.1L1118.0,286.8L1122.0,287.0L1126.0,287.1L1130.0,285.7L1134.0,286.9L1138.0,286.8L1142.0,287.1L1146.0,285.6L1150.0,286.9L1154.0,287.2L1158.0,286.5L1162.0,286.2L1166.0,286.1L1170.0,286.4L1174.0,286.8L1178.0,285.6L1182.0,287.0L1186.0,287.0L1190.0,285.5L1194.0,286.8L1198.0,287.1L1202.0,286.9L1206.0,285.6L1210.0,285.5L1214.0,285.7L1218.0,285.5L1222.0,286.9L1226.0,286.3L1230.0,285.7L1234.0,286.2L1238.0,287.0L1242.0,286.7L1246.0,285.9L1250.0,286.8L1254.0,286.2L1258.0,286.3L1262.0,286.8L1266.0,285.8L1270.0,285.4L1274.0,285.9L1278.0,285.6L1282.0,286.0L1286.0,286.1L1290.0,285.7L1294.0,286.2L1298.0,286.2L1302.0,286.0L1306.0,286.3L1310.0,286.3L1314.0,286.4L1318.0,285.5L1322.0,285.5L1326.0,286.8L1330.0,286.7L1334.0,285.3L1338.0,285.7L1342.0,286.3L1346.0,286.3L1350.0,286.3L1354.0,285.2L1358.0,286.2L1362.0,286.0L1366.0,285.6L1370.0,285.7L1374.0,285.7L1378.0,285.3L1382.0,285.3L1386.0,285.1L1390.0,286.6L1394.0,285.8L1398.0,286.1L1402.0,286.3L1406.0,285.8L1410.0,286.1L1414.0,285.9L1418.0,286.1L1422.0,286.2L1426.0,286.3L1430.0,285.2L1434.0,286.2L1438.0,285.8L1442.0,285.3L1446.0,286.5L1450.0,286.0L1454.0,285.9L1458.0,285.4L1462.0,285.2L1466.0,285.2L1470.0,286.3L1474.0,285.2" fill="none" stroke="#e02818" stroke-width="1.2" opacity="0.7"/>
<path d="M1411.0,289.6 L1471,288.6 L1471,291.5 L1391.0,291.5 Z" fill="#1a5a9a" opacity="0.85"/>
</g>
<rect x="1010.8" y="114" width="460.2" height="177.5" fill="none" stroke="#3a3a3a" stroke-width="1.4"/>
<line x1="1010.8" y1="291.5" x2="1015.8" y2="291.5" stroke="#333" stroke-width="1.3"/>
<line x1="1010.8" y1="211.0" x2="1015.8" y2="211.0" stroke="#333" stroke-width="1.3"/>
<line x1="1010.8" y1="130.5" x2="1015.8" y2="130.5" stroke="#333" stroke-width="1.3"/>
<line x1="1052.6" y1="291.5" x2="1052.6" y2="286.5" stroke="#333" stroke-width="1.3"/>
<line x1="1262.6" y1="291.5" x2="1262.6" y2="286.5" stroke="#333" stroke-width="1.3"/>
<text x="1001" y="300.3" font-size="24.5" fill="#111" text-anchor="end" font-weight="normal" font-family="'Liberation Sans', Arial, sans-serif" stroke="#111" stroke-width="0.7" textLength="31.5" lengthAdjust="spacingAndGlyphs">0.0</text>
<text x="1001" y="219.8" font-size="24.5" fill="#111" text-anchor="end" font-weight="normal" font-family="'Liberation Sans', Arial, sans-serif" stroke="#111" stroke-width="0.7" textLength="31.5" lengthAdjust="spacingAndGlyphs">0.5</text>
<text x="1001" y="139.3" font-size="24.5" fill="#111" text-anchor="end" font-weight="normal" font-family="'Liberation Sans', Arial, sans-serif" stroke="#111" stroke-width="0.7" textLength="31.5" lengthAdjust="spacingAndGlyphs">1.0</text>
<line x1="1032.6" y1="130.5" x2="1484" y2="130.5" stroke="#333" stroke-width="2" stroke-dasharray="3,4"/>
<text x="1485.5" y="140.5" font-size="20" fill="#111" text-anchor="start" font-weight="normal" font-family="'Liberation Sans', Arial, sans-serif" >R</text>
<text x="1499.5" y="145.5" font-size="12" fill="#111" text-anchor="start" font-weight="normal" font-family="'Liberation Sans', Arial, sans-serif" >0</text>
<defs><clipPath id="clip380"><rect x="1010.8" y="380" width="460.20000000000005" height="283"/></clipPath></defs>
<g clip-path="url(#clip380)">
<path d="M1010.8,582.9L1014.8,556.3L1016.3,542.5L1017.8,526.1L1019.3,507.0L1020.8,485.2L1022.3,461.5L1023.8,437.9L1025.3,417.5L1026.8,404.0L1028.3,400.8L1029.8,413.9L1031.3,443.0L1032.8,481.7L1034.3,522.8L1035.8,560.2L1037.3,590.2L1038.8,611.8L1040.3,625.8L1041.8,634.0L1043.3,638.4L1047.3,641.9" fill="none" stroke="#cdd3de" stroke-width="1.4"/>
<path d="M1010.8,530.8L1012.3,512.4L1013.8,491.2L1015.3,467.9L1016.8,444.1L1018.3,422.4L1019.8,406.7L1021.3,400.4L1022.8,408.7L1024.3,434.0L1025.8,470.8L1027.3,512.0L1028.8,550.9L1030.3,583.0L1031.8,606.8L1033.3,622.7L1034.8,632.3L1036.3,637.5L1040.3,641.8" fill="none" stroke="#d8d0d8" stroke-width="1.4"/>
<path d="M1010.8,434.9L1012.3,415.2L1013.8,402.9L1015.3,401.5L1016.8,417.0L1018.3,447.7L1019.8,487.2L1021.3,528.1L1022.8,564.7L1024.3,593.6L1025.8,614.1L1027.3,627.2L1028.8,634.8L1032.8,641.4L1036.8,642.1" fill="none" stroke="#d0d8d4" stroke-width="1.4"/>
<path d="M1010.8,619.7L1014.8,613.2L1018.8,603.8L1022.8,589.4L1026.8,566.6L1030.8,530.0L1032.3,511.5L1033.8,490.2L1035.3,466.9L1036.8,443.3L1038.3,422.1L1039.8,407.1L1041.3,401.8L1042.8,411.5L1044.3,437.9L1045.8,475.2L1047.3,516.1L1048.8,554.3L1050.3,585.7L1051.8,608.6L1053.3,623.8L1054.8,632.9L1056.3,637.8L1060.3,641.8" fill="none" stroke="#d2d2da" stroke-width="1.4"/>
<path d="M1010.8,626.6L1014.8,623.0L1018.8,617.9L1022.8,610.7L1026.8,599.9L1030.8,583.4L1034.8,556.9L1036.3,543.2L1037.8,526.9L1039.3,507.9L1040.8,486.2L1042.3,462.8L1043.8,439.5L1045.3,419.5L1046.8,406.5L1048.3,403.7L1049.8,417.3L1051.3,446.4L1052.8,484.9L1054.3,525.5L1055.8,562.3L1057.3,591.7L1058.8,612.7L1060.3,626.3L1061.8,634.3L1063.3,638.6L1067.3,641.9" fill="none" stroke="#dcd2d2" stroke-width="1.4"/>
<path d="M1010.8,630.9L1014.8,628.6L1018.8,625.6L1022.8,621.6L1026.8,616.0L1030.8,607.8L1034.8,595.5L1038.8,576.3L1042.8,545.5L1044.3,529.6L1045.8,511.0L1047.3,489.8L1048.8,466.6L1050.3,443.3L1051.8,422.8L1053.3,408.9L1054.8,404.7L1056.3,416.2L1057.8,443.6L1059.3,481.1L1060.8,521.6L1062.3,558.8L1063.8,589.0L1065.3,610.9L1066.8,625.1L1068.3,633.6L1069.8,638.2L1073.8,641.8" fill="none" stroke="#cdd3de" stroke-width="1.4"/>
<path d="M1013.3,634.9L1017.3,633.8L1021.3,632.4L1025.3,630.5L1029.3,628.2L1033.3,625.0L1037.3,620.8L1041.3,614.7L1045.3,605.9L1049.3,592.6L1053.3,571.6L1057.3,537.8L1058.8,520.6L1060.3,500.6L1061.8,478.4L1063.3,455.0L1064.8,433.0L1066.3,415.8L1067.8,406.9L1069.3,410.5L1070.8,431.1L1072.3,464.7L1073.8,504.4L1075.3,543.5L1076.8,576.9L1078.3,602.3L1079.8,619.7L1081.3,630.5L1082.8,636.6L1086.8,641.6" fill="none" stroke="#d8d0d8" stroke-width="1.4"/>
<path d="M1020.3,634.9L1024.3,633.8L1028.3,632.4L1032.3,630.6L1036.3,628.2L1040.3,625.1L1044.3,620.8L1048.3,614.8L1052.3,606.0L1056.3,592.7L1060.3,571.7L1064.3,538.0L1065.8,520.8L1067.3,500.8L1068.8,478.6L1070.3,455.3L1071.8,433.3L1073.3,416.1L1074.8,407.3L1076.3,410.8L1077.8,431.4L1079.3,465.0L1080.8,504.6L1082.3,543.6L1083.8,577.0L1085.3,602.4L1086.8,619.7L1088.3,630.5L1089.8,636.6L1093.8,641.6" fill="none" stroke="#d0d8d4" stroke-width="1.4"/>
<path d="M1027.4,634.9L1031.4,633.8L1035.4,632.4L1039.4,630.6L1043.4,628.2L1047.4,625.1L1051.4,620.8L1055.4,614.8L1059.4,606.0L1063.4,592.8L1067.4,571.8L1071.4,538.1L1072.9,520.9L1074.4,501.0L1075.9,478.8L1077.4,455.5L1078.9,433.6L1080.4,416.4L1081.9,407.6L1083.4,411.1L1084.9,431.7L1086.4,465.2L1087.9,504.8L1089.4,543.7L1090.9,577.1L1092.4,602.4L1093.9,619.8L1095.4,630.5L1096.9,636.6L1100.9,641.6" fill="none" stroke="#d2d2da" stroke-width="1.4"/>
<path d="M1041.5,634.9L1045.5,633.8L1049.5,632.4L1053.5,630.6L1057.5,628.2L1061.5,625.1L1065.5,620.8L1069.5,614.8L1073.5,606.0L1077.5,592.8L1081.5,571.8L1085.5,538.1L1087.0,520.9L1088.5,501.0L1090.0,478.8L1091.5,455.5L1093.0,433.6L1094.5,416.4L1096.0,407.6L1097.5,411.1L1099.0,431.7L1100.5,465.2L1102.0,504.8L1103.5,543.7L1105.0,577.1L1106.5,602.4L1108.0,619.8L1109.5,630.5L1111.0,636.6L1115.0,641.6" fill="none" stroke="#dcd2d2" stroke-width="1.4"/>
<path d="M1048.7,634.9L1052.7,633.8L1056.7,632.4L1060.7,630.6L1064.7,628.2L1068.7,625.1L1072.7,620.8L1076.7,614.8L1080.7,606.0L1084.7,592.7L1088.7,571.7L1092.7,538.0L1094.2,520.8L1095.7,500.8L1097.2,478.6L1098.7,455.3L1100.2,433.3L1101.7,416.1L1103.2,407.3L1104.7,410.8L1106.2,431.4L1107.7,465.0L1109.2,504.6L1110.7,543.6L1112.2,577.0L1113.7,602.4L1115.2,619.7L1116.7,630.5L1118.2,636.6L1122.2,641.6" fill="none" stroke="#cdd3de" stroke-width="1.4"/>
<path d="M1055.8,634.9L1059.8,633.8L1063.8,632.4L1067.8,630.5L1071.8,628.2L1075.8,625.0L1079.8,620.8L1083.8,614.7L1087.8,605.9L1091.8,592.6L1095.8,571.6L1099.8,537.8L1101.3,520.6L1102.8,500.6L1104.3,478.4L1105.8,455.0L1107.3,433.0L1108.8,415.8L1110.3,406.9L1111.8,410.5L1113.3,431.1L1114.8,464.7L1116.3,504.4L1117.8,543.5L1119.3,576.9L1120.8,602.3L1122.3,619.7L1123.8,630.5L1125.3,636.6L1129.3,641.6" fill="none" stroke="#d8d0d8" stroke-width="1.4"/>
<path d="M1070.0,634.9L1074.0,633.8L1078.0,632.4L1082.0,630.5L1086.0,628.2L1090.0,625.0L1094.0,620.8L1098.0,614.7L1102.0,605.9L1106.0,592.6L1110.0,571.6L1114.0,537.8L1115.5,520.6L1117.0,500.6L1118.5,478.4L1120.0,455.0L1121.5,433.0L1123.0,415.8L1124.5,406.9L1126.0,410.5L1127.5,431.1L1129.0,464.7L1130.5,504.4L1132.0,543.5L1133.5,576.9L1135.0,602.3L1136.5,619.7L1138.0,630.5L1139.5,636.6L1143.5,641.6" fill="none" stroke="#d0d8d4" stroke-width="1.4"/>
<path d="M1077.1,634.9L1081.1,633.8L1085.1,632.4L1089.1,630.6L1093.1,628.2L1097.1,625.1L1101.1,620.8L1105.1,614.8L1109.1,606.0L1113.1,592.7L1117.1,571.7L1121.1,538.0L1122.6,520.8L1124.1,500.8L1125.6,478.6L1127.1,455.3L1128.6,433.3L1130.1,416.1L1131.6,407.3L1133.1,410.8L1134.6,431.4L1136.1,465.0L1137.6,504.6L1139.1,543.6L1140.6,577.0L1142.1,602.4L1143.6,619.7L1145.1,630.5L1146.6,636.6L1150.6,641.6" fill="none" stroke="#d2d2da" stroke-width="1.4"/>
<path d="M1084.2,634.9L1088.2,633.8L1092.2,632.4L1096.2,630.6L1100.2,628.2L1104.2,625.1L1108.2,620.8L1112.2,614.8L1116.2,606.0L1120.2,592.8L1124.2,571.8L1128.2,538.1L1129.7,520.9L1131.2,501.0L1132.7,478.8L1134.2,455.5L1135.7,433.6L1137.2,416.4L1138.7,407.6L1140.2,411.1L1141.7,431.7L1143.2,465.2L1144.7,504.8L1146.2,543.7L1147.7,577.1L1149.2,602.4L1150.7,619.8L1152.2,630.5L1153.7,636.6L1157.7,641.6" fill="none" stroke="#dcd2d2" stroke-width="1.4"/>
<path d="M1100.0,635.1L1104.0,634.0L1108.0,632.6L1112.0,630.9L1116.0,628.6L1120.0,625.5L1124.0,621.4L1128.0,615.5L1132.0,607.0L1136.0,594.0L1140.0,573.6L1144.0,540.8L1145.5,524.1L1147.0,504.7L1148.5,483.1L1150.0,460.4L1151.5,439.0L1153.0,422.2L1154.5,413.7L1156.0,417.1L1157.5,437.2L1159.0,469.8L1160.5,508.4L1162.0,546.3L1163.5,578.8L1165.0,603.5L1166.5,620.4L1168.0,630.8L1169.5,636.7L1173.5,641.7" fill="none" stroke="#cdd3de" stroke-width="1.4"/>
<path d="M1108.6,635.3L1112.6,634.2L1116.6,632.9L1120.6,631.2L1124.6,628.9L1128.6,625.9L1132.6,621.9L1136.6,616.2L1140.6,607.9L1144.6,595.3L1148.6,575.4L1152.6,543.4L1154.1,527.1L1155.6,508.2L1157.1,487.1L1158.6,465.0L1160.1,444.1L1161.6,427.8L1163.1,419.4L1164.6,422.8L1166.1,442.3L1167.6,474.1L1169.1,511.8L1170.6,548.7L1172.1,580.4L1173.6,604.4L1175.1,620.9L1176.6,631.1L1178.1,636.9L1182.1,641.7" fill="none" stroke="#d8d0d8" stroke-width="1.4"/>
<path d="M1117.2,635.5L1121.2,634.4L1125.2,633.1L1129.2,631.4L1133.2,629.3L1137.2,626.4L1141.2,622.4L1145.2,616.9L1149.2,608.8L1153.2,596.5L1157.2,577.1L1161.2,545.9L1162.8,530.0L1164.2,511.6L1165.8,491.1L1167.2,469.6L1168.8,449.3L1170.2,433.3L1171.8,425.2L1173.2,428.5L1174.8,447.5L1176.2,478.5L1177.8,515.1L1179.2,551.2L1180.8,582.0L1182.2,605.4L1183.8,621.5L1185.2,631.4L1186.8,637.0L1190.8,641.7" fill="none" stroke="#d0d8d4" stroke-width="1.4"/>
<path d="M1134.2,635.8L1138.2,634.7L1142.2,633.5L1146.2,631.9L1150.2,629.8L1154.2,627.0L1158.2,623.2L1162.2,617.9L1166.2,610.1L1170.2,598.3L1174.2,579.7L1178.2,549.8L1179.7,534.5L1181.2,516.9L1182.7,497.2L1184.2,476.5L1185.7,457.0L1187.2,441.7L1188.7,433.9L1190.2,437.0L1191.7,455.3L1193.2,485.1L1194.7,520.2L1196.2,554.8L1197.7,584.4L1199.2,606.9L1200.7,622.3L1202.2,631.8L1203.7,637.2L1207.7,641.7" fill="none" stroke="#d2d2da" stroke-width="1.4"/>
<path d="M1142.5,635.8L1146.5,634.9L1150.5,633.6L1154.5,632.0L1158.5,630.0L1162.5,627.2L1166.5,623.5L1170.5,618.2L1174.5,610.5L1178.5,598.9L1182.5,580.6L1186.5,551.1L1188.0,536.0L1189.5,518.6L1191.0,499.2L1192.5,478.8L1194.0,459.6L1195.5,444.5L1197.0,436.8L1198.5,439.9L1200.0,457.9L1201.5,487.3L1203.0,521.9L1204.5,556.0L1206.0,585.2L1207.5,607.4L1209.0,622.6L1210.5,632.0L1212.0,637.3L1216.0,641.7" fill="none" stroke="#dcd2d2" stroke-width="1.4"/>
<path d="M1150.7,635.9L1154.7,635.0L1158.7,633.7L1162.7,632.2L1166.7,630.1L1170.7,627.4L1174.7,623.7L1178.7,618.6L1182.7,611.0L1186.7,599.5L1190.7,581.5L1194.7,552.4L1196.2,537.5L1197.7,520.4L1199.2,501.2L1200.7,481.1L1202.2,462.2L1203.7,447.3L1205.2,439.7L1206.7,442.8L1208.2,460.6L1209.7,489.5L1211.2,523.6L1212.7,557.2L1214.2,586.0L1215.7,607.9L1217.2,622.9L1218.7,632.1L1220.2,637.4L1224.2,641.7" fill="none" stroke="#cdd3de" stroke-width="1.4"/>
<path d="M1167.5,635.9L1171.5,634.9L1175.5,633.6L1179.5,632.0L1183.5,630.0L1187.5,627.2L1191.5,623.5L1195.5,618.2L1199.5,610.6L1203.5,599.0L1207.5,580.7L1211.5,551.2L1213.0,536.2L1214.5,518.8L1216.0,499.4L1217.5,479.0L1219.0,459.8L1220.5,444.8L1222.0,437.1L1223.5,440.2L1225.0,458.2L1226.5,487.5L1228.0,522.1L1229.5,556.1L1231.0,585.3L1232.5,607.4L1234.0,622.6L1235.5,632.0L1237.0,637.3L1241.0,641.7" fill="none" stroke="#d8d0d8" stroke-width="1.4"/>
<path d="M1175.9,635.7L1179.9,634.7L1183.9,633.4L1187.9,631.8L1191.9,629.6L1195.9,626.8L1199.9,623.0L1203.9,617.6L1207.9,609.7L1211.9,597.8L1215.9,579.0L1219.9,548.7L1221.4,533.3L1222.9,515.4L1224.4,495.5L1225.9,474.6L1227.4,454.8L1228.9,439.4L1230.4,431.5L1231.9,434.7L1233.4,453.2L1234.9,483.2L1236.4,518.8L1237.9,553.8L1239.4,583.7L1240.9,606.5L1242.4,622.1L1243.9,631.7L1245.4,637.2L1249.4,641.7" fill="none" stroke="#d0d8d4" stroke-width="1.4"/>
<path d="M1184.3,635.5L1188.3,634.5L1192.3,633.2L1196.3,631.5L1200.3,629.3L1204.3,626.4L1208.3,622.5L1212.3,616.9L1216.3,608.9L1220.3,596.6L1224.3,577.3L1228.3,546.2L1229.8,530.4L1231.3,512.1L1232.8,491.6L1234.3,470.1L1235.8,449.9L1237.3,434.0L1238.8,425.9L1240.3,429.2L1241.8,448.2L1243.3,479.0L1244.8,515.5L1246.3,551.4L1247.8,582.2L1249.3,605.5L1250.8,621.5L1252.3,631.4L1253.8,637.0L1257.8,641.7" fill="none" stroke="#d2d2da" stroke-width="1.4"/>
<path d="M1202.2,635.4L1206.2,634.3L1210.2,633.0L1214.2,631.3L1218.2,629.1L1222.2,626.2L1226.2,622.1L1230.2,616.5L1234.2,608.3L1238.2,595.8L1242.2,576.2L1246.2,544.6L1247.7,528.5L1249.2,509.8L1250.7,489.0L1252.2,467.2L1253.7,446.6L1255.2,430.5L1256.7,422.2L1258.2,425.5L1259.7,444.9L1261.2,476.3L1262.7,513.4L1264.2,549.9L1265.7,581.1L1267.2,604.9L1268.7,621.2L1270.2,631.3L1271.7,636.9L1275.7,641.7" fill="none" stroke="#dcd2d2" stroke-width="1.4"/>
<path d="M1211.7,635.5L1215.7,634.4L1219.7,633.1L1223.7,631.4L1227.7,629.2L1231.7,626.3L1235.7,622.3L1239.7,616.7L1243.7,608.6L1247.7,596.2L1251.7,576.8L1255.7,545.4L1257.2,529.5L1258.7,511.0L1260.2,490.4L1261.7,468.7L1263.2,448.3L1264.7,432.3L1266.2,424.1L1267.7,427.4L1269.2,446.6L1270.7,477.7L1272.2,514.5L1273.7,550.7L1275.2,581.7L1276.7,605.2L1278.2,621.4L1279.7,631.3L1281.2,637.0L1285.2,641.7" fill="none" stroke="#cdd3de" stroke-width="1.4"/>
<path d="M1221.1,635.5L1225.1,634.5L1229.1,633.2L1233.1,631.5L1237.1,629.3L1241.1,626.4L1245.1,622.5L1249.1,617.0L1253.1,608.9L1257.1,596.6L1261.1,577.4L1265.1,546.3L1266.6,530.5L1268.1,512.1L1269.6,491.7L1271.1,470.2L1272.6,450.0L1274.1,434.1L1275.6,426.0L1277.1,429.3L1278.6,448.3L1280.1,479.1L1281.6,515.6L1283.1,551.5L1284.6,582.2L1286.1,605.6L1287.6,621.5L1289.1,631.4L1290.6,637.0L1294.6,641.7" fill="none" stroke="#d8d0d8" stroke-width="1.4"/>
<path d="M1239.8,635.9L1243.8,634.9L1247.8,633.6L1251.8,632.1L1255.8,630.0L1259.8,627.3L1263.8,623.5L1267.8,618.3L1271.8,610.7L1275.8,599.1L1279.8,580.8L1283.8,551.4L1285.3,536.4L1286.8,519.1L1288.3,499.7L1289.8,479.4L1291.3,460.2L1292.8,445.2L1294.3,437.5L1295.8,440.6L1297.3,458.6L1298.8,487.8L1300.3,522.3L1301.8,556.3L1303.3,585.4L1304.8,607.5L1306.3,622.6L1307.8,632.0L1309.3,637.3L1313.3,641.7" fill="none" stroke="#d0d8d4" stroke-width="1.4"/>
<path d="M1249.2,636.2L1253.2,635.2L1257.2,634.0L1261.2,632.5L1265.2,630.6L1269.2,628.0L1273.2,624.4L1277.2,619.4L1281.2,612.1L1285.2,601.1L1289.2,583.7L1293.2,555.6L1294.7,541.4L1296.2,524.8L1297.7,506.4L1299.2,487.0L1300.7,468.7L1302.2,454.4L1303.7,447.1L1305.2,450.0L1306.7,467.2L1308.2,495.0L1309.7,528.0L1311.2,560.3L1312.7,588.0L1314.2,609.1L1315.7,623.6L1317.2,632.5L1318.7,637.5L1322.7,641.7" fill="none" stroke="#d2d2da" stroke-width="1.4"/>
<path d="M1258.5,636.5L1262.5,635.6L1266.5,634.4L1270.5,633.0L1274.5,631.1L1278.5,628.7L1282.5,625.3L1286.5,620.5L1290.5,613.6L1294.5,603.1L1298.5,586.5L1302.5,559.9L1304.0,546.3L1305.5,530.6L1307.0,513.0L1308.5,494.6L1310.0,477.2L1311.5,463.6L1313.0,456.7L1314.5,459.5L1316.0,475.8L1317.5,502.3L1319.0,533.6L1320.5,564.4L1322.0,590.7L1323.5,610.8L1325.0,624.5L1326.5,633.0L1328.0,637.8L1332.0,641.8" fill="none" stroke="#dcd2d2" stroke-width="1.4"/>
<path d="M1278.3,636.5L1282.3,635.6L1286.3,634.4L1290.3,633.0L1294.3,631.1L1298.3,628.7L1302.3,625.3L1306.3,620.5L1310.3,613.6L1314.3,603.1L1318.3,586.5L1322.3,559.9L1323.8,546.3L1325.3,530.6L1326.8,513.0L1328.3,494.6L1329.8,477.2L1331.3,463.6L1332.8,456.7L1334.3,459.5L1335.8,475.8L1337.3,502.3L1338.8,533.6L1340.3,564.4L1341.8,590.7L1343.3,610.8L1344.8,624.5L1346.3,633.0L1347.8,637.8L1351.8,641.8" fill="none" stroke="#cdd3de" stroke-width="1.4"/>
<path d="M1288.8,636.2L1292.8,635.2L1296.8,634.0L1300.8,632.5L1304.8,630.6L1308.8,628.0L1312.8,624.4L1316.8,619.4L1320.8,612.1L1324.8,601.1L1328.8,583.7L1332.8,555.6L1334.3,541.4L1335.8,524.8L1337.3,506.4L1338.8,487.0L1340.3,468.7L1341.8,454.4L1343.3,447.1L1344.8,450.0L1346.3,467.2L1347.8,495.0L1349.3,528.0L1350.8,560.3L1352.3,588.0L1353.8,609.1L1355.3,623.6L1356.8,632.5L1358.3,637.5L1362.3,641.7" fill="none" stroke="#d8d0d8" stroke-width="1.4"/>
<path d="M1299.3,635.9L1303.3,634.9L1307.3,633.6L1311.3,632.1L1315.3,630.0L1319.3,627.3L1323.3,623.5L1327.3,618.3L1331.3,610.7L1335.3,599.1L1339.3,580.8L1343.3,551.4L1344.8,536.4L1346.3,519.1L1347.8,499.7L1349.3,479.4L1350.8,460.2L1352.3,445.2L1353.8,437.5L1355.3,440.6L1356.8,458.6L1358.3,487.8L1359.8,522.3L1361.3,556.3L1362.8,585.4L1364.3,607.5L1365.8,622.6L1367.3,632.0L1368.8,637.3L1372.8,641.7" fill="none" stroke="#d0d8d4" stroke-width="1.4"/>
<path d="M1320.5,635.4L1324.5,634.3L1328.5,633.0L1332.5,631.3L1336.5,629.1L1340.5,626.2L1344.5,622.2L1348.5,616.6L1352.5,608.4L1356.5,595.9L1360.5,576.3L1364.5,544.8L1366.0,528.7L1367.5,510.1L1369.0,489.3L1370.5,467.5L1372.0,446.9L1373.5,430.8L1375.0,422.6L1376.5,425.9L1378.0,445.2L1379.5,476.5L1381.0,513.6L1382.5,550.1L1384.0,581.2L1385.5,605.0L1387.0,621.2L1388.5,631.3L1390.0,636.9L1394.0,641.7" fill="none" stroke="#d2d2da" stroke-width="1.4"/>
<path d="M1331.2,635.2L1335.2,634.2L1339.2,632.8L1343.2,631.1L1347.2,628.8L1351.2,625.8L1355.2,621.7L1359.2,615.9L1363.2,607.5L1367.2,594.8L1371.2,574.7L1375.2,542.4L1376.7,525.9L1378.2,506.9L1379.7,485.6L1381.2,463.3L1382.7,442.2L1384.2,425.7L1385.7,417.3L1387.2,420.7L1388.7,440.4L1390.2,472.5L1391.7,510.5L1393.2,547.8L1394.7,579.8L1396.2,604.1L1397.7,620.7L1399.2,631.0L1400.7,636.8L1404.7,641.7" fill="none" stroke="#dcd2d2" stroke-width="1.4"/>
<path d="M1341.8,635.1L1345.8,634.0L1349.8,632.6L1353.8,630.8L1357.8,628.5L1361.8,625.4L1365.8,621.2L1369.8,615.3L1373.8,606.7L1377.8,593.7L1381.8,573.1L1385.8,540.0L1387.3,523.2L1388.8,503.7L1390.3,481.9L1391.8,459.0L1393.3,437.5L1394.8,420.6L1396.3,412.0L1397.8,415.4L1399.3,435.6L1400.8,468.5L1402.3,507.4L1403.8,545.6L1405.3,578.3L1406.8,603.2L1408.3,620.2L1409.8,630.7L1411.3,636.7L1415.3,641.7" fill="none" stroke="#cdd3de" stroke-width="1.4"/>
<path d="M1363.2,634.9L1367.2,633.7L1371.2,632.3L1375.2,630.4L1379.2,628.0L1383.2,624.9L1387.2,620.6L1391.2,614.5L1395.2,605.6L1399.2,592.2L1403.2,571.0L1407.2,536.8L1408.7,519.4L1410.2,499.3L1411.7,476.8L1413.2,453.3L1414.7,431.0L1416.2,413.6L1417.7,404.7L1419.2,408.3L1420.7,429.1L1422.2,463.0L1423.7,503.1L1425.2,542.5L1426.7,576.3L1428.2,601.9L1429.7,619.5L1431.2,630.4L1432.7,636.5L1436.7,641.6" fill="none" stroke="#d8d0d8" stroke-width="1.4"/>
<path d="M1373.8,634.8L1377.8,633.6L1381.8,632.2L1385.8,630.3L1389.8,627.9L1393.8,624.7L1397.8,620.4L1401.8,614.2L1405.8,605.3L1409.8,591.8L1413.8,570.4L1417.8,536.0L1419.3,518.5L1420.8,498.2L1422.3,475.5L1423.8,451.8L1425.3,429.3L1426.8,411.8L1428.3,402.8L1429.8,406.4L1431.3,427.4L1432.8,461.6L1434.3,502.0L1435.8,541.8L1437.3,575.8L1438.8,601.6L1440.3,619.3L1441.8,630.3L1443.3,636.5L1447.3,641.6" fill="none" stroke="#d0d8d4" stroke-width="1.4"/>
<path d="M1384.5,634.7L1388.5,633.6L1392.5,632.1L1396.5,630.2L1400.5,627.8L1404.5,624.6L1408.5,620.2L1412.5,614.0L1416.5,605.0L1420.5,591.4L1424.5,569.8L1428.5,535.1L1430.0,517.5L1431.5,497.0L1433.0,474.2L1434.5,450.2L1436.0,427.6L1437.5,410.0L1439.0,400.9L1440.5,404.5L1442.0,425.7L1443.5,460.2L1445.0,500.9L1446.5,541.0L1448.0,575.2L1449.5,601.3L1451.0,619.1L1452.5,630.2L1454.0,636.4L1458.0,641.6" fill="none" stroke="#d2d2da" stroke-width="1.4"/>
<path d="M1405.9,634.7L1409.9,633.5L1413.9,632.0L1417.9,630.1L1421.9,627.7L1425.9,624.5L1429.9,620.0L1433.9,613.8L1437.9,604.7L1441.9,591.0L1445.9,569.2L1449.9,534.3L1451.4,516.5L1452.9,495.9L1454.4,472.9L1455.9,448.7L1457.4,426.0L1458.9,408.1L1460.4,399.0L1461.9,402.7L1463.4,424.0L1464.9,458.7L1466.4,499.8L1467.9,540.2L1469.4,574.7L1470.9,601.0" fill="none" stroke="#dcd2d2" stroke-width="1.4"/>
<path d="M1416.6,634.7L1420.6,633.5L1424.6,632.0L1428.6,630.1L1432.6,627.7L1436.6,624.5L1440.6,620.0L1444.6,613.8L1448.6,604.7L1452.6,591.0L1456.6,569.2L1460.6,534.3L1462.1,516.5L1463.6,495.9L1465.1,472.9L1466.6,448.7L1468.1,426.0L1469.6,408.1" fill="none" stroke="#cdd3de" stroke-width="1.4"/>
<path d="M1010.8,607.6L1013.8,598.6L1016.8,586.3L1019.8,568.7L1022.8,543.7L1023.8,533.2L1024.8,521.4L1025.8,508.5L1026.8,494.3L1027.8,479.1L1028.8,463.2L1029.8,447.2L1030.8,432.0L1031.8,418.7L1032.8,408.3L1033.8,402.0L1034.8,400.6L1035.8,406.7L1036.8,420.9L1037.8,441.7L1038.8,467.2L1039.8,495.1L1040.8,523.3L1041.8,549.8L1042.8,573.5L1043.8,593.4L1044.8,609.5L1045.8,621.5L1046.8,630.3L1047.8,636.4L1048.8,640.4L1051.8,645.0L1054.8,645.1L1057.8,644.3L1060.8,642.7L1063.8,642.5L1066.8,641.9L1069.8,640.5L1072.8,639.6L1075.8,639.2L1078.8,637.3" fill="none" stroke="#de1a1a" stroke-width="3.4" stroke-linejoin="round"/>
<path d="M1010.8,634.2L1013.8,632.3L1016.8,632.3L1019.8,631.0L1022.8,628.8L1025.8,625.5L1028.8,623.0L1031.8,618.6L1034.8,614.1L1037.8,607.2L1040.8,598.3L1043.8,585.8L1046.8,568.1L1049.8,542.7L1050.8,532.1L1051.8,520.3L1052.8,507.3L1053.8,493.2L1054.8,478.1L1055.8,462.5L1056.8,447.1L1057.8,432.7L1058.8,420.4L1059.8,411.4L1060.8,406.6L1061.8,407.1L1062.8,415.5L1063.8,431.5L1064.8,453.5L1065.8,479.3L1066.8,506.9L1067.8,534.1L1068.8,559.3L1069.8,581.4L1070.8,599.8L1071.8,614.3L1072.8,625.0L1073.8,632.8L1074.8,638.1L1075.8,641.5L1078.8,645.3L1081.8,645.3L1084.8,644.6L1087.8,644.2L1090.8,643.1L1093.8,641.5L1096.8,641.6L1099.8,641.2L1102.8,639.6L1105.8,637.9" fill="none" stroke="#e51c18" stroke-width="3.4" stroke-linejoin="round"/>
<path d="M1014.4,639.2L1017.4,638.8L1020.4,637.6L1023.4,636.6L1026.4,637.6L1029.4,636.4L1032.4,635.8L1035.4,635.5L1038.4,634.2L1041.4,632.6L1044.4,631.7L1047.4,629.1L1050.4,628.2L1053.4,625.5L1056.4,622.8L1059.4,619.5L1062.4,614.6L1065.4,608.3L1068.4,599.8L1071.4,588.1L1074.4,571.5L1077.4,547.8L1078.4,537.9L1079.4,526.8L1080.4,514.5L1081.4,501.0L1082.4,486.4L1083.4,471.1L1084.4,455.7L1085.4,440.7L1086.4,427.3L1087.4,416.6L1088.4,409.7L1089.4,407.3L1090.4,411.5L1091.4,423.8L1092.4,443.0L1093.4,467.0L1094.4,493.9L1095.4,521.3L1096.4,547.6L1097.4,571.2L1098.4,591.4L1099.4,607.8L1100.4,620.2L1101.4,629.4L1102.4,635.8L1103.4,640.1L1106.4,645.3L1109.4,645.7L1112.4,645.1L1115.4,644.4L1118.4,642.8L1121.4,641.7L1124.4,642.9L1127.4,641.8L1130.4,639.6L1133.4,639.9" fill="none" stroke="#ee3414" stroke-width="3.4" stroke-linejoin="round"/>
<path d="M1042.9,638.0L1045.9,638.4L1048.9,637.4L1051.9,637.9L1054.9,635.9L1057.9,636.1L1060.9,634.4L1063.9,634.8L1066.9,633.0L1069.9,633.0L1072.9,631.9L1075.9,629.0L1078.9,628.6L1081.9,626.1L1084.9,621.9L1087.9,619.5L1090.9,614.6L1093.9,607.7L1096.9,599.2L1099.9,587.4L1102.9,570.8L1105.9,547.0L1106.9,537.1L1107.9,525.9L1108.9,513.6L1109.9,500.0L1110.9,485.4L1111.9,470.1L1112.9,454.5L1113.9,439.6L1114.9,426.1L1115.9,415.4L1116.9,408.4L1117.9,406.0L1118.9,410.3L1119.9,422.7L1120.9,441.9L1121.9,466.1L1122.9,493.0L1123.9,520.7L1124.9,547.0L1125.9,570.8L1126.9,591.1L1127.9,607.6L1128.9,620.1L1129.9,629.4L1130.9,635.8L1131.9,640.2L1134.9,645.5L1137.9,646.0L1140.9,645.4L1143.9,645.0L1146.9,644.5L1149.9,643.0L1152.9,642.7L1155.9,641.0L1158.9,640.2L1161.9,641.3" fill="none" stroke="#f25515" stroke-width="3.4" stroke-linejoin="round"/>
<path d="M1071.3,637.8L1074.3,637.2L1077.3,636.9L1080.3,636.5L1083.3,636.5L1086.3,635.8L1089.3,635.1L1092.3,633.0L1095.3,632.0L1098.3,631.5L1101.3,630.2L1104.3,628.2L1107.3,626.4L1110.3,625.8L1113.3,621.6L1116.3,619.4L1119.3,614.2L1122.3,607.5L1125.3,599.0L1128.3,587.4L1131.3,570.9L1134.3,547.3L1135.3,537.4L1136.3,526.3L1137.3,514.0L1138.3,500.6L1139.3,486.1L1140.3,470.9L1141.3,455.5L1142.3,440.6L1143.3,427.3L1144.3,416.6L1145.3,409.7L1146.3,407.3L1147.3,411.5L1148.3,423.8L1149.3,443.0L1150.3,467.0L1151.3,493.9L1152.3,521.3L1153.3,547.6L1154.3,571.2L1155.3,591.4L1156.3,607.8L1157.3,620.3L1158.3,629.5L1159.3,636.0L1160.3,640.3L1163.3,645.7L1166.3,646.2L1169.3,645.8L1172.3,645.4L1175.3,645.4L1178.3,644.2L1181.3,642.4L1184.3,641.8L1187.3,642.4L1190.3,642.0" fill="none" stroke="#f47e1e" stroke-width="3.4" stroke-linejoin="round"/>
<path d="M1105.9,638.0L1108.9,636.8L1111.9,637.6L1114.9,637.3L1117.9,635.6L1120.9,634.4L1123.9,633.9L1126.9,633.1L1129.9,632.6L1132.9,631.4L1135.9,630.1L1138.9,630.2L1141.9,628.2L1144.9,626.5L1147.9,623.6L1150.9,619.9L1153.9,616.5L1156.9,610.3L1159.9,602.7L1162.9,592.2L1165.9,577.4L1168.9,556.2L1169.9,547.3L1170.9,537.4L1171.9,526.3L1172.9,514.2L1173.9,501.2L1174.9,487.6L1175.9,473.7L1176.9,460.4L1177.9,448.4L1178.9,438.8L1179.9,432.6L1180.9,430.4L1181.9,434.3L1182.9,445.4L1183.9,462.7L1184.9,484.4L1185.9,508.7L1186.9,533.5L1187.9,557.3L1188.9,578.6L1189.9,596.9L1190.9,611.7L1191.9,623.0L1192.9,631.3L1193.9,637.2L1194.9,641.1L1197.9,646.0L1200.9,646.5L1203.9,646.1L1206.9,646.5L1209.9,644.9L1212.9,644.9L1215.9,643.1L1218.9,642.7L1221.9,642.6L1224.9,641.6" fill="none" stroke="#c49c22" stroke-width="3.4" stroke-linejoin="round"/>
<path d="M1139.0,636.4L1142.0,637.9L1145.0,635.8L1148.0,636.2L1151.0,635.8L1154.0,634.4L1157.0,635.5L1160.0,633.2L1163.0,633.3L1166.0,632.4L1169.0,631.8L1172.0,629.8L1175.0,628.8L1178.0,625.6L1181.0,624.3L1184.0,620.7L1187.0,616.5L1190.0,611.5L1193.0,604.3L1196.0,594.5L1199.0,580.5L1202.0,560.6L1203.0,552.2L1204.0,542.8L1205.0,532.4L1206.0,521.1L1207.0,508.8L1208.0,495.9L1209.0,482.9L1210.0,470.3L1211.0,459.0L1212.0,450.0L1213.0,444.2L1214.0,442.1L1215.0,445.8L1216.0,456.3L1217.0,472.7L1218.0,493.2L1219.0,516.2L1220.0,539.7L1221.0,562.2L1222.0,582.4L1223.0,599.6L1224.0,613.7L1225.0,624.4L1226.0,632.3L1227.0,637.9L1228.0,641.6L1231.0,646.2L1234.0,646.8L1237.0,646.5L1240.0,645.7L1243.0,645.0L1246.0,645.2L1249.0,643.8L1252.0,643.6L1255.0,642.9L1258.0,643.1" fill="none" stroke="#86b834" stroke-width="3.4" stroke-linejoin="round"/>
<path d="M1172.8,635.5L1175.8,636.8L1178.8,636.6L1181.8,634.8L1184.8,633.7L1187.8,634.1L1190.8,633.5L1193.8,632.9L1196.8,630.8L1199.8,630.7L1202.8,629.5L1205.8,629.1L1208.8,626.4L1211.8,623.9L1214.8,621.6L1217.8,618.2L1220.8,613.1L1223.8,607.8L1226.8,599.9L1229.8,588.9L1232.8,573.4L1235.8,551.3L1236.8,542.0L1237.8,531.6L1238.8,520.0L1239.8,507.4L1240.8,493.8L1241.8,479.5L1242.8,465.0L1243.8,451.0L1244.8,438.5L1245.8,428.5L1246.8,422.0L1247.8,419.8L1248.8,423.8L1249.8,435.5L1250.8,453.6L1251.8,476.4L1252.8,501.8L1253.8,527.9L1254.8,552.8L1255.8,575.2L1256.8,594.3L1257.8,609.9L1258.8,621.8L1259.8,630.6L1260.8,636.8L1261.8,641.0L1264.8,646.3L1267.8,647.0L1270.8,646.8L1273.8,646.1L1276.8,646.1L1279.8,645.7L1282.8,644.8L1285.8,644.5L1288.8,645.4L1291.8,643.1" fill="none" stroke="#62b83e" stroke-width="3.4" stroke-linejoin="round"/>
<path d="M1210.5,635.1L1213.5,636.1L1216.5,635.7L1219.5,634.0L1222.5,635.1L1225.5,632.8L1228.5,633.5L1231.5,632.0L1234.5,632.3L1237.5,630.7L1240.5,630.0L1243.5,627.3L1246.5,626.9L1249.5,624.5L1252.5,621.1L1255.5,617.5L1258.5,613.2L1261.5,608.4L1264.5,600.7L1267.5,590.2L1270.5,575.3L1273.5,553.9L1274.5,545.0L1275.5,535.0L1276.5,523.9L1277.5,511.7L1278.5,498.6L1279.5,484.9L1280.5,470.9L1281.5,457.5L1282.5,445.4L1283.5,435.8L1284.5,429.6L1285.5,427.4L1286.5,431.3L1287.5,442.6L1288.5,460.1L1289.5,482.1L1290.5,506.7L1291.5,531.9L1292.5,556.0L1293.5,577.7L1294.5,596.1L1295.5,611.2L1296.5,622.7L1297.5,631.3L1298.5,637.3L1299.5,641.4L1302.5,646.5L1305.5,647.3L1308.5,647.2L1311.5,647.4L1314.5,647.2L1317.5,647.0L1320.5,646.1L1323.5,645.9L1326.5,645.5L1329.5,644.7" fill="none" stroke="#52b43c" stroke-width="3.4" stroke-linejoin="round"/>
<path d="M1247.8,636.7L1250.8,636.1L1253.8,635.0L1256.8,634.5L1259.8,634.1L1262.8,634.2L1265.8,633.1L1268.8,632.8L1271.8,631.2L1274.8,632.4L1277.8,630.0L1280.8,630.2L1283.8,628.5L1286.8,626.3L1289.8,624.8L1292.8,621.6L1295.8,617.3L1298.8,613.3L1301.8,607.1L1304.8,598.5L1307.8,586.3L1310.8,568.9L1311.8,561.6L1312.8,553.5L1313.8,544.4L1314.8,534.5L1315.8,523.9L1316.8,512.7L1317.8,501.3L1318.8,490.3L1319.8,480.5L1320.8,472.7L1321.8,467.6L1322.8,465.8L1323.8,469.0L1324.8,478.4L1325.8,492.8L1326.8,511.1L1327.8,531.4L1328.8,552.2L1329.8,572.1L1330.8,590.0L1331.8,605.3L1332.8,617.7L1333.8,627.2L1334.8,634.3L1335.8,639.3L1336.8,642.6L1339.8,646.9L1342.8,647.6L1345.8,647.5L1348.8,647.0L1351.8,646.5L1354.8,647.4L1357.8,645.8L1360.8,646.3L1363.8,645.6L1366.8,645.5" fill="none" stroke="#34a84c" stroke-width="3.4" stroke-linejoin="round"/>
<path d="M1289.8,633.9L1292.8,635.2L1295.8,633.5L1298.8,633.1L1301.8,632.8L1304.8,632.9L1307.8,631.4L1310.8,630.3L1313.8,629.7L1316.8,629.1L1319.8,627.2L1322.8,625.7L1325.8,624.9L1328.8,622.7L1331.8,620.7L1334.8,616.9L1337.8,612.6L1340.8,607.2L1343.8,599.7L1346.8,589.2L1349.8,574.3L1352.8,553.1L1353.8,544.2L1354.8,534.3L1355.8,523.3L1356.8,511.2L1357.8,498.2L1358.8,484.5L1359.8,470.7L1360.8,457.3L1361.8,445.3L1362.8,435.8L1363.8,429.5L1364.8,427.4L1365.8,431.3L1366.8,442.6L1367.8,460.1L1368.8,482.1L1369.8,506.7L1370.8,531.9L1371.8,556.0L1372.8,577.7L1373.8,596.1L1374.8,611.2L1375.8,622.8L1376.8,631.4L1377.8,637.4L1378.8,641.6L1381.8,646.9L1384.8,647.8L1387.8,647.8L1390.8,648.3L1393.8,646.7L1396.8,647.5L1399.8,646.8L1402.8,647.4L1405.8,645.9L1408.8,647.6" fill="none" stroke="#11807e" stroke-width="3.4" stroke-linejoin="round"/>
<path d="M1332.5,634.2L1335.5,632.4L1338.5,632.9L1341.5,631.2L1344.5,632.6L1347.5,631.7L1350.5,630.2L1353.5,629.3L1356.5,628.9L1359.5,627.6L1362.5,627.0L1365.5,624.5L1368.5,622.6L1371.5,620.1L1374.5,618.4L1377.5,614.6L1380.5,609.3L1383.5,603.6L1386.5,595.2L1389.5,583.7L1392.5,567.5L1395.5,544.2L1396.5,534.4L1397.5,523.5L1398.5,511.4L1399.5,498.1L1400.5,483.8L1401.5,468.8L1402.5,453.6L1403.5,438.9L1404.5,425.7L1405.5,415.2L1406.5,408.4L1407.5,406.0L1408.5,410.3L1409.5,422.7L1410.5,441.9L1411.5,466.1L1412.5,493.0L1413.5,520.7L1414.5,547.0L1415.5,570.8L1416.5,591.1L1417.5,607.6L1418.5,620.3L1419.5,629.7L1420.5,636.5L1421.5,641.0L1424.5,646.9L1427.5,648.1L1430.5,648.2L1433.5,648.2L1436.5,648.1L1439.5,648.7L1442.5,647.7L1445.5,647.4L1448.5,646.9L1451.5,648.5" fill="none" stroke="#1f44a4" stroke-width="3.4" stroke-linejoin="round"/>
<path d="M1375.2,633.6L1378.2,633.3L1381.2,630.9L1384.2,631.7L1387.2,629.9L1390.2,629.2L1393.2,630.5L1396.2,628.6L1399.2,628.5L1402.2,625.8L1405.2,625.6L1408.2,624.4L1411.2,621.0L1414.2,619.6L1417.2,616.2L1420.2,613.5L1423.2,608.3L1426.2,601.9L1429.2,593.3L1432.2,581.4L1435.2,564.7L1438.2,540.7L1439.2,530.6L1440.2,519.4L1441.2,506.9L1442.2,493.2L1443.2,478.5L1444.2,463.0L1445.2,447.3L1446.2,432.2L1447.2,418.7L1448.2,407.9L1449.2,400.8L1450.2,398.4L1451.2,402.8L1452.2,415.5L1453.2,435.4L1454.2,460.3L1455.2,488.1L1456.2,516.6L1457.2,543.9L1458.2,568.4L1459.2,589.3L1460.2,606.3L1461.2,619.4L1462.2,629.2L1463.2,636.1L1464.2,640.9L1467.2,647.1L1470.2,648.3" fill="none" stroke="#1c3898" stroke-width="3.4" stroke-linejoin="round"/>
<defs><linearGradient id="band380" x1="0" y1="0" x2="0" y2="1"><stop offset="0" stop-color="#e8201a"/><stop offset="0.3" stop-color="#ee3a18"/><stop offset="0.5" stop-color="#f26a1c"/><stop offset="0.66" stop-color="#f29424"/><stop offset="0.76" stop-color="#b4c030"/><stop offset="0.84" stop-color="#4ab240"/><stop offset="0.92" stop-color="#3aa84a"/><stop offset="1" stop-color="#2a7a9a"/></linearGradient></defs>
<path d="M1010.8,637.2L1013.3,638.0L1015.8,636.9L1018.3,637.5L1020.8,636.6L1023.3,637.0L1025.8,638.0L1028.3,636.7L1030.8,638.1L1033.3,637.4L1035.8,636.9L1038.3,638.1L1040.8,638.0L1043.3,637.1L1045.8,636.7L1048.3,636.6L1050.8,636.4L1053.3,637.7L1055.8,636.4L1058.3,637.4L1060.8,637.3L1063.3,637.6L1065.8,636.2L1068.3,636.8L1070.8,636.6L1073.3,636.2L1075.8,637.3L1078.3,636.8L1080.8,635.8L1083.3,635.8L1085.8,637.2L1088.3,635.5L1090.8,636.1L1093.3,636.0L1095.8,636.4L1098.3,636.9L1100.8,635.3L1103.3,635.6L1105.8,635.3L1108.3,636.2L1110.8,635.5L1113.3,635.5L1115.8,636.7L1118.3,636.1L1120.8,636.1L1123.3,634.9L1125.8,636.4L1128.3,636.6L1130.8,635.8L1133.3,635.0L1135.8,636.3L1138.3,635.6L1140.8,636.3L1143.3,634.9L1145.8,635.2L1148.3,635.4L1150.8,634.3L1153.3,636.2L1155.8,634.8L1158.3,636.1L1160.8,635.4L1163.3,634.2L1165.8,634.9L1168.3,634.0L1170.8,635.3L1173.3,635.5L1175.8,634.0L1178.3,634.1L1180.8,634.0L1183.3,633.9L1185.8,634.9L1188.3,635.4L1190.8,634.4L1193.3,635.2L1195.8,633.9L1198.3,634.5L1200.8,635.3L1203.3,634.9L1205.8,633.4L1208.3,633.9L1210.8,634.6L1213.3,633.9L1215.8,634.5L1218.3,634.4L1220.8,634.8L1223.3,633.6L1225.8,633.2L1228.3,634.2L1230.8,634.2L1233.3,634.2L1235.8,634.5L1238.3,634.2L1240.8,634.5L1243.3,632.8L1245.8,633.0L1248.3,633.0L1250.8,632.6L1253.3,634.2L1255.8,633.9L1258.3,634.4L1260.8,634.3L1263.3,633.7L1265.8,633.4L1268.3,634.1L1270.8,632.4L1273.3,632.4L1275.8,634.2L1278.3,633.9L1280.8,632.3L1283.3,632.5L1285.8,634.0L1288.3,633.3L1290.8,633.0L1293.3,633.3L1295.8,632.3L1298.3,632.3L1300.8,633.8L1303.3,631.9L1305.8,632.5L1308.3,633.0L1310.8,632.1L1313.3,632.2L1315.8,632.0L1318.3,631.7L1320.8,633.0L1323.3,632.3L1325.8,633.3L1328.3,632.3L1330.8,631.9L1333.3,632.2L1335.8,631.7L1338.3,632.1L1340.8,631.8L1343.3,632.8L1345.8,632.0L1348.3,632.5L1350.8,632.9L1353.3,631.1L1355.8,631.7L1358.3,631.9L1360.8,631.6L1363.3,632.7L1365.8,632.1L1368.3,632.6L1370.8,631.7L1373.3,632.6L1375.8,631.7L1378.3,632.1L1380.8,632.2L1383.3,631.6L1385.8,631.1L1388.3,631.9L1390.8,630.5L1393.3,630.6L1395.8,631.6L1398.3,631.6L1400.8,631.3L1403.3,630.7L1405.8,630.5L1408.3,630.9L1410.8,630.3L1413.3,630.5L1415.8,630.8L1418.3,631.8L1420.8,630.2L1423.3,630.4L1425.8,629.7L1428.3,631.2L1430.8,630.9L1433.3,631.4L1435.8,629.8L1438.3,629.9L1440.8,630.8L1443.3,630.1L1445.8,631.0L1448.3,630.9L1450.8,629.8L1453.3,629.5L1455.8,631.2L1458.3,630.5L1460.8,629.6L1463.3,630.0L1465.8,629.1L1468.3,630.9L1470.8,629.5L1471.0,659.0L1010.8,659.0Z" fill="url(#band380)"/>
<path d="M1010.0,645.4L1014.0,647.6L1018.0,646.2L1022.0,645.9L1026.0,646.8L1030.0,645.9L1034.0,647.5L1038.0,646.8L1042.0,645.1L1046.0,645.1L1050.0,645.3L1054.0,646.7L1058.0,645.9L1062.0,646.9L1066.0,646.9L1070.0,645.9L1074.0,645.6L1078.0,644.7L1082.0,646.3L1086.0,646.6L1090.0,646.1L1094.0,644.7L1098.0,646.3L1102.0,644.7L1106.0,645.5L1110.0,644.7L1114.0,644.5L1118.0,646.1L1122.0,645.2L1126.0,644.9L1130.0,645.5L1134.0,644.6L1138.0,646.5L1142.0,644.1L1146.0,645.4L1150.0,644.2L1154.0,645.5L1158.0,645.3L1162.0,644.3L1166.0,644.6L1170.0,646.1L1174.0,644.4L1178.0,644.6L1182.0,645.8L1186.0,643.8L1190.0,645.5L1194.0,645.4L1198.0,645.8L1202.0,644.5L1206.0,646.1L1210.0,645.1L1214.0,645.0L1218.0,645.7L1222.0,644.7L1226.0,643.6L1230.0,643.6L1234.0,643.6L1238.0,645.7L1242.0,645.0L1246.0,643.9L1250.0,645.4L1254.0,645.6L1258.0,644.8L1262.0,643.5L1266.0,643.7L1270.0,643.3L1274.0,645.2L1278.0,644.0L1282.0,644.4L1286.0,643.3L1290.0,645.3L1294.0,644.7L1298.0,643.7L1302.0,644.9L1306.0,643.4L1310.0,643.3L1314.0,645.1L1318.0,644.1L1322.0,643.4L1326.0,644.2L1330.0,643.1L1334.0,643.5L1338.0,644.5L1342.0,642.5L1346.0,643.7L1350.0,642.7L1354.0,643.2L1358.0,644.4L1362.0,643.6L1366.0,642.4L1370.0,644.4L1374.0,644.2L1378.0,644.6L1382.0,642.4L1386.0,644.4L1390.0,642.4L1394.0,642.5L1398.0,642.2L1402.0,643.2L1406.0,643.2L1410.0,642.9L1414.0,643.5L1418.0,642.1L1422.0,643.0L1426.0,643.3L1430.0,643.3L1434.0,642.8L1438.0,644.1L1442.0,641.7L1446.0,643.5L1450.0,641.9L1454.0,643.5L1458.0,642.4L1462.0,643.8L1466.0,642.9L1470.0,643.6L1474.0,643.9" fill="none" stroke="#d81818" stroke-width="1.2" opacity="0.7"/>
<path d="M1010.0,651.0L1014.0,651.0L1018.0,650.8L1022.0,651.0L1026.0,650.9L1030.0,652.8L1034.0,652.8L1038.0,652.0L1042.0,651.1L1046.0,651.7L1050.0,652.8L1054.0,650.6L1058.0,652.4L1062.0,652.1L1066.0,651.6L1070.0,650.5L1074.0,650.4L1078.0,651.8L1082.0,652.5L1086.0,650.8L1090.0,650.5L1094.0,652.0L1098.0,652.5L1102.0,650.4L1106.0,652.0L1110.0,650.6L1114.0,650.3L1118.0,650.2L1122.0,651.6L1126.0,650.7L1130.0,651.2L1134.0,652.0L1138.0,652.6L1142.0,650.5L1146.0,651.8L1150.0,651.1L1154.0,652.1L1158.0,651.1L1162.0,650.8L1166.0,650.7L1170.0,652.0L1174.0,651.9L1178.0,652.2L1182.0,651.4L1186.0,650.8L1190.0,651.8L1194.0,651.0L1198.0,652.1L1202.0,650.6L1206.0,650.3L1210.0,649.8L1214.0,650.1L1218.0,651.0L1222.0,651.1L1226.0,652.1L1230.0,651.4L1234.0,650.8L1238.0,651.9L1242.0,649.7L1246.0,650.7L1250.0,652.0L1254.0,651.7L1258.0,652.0L1262.0,651.3L1266.0,651.5L1270.0,651.6L1274.0,649.6L1278.0,650.1L1282.0,651.7L1286.0,651.3L1290.0,651.1L1294.0,651.7L1298.0,649.5L1302.0,651.1L1306.0,651.0L1310.0,650.7L1314.0,651.3L1318.0,650.3L1322.0,649.6L1326.0,650.6L1330.0,649.8L1334.0,650.2L1338.0,650.5L1342.0,649.7L1346.0,650.2L1350.0,650.7L1354.0,651.1L1358.0,649.2L1362.0,649.7L1366.0,649.4L1370.0,649.9L1374.0,650.2L1378.0,650.1L1382.0,651.1L1386.0,650.7L1390.0,649.4L1394.0,651.3L1398.0,650.2L1402.0,651.1L1406.0,650.5L1410.0,649.1L1414.0,650.5L1418.0,648.9L1422.0,650.5L1426.0,649.5L1430.0,650.2L1434.0,649.3L1438.0,649.2L1442.0,651.0L1446.0,649.4L1450.0,648.8L1454.0,651.1L1458.0,650.7L1462.0,650.6L1466.0,648.8L1470.0,650.4L1474.0,650.8" fill="none" stroke="#f05020" stroke-width="1.2" opacity="0.7"/>
<path d="M1010.0,645.7L1014.0,646.6L1018.0,645.8L1022.0,646.0L1026.0,646.8L1030.0,646.9L1034.0,646.6L1038.0,645.7L1042.0,645.5L1046.0,645.5L1050.0,646.5L1054.0,645.8L1058.0,646.3L1062.0,645.9L1066.0,646.6L1070.0,644.3L1074.0,646.4L1078.0,646.1L1082.0,646.6L1086.0,644.3L1090.0,645.0L1094.0,644.9L1098.0,645.2L1102.0,644.2L1106.0,645.1L1110.0,646.4L1114.0,644.4L1118.0,645.9L1122.0,645.2L1126.0,644.7L1130.0,644.5L1134.0,645.4L1138.0,645.5L1142.0,645.6L1146.0,644.6L1150.0,644.0L1154.0,645.7L1158.0,644.7L1162.0,643.6L1166.0,643.6L1170.0,645.4L1174.0,645.2L1178.0,644.8L1182.0,643.9L1186.0,643.6L1190.0,643.7L1194.0,645.7L1198.0,644.0L1202.0,645.2L1206.0,643.6L1210.0,643.7L1214.0,644.1L1218.0,644.9L1222.0,645.2L1226.0,643.7L1230.0,644.2L1234.0,643.4L1238.0,643.4L1242.0,644.8L1246.0,643.3L1250.0,644.0L1254.0,644.9L1258.0,644.7L1262.0,644.8L1266.0,644.1L1270.0,644.4L1274.0,644.3L1278.0,644.3L1282.0,642.5L1286.0,642.5L1290.0,644.0L1294.0,644.9L1298.0,642.7L1302.0,643.8L1306.0,642.5L1310.0,643.4L1314.0,644.2L1318.0,644.7L1322.0,643.9L1326.0,642.7L1330.0,643.0L1334.0,642.3L1338.0,643.3L1342.0,642.8L1346.0,644.2L1350.0,642.6L1354.0,642.4L1358.0,642.2L1362.0,644.2L1366.0,644.0L1370.0,642.2L1374.0,642.9L1378.0,643.7L1382.0,641.8L1386.0,643.7L1390.0,643.8L1394.0,643.9L1398.0,642.8L1402.0,644.0L1406.0,643.0L1410.0,642.5L1414.0,643.2L1418.0,643.7L1422.0,643.5L1426.0,641.8L1430.0,641.4L1434.0,642.1L1438.0,643.6L1442.0,643.5L1446.0,641.3L1450.0,643.3L1454.0,642.3L1458.0,642.8L1462.0,641.2L1466.0,642.5L1470.0,641.7L1474.0,641.4" fill="none" stroke="#f08020" stroke-width="1.2" opacity="0.7"/>
<path d="M1010.0,643.2L1014.0,642.7L1018.0,644.9L1022.0,643.3L1026.0,644.7L1030.0,643.6L1034.0,642.7L1038.0,643.9L1042.0,643.7L1046.0,644.1L1050.0,644.3L1054.0,643.8L1058.0,644.2L1062.0,643.6L1066.0,642.2L1070.0,642.1L1074.0,643.6L1078.0,642.0L1082.0,643.8L1086.0,643.5L1090.0,643.6L1094.0,643.0L1098.0,643.8L1102.0,642.7L1106.0,643.3L1110.0,642.2L1114.0,642.5L1118.0,643.2L1122.0,642.7L1126.0,643.5L1130.0,641.8L1134.0,641.6L1138.0,642.0L1142.0,643.1L1146.0,643.7L1150.0,642.7L1154.0,642.6L1158.0,643.5L1162.0,643.4L1166.0,641.5L1170.0,642.6L1174.0,641.2L1178.0,641.8L1182.0,641.1L1186.0,641.1L1190.0,642.5L1194.0,642.6L1198.0,643.2L1202.0,641.7L1206.0,642.3L1210.0,642.5L1214.0,642.0L1218.0,642.8L1222.0,642.7L1226.0,642.2L1230.0,642.9L1234.0,640.6L1238.0,640.9L1242.0,642.2L1246.0,641.9L1250.0,641.0L1254.0,640.9L1258.0,642.4L1262.0,641.0L1266.0,641.9L1270.0,640.0L1274.0,640.3L1278.0,642.0L1282.0,640.7L1286.0,640.9L1290.0,641.3L1294.0,640.6L1298.0,642.1L1302.0,640.8L1306.0,641.0L1310.0,641.3L1314.0,639.9L1318.0,640.8L1322.0,641.3L1326.0,639.6L1330.0,640.9L1334.0,639.7L1338.0,639.9L1342.0,640.6L1346.0,640.0L1350.0,639.6L1354.0,639.4L1358.0,639.7L1362.0,641.4L1366.0,640.8L1370.0,640.8L1374.0,641.4L1378.0,639.9L1382.0,640.1L1386.0,639.2L1390.0,640.5L1394.0,639.4L1398.0,639.0L1402.0,639.9L1406.0,640.4L1410.0,638.7L1414.0,639.8L1418.0,639.0L1422.0,639.4L1426.0,639.1L1430.0,640.5L1434.0,640.2L1438.0,638.5L1442.0,640.0L1446.0,639.9L1450.0,639.5L1454.0,640.3L1458.0,638.8L1462.0,638.1L1466.0,638.7L1470.0,639.0L1474.0,639.8" fill="none" stroke="#e02818" stroke-width="1.2" opacity="0.7"/>
<path d="M1010.0,644.6L1014.0,644.3L1018.0,645.1L1022.0,645.6L1026.0,646.0L1030.0,644.2L1034.0,645.3L1038.0,643.6L1042.0,645.4L1046.0,645.8L1050.0,644.0L1054.0,645.6L1058.0,644.7L1062.0,644.9L1066.0,644.7L1070.0,645.7L1074.0,643.4L1078.0,643.5L1082.0,644.4L1086.0,645.0L1090.0,643.8L1094.0,645.3L1098.0,643.8L1102.0,645.3L1106.0,644.7L1110.0,645.4L1114.0,644.5L1118.0,643.0L1122.0,642.9L1126.0,644.8L1130.0,642.8L1134.0,644.7L1138.0,644.8L1142.0,643.8L1146.0,644.5L1150.0,643.4L1154.0,643.3L1158.0,643.8L1162.0,644.6L1166.0,643.9L1170.0,644.0L1174.0,642.5L1178.0,644.4L1182.0,643.6L1186.0,644.7L1190.0,644.8L1194.0,644.6L1198.0,642.7L1202.0,643.1L1206.0,643.7L1210.0,644.6L1214.0,643.6L1218.0,644.3L1222.0,644.2L1226.0,643.6L1230.0,643.3L1234.0,644.3L1238.0,642.4L1242.0,643.6L1246.0,642.5L1250.0,641.9L1254.0,643.4L1258.0,644.0L1262.0,641.7L1266.0,642.6L1270.0,644.0L1274.0,641.8L1278.0,642.9L1282.0,641.9L1286.0,642.4L1290.0,643.8L1294.0,643.3L1298.0,641.7L1302.0,642.5L1306.0,643.0L1310.0,642.7L1314.0,642.4L1318.0,643.2L1322.0,642.5L1326.0,641.8L1330.0,642.9L1334.0,641.7L1338.0,642.5L1342.0,643.2L1346.0,643.2L1350.0,642.0L1354.0,642.1L1358.0,640.7L1362.0,641.1L1366.0,642.5L1370.0,642.4L1374.0,642.0L1378.0,640.6L1382.0,642.9L1386.0,642.8L1390.0,641.2L1394.0,641.8L1398.0,642.9L1402.0,641.8L1406.0,641.2L1410.0,642.0L1414.0,641.4L1418.0,640.2L1422.0,641.2L1426.0,642.4L1430.0,642.1L1434.0,641.5L1438.0,641.2L1442.0,640.6L1446.0,642.2L1450.0,641.0L1454.0,640.4L1458.0,642.0L1462.0,639.9L1466.0,641.7L1470.0,640.9L1474.0,640.7" fill="none" stroke="#f06a20" stroke-width="1.2" opacity="0.7"/>
<path d="M1010.0,642.3L1014.0,641.6L1018.0,642.5L1022.0,642.1L1026.0,640.3L1030.0,641.9L1034.0,640.4L1038.0,640.9L1042.0,641.0L1046.0,640.7L1050.0,640.2L1054.0,640.9L1058.0,641.8L1062.0,640.6L1066.0,639.9L1070.0,640.0L1074.0,641.1L1078.0,640.2L1082.0,639.7L1086.0,641.2L1090.0,641.5L1094.0,641.2L1098.0,641.8L1102.0,641.2L1106.0,641.5L1110.0,640.0L1114.0,639.4L1118.0,639.1L1122.0,639.1L1126.0,639.7L1130.0,639.0L1134.0,640.1L1138.0,640.9L1142.0,639.6L1146.0,639.9L1150.0,638.8L1154.0,640.8L1158.0,641.1L1162.0,639.6L1166.0,639.9L1170.0,640.9L1174.0,640.3L1178.0,640.1L1182.0,640.0L1186.0,640.5L1190.0,638.6L1194.0,640.6L1198.0,638.3L1202.0,640.3L1206.0,639.3L1210.0,638.3L1214.0,639.7L1218.0,639.9L1222.0,638.1L1226.0,638.2L1230.0,640.2L1234.0,638.3L1238.0,640.0L1242.0,638.6L1246.0,638.5L1250.0,637.7L1254.0,639.2L1258.0,638.5L1262.0,638.1L1266.0,638.2L1270.0,637.6L1274.0,638.3L1278.0,637.4L1282.0,637.4L1286.0,639.2L1290.0,638.0L1294.0,639.2L1298.0,638.9L1302.0,638.6L1306.0,639.2L1310.0,637.1L1314.0,637.4L1318.0,638.0L1322.0,637.4L1326.0,637.8L1330.0,637.1L1334.0,636.8L1338.0,638.4L1342.0,637.6L1346.0,638.4L1350.0,638.1L1354.0,638.3L1358.0,637.8L1362.0,636.5L1366.0,637.1L1370.0,638.6L1374.0,636.6L1378.0,638.3L1382.0,636.5L1386.0,637.2L1390.0,636.5L1394.0,637.8L1398.0,637.8L1402.0,637.3L1406.0,636.4L1410.0,637.3L1414.0,636.9L1418.0,636.3L1422.0,637.2L1426.0,636.7L1430.0,637.9L1434.0,635.9L1438.0,635.9L1442.0,637.1L1446.0,637.5L1450.0,636.5L1454.0,636.0L1458.0,636.3L1462.0,635.8L1466.0,636.3L1470.0,637.4L1474.0,635.9" fill="none" stroke="#60b040" stroke-width="1.2" opacity="0.7"/>
<path d="M1010.0,652.7L1014.0,652.8L1018.0,652.9L1022.0,653.6L1026.0,653.2L1030.0,652.8L1034.0,652.3L1038.0,652.2L1042.0,654.2L1046.0,652.4L1050.0,651.9L1054.0,654.1L1058.0,653.0L1062.0,651.7L1066.0,652.3L1070.0,652.7L1074.0,653.0L1078.0,652.4L1082.0,653.8L1086.0,653.3L1090.0,653.4L1094.0,653.9L1098.0,651.6L1102.0,653.5L1106.0,653.9L1110.0,652.2L1114.0,652.3L1118.0,652.4L1122.0,652.5L1126.0,652.0L1130.0,653.5L1134.0,653.3L1138.0,652.2L1142.0,652.4L1146.0,653.5L1150.0,651.3L1154.0,653.0L1158.0,652.4L1162.0,651.5L1166.0,653.6L1170.0,653.7L1174.0,653.5L1178.0,651.6L1182.0,652.7L1186.0,652.2L1190.0,653.1L1194.0,651.4L1198.0,652.4L1202.0,652.5L1206.0,651.5L1210.0,652.4L1214.0,652.4L1218.0,651.3L1222.0,653.1L1226.0,652.9L1230.0,653.1L1234.0,653.4L1238.0,651.0L1242.0,651.8L1246.0,653.3L1250.0,651.4L1254.0,652.0L1258.0,651.5L1262.0,651.8L1266.0,650.9L1270.0,651.1L1274.0,651.5L1278.0,651.0L1282.0,651.8L1286.0,652.1L1290.0,651.3L1294.0,651.2L1298.0,651.9L1302.0,652.4L1306.0,653.3L1310.0,651.6L1314.0,653.3L1318.0,652.8L1322.0,652.1L1326.0,651.3L1330.0,652.0L1334.0,650.7L1338.0,651.0L1342.0,650.7L1346.0,651.5L1350.0,652.0L1354.0,653.0L1358.0,651.4L1362.0,652.6L1366.0,652.7L1370.0,651.3L1374.0,651.1L1378.0,650.6L1382.0,651.7L1386.0,650.9L1390.0,651.9L1394.0,650.7L1398.0,651.5L1402.0,650.8L1406.0,651.8L1410.0,651.1L1414.0,652.9L1418.0,651.9L1422.0,651.3L1426.0,651.8L1430.0,652.6L1434.0,652.6L1438.0,652.5L1442.0,650.9L1446.0,651.7L1450.0,652.5L1454.0,651.9L1458.0,651.1L1462.0,652.7L1466.0,650.3L1470.0,651.9L1474.0,652.6" fill="none" stroke="#d81818" stroke-width="1.2" opacity="0.7"/>
<path d="M1010.0,651.8L1014.0,650.0L1018.0,651.1L1022.0,649.8L1026.0,651.5L1030.0,649.6L1034.0,650.4L1038.0,651.1L1042.0,650.6L1046.0,649.7L1050.0,649.7L1054.0,651.6L1058.0,650.7L1062.0,650.4L1066.0,651.9L1070.0,649.5L1074.0,651.8L1078.0,649.8L1082.0,650.1L1086.0,651.2L1090.0,650.2L1094.0,649.5L1098.0,651.8L1102.0,649.5L1106.0,651.1L1110.0,649.6L1114.0,651.0L1118.0,650.7L1122.0,651.4L1126.0,651.5L1130.0,650.8L1134.0,651.1L1138.0,650.6L1142.0,650.4L1146.0,649.2L1150.0,650.1L1154.0,651.2L1158.0,650.6L1162.0,649.6L1166.0,651.5L1170.0,650.3L1174.0,651.0L1178.0,650.5L1182.0,649.1L1186.0,649.9L1190.0,650.6L1194.0,651.3L1198.0,649.0L1202.0,649.8L1206.0,650.4L1210.0,648.9L1214.0,649.4L1218.0,650.2L1222.0,650.5L1226.0,650.4L1230.0,651.0L1234.0,648.8L1238.0,649.8L1242.0,651.1L1246.0,649.0L1250.0,650.5L1254.0,649.3L1258.0,649.3L1262.0,649.7L1266.0,650.9L1270.0,649.5L1274.0,649.7L1278.0,649.3L1282.0,649.1L1286.0,650.5L1290.0,650.9L1294.0,648.6L1298.0,649.2L1302.0,648.5L1306.0,649.0L1310.0,650.0L1314.0,648.9L1318.0,650.2L1322.0,648.8L1326.0,649.1L1330.0,649.7L1334.0,650.1L1338.0,649.6L1342.0,648.7L1346.0,650.6L1350.0,648.4L1354.0,650.1L1358.0,649.0L1362.0,650.1L1366.0,648.7L1370.0,649.8L1374.0,650.4L1378.0,649.7L1382.0,648.8L1386.0,648.4L1390.0,649.1L1394.0,649.8L1398.0,648.7L1402.0,648.0L1406.0,649.9L1410.0,648.9L1414.0,649.2L1418.0,648.4L1422.0,648.3L1426.0,649.4L1430.0,649.6L1434.0,649.4L1438.0,648.2L1442.0,648.6L1446.0,649.2L1450.0,649.2L1454.0,648.0L1458.0,650.1L1462.0,649.1L1466.0,649.3L1470.0,647.9L1474.0,648.9" fill="none" stroke="#f05020" stroke-width="1.2" opacity="0.7"/>
<path d="M1010.0,641.4L1014.0,639.8L1018.0,640.3L1022.0,640.2L1026.0,640.0L1030.0,640.5L1034.0,641.0L1038.0,639.9L1042.0,639.6L1046.0,640.9L1050.0,639.9L1054.0,640.5L1058.0,640.7L1062.0,638.9L1066.0,638.7L1070.0,639.7L1074.0,639.5L1078.0,638.4L1082.0,638.1L1086.0,638.2L1090.0,638.1L1094.0,638.2L1098.0,639.5L1102.0,639.2L1106.0,639.8L1110.0,638.0L1114.0,638.0L1118.0,638.3L1122.0,639.7L1126.0,637.5L1130.0,637.6L1134.0,637.9L1138.0,639.6L1142.0,638.1L1146.0,637.8L1150.0,639.4L1154.0,637.8L1158.0,638.8L1162.0,639.4L1166.0,636.9L1170.0,637.6L1174.0,638.4L1178.0,637.5L1182.0,637.0L1186.0,638.8L1190.0,637.4L1194.0,638.2L1198.0,638.0L1202.0,637.9L1206.0,638.8L1210.0,637.7L1214.0,636.5L1218.0,638.1L1222.0,637.5L1226.0,638.1L1230.0,636.3L1234.0,638.1L1238.0,636.9L1242.0,636.7L1246.0,636.5L1250.0,637.0L1254.0,638.0L1258.0,637.0L1262.0,638.2L1266.0,637.7L1270.0,636.6L1274.0,636.0L1278.0,637.0L1282.0,637.9L1286.0,635.7L1290.0,637.6L1294.0,637.7L1298.0,636.3L1302.0,636.2L1306.0,637.2L1310.0,635.2L1314.0,636.3L1318.0,635.7L1322.0,636.9L1326.0,635.7L1330.0,636.3L1334.0,635.8L1338.0,636.7L1342.0,635.1L1346.0,636.1L1350.0,634.6L1354.0,635.2L1358.0,635.1L1362.0,636.6L1366.0,635.0L1370.0,635.5L1374.0,634.7L1378.0,634.6L1382.0,634.8L1386.0,634.3L1390.0,636.5L1394.0,634.1L1398.0,635.9L1402.0,636.4L1406.0,635.7L1410.0,634.5L1414.0,633.9L1418.0,634.3L1422.0,634.7L1426.0,635.0L1430.0,636.1L1434.0,633.8L1438.0,635.8L1442.0,634.9L1446.0,635.8L1450.0,634.4L1454.0,634.0L1458.0,634.6L1462.0,634.2L1466.0,634.0L1470.0,634.1L1474.0,635.0" fill="none" stroke="#f08020" stroke-width="1.2" opacity="0.7"/>
<path d="M1010.0,645.4L1014.0,644.1L1018.0,644.9L1022.0,645.1L1026.0,645.7L1030.0,645.4L1034.0,644.8L1038.0,644.4L1042.0,644.6L1046.0,645.8L1050.0,645.5L1054.0,643.5L1058.0,645.2L1062.0,644.9L1066.0,645.8L1070.0,645.3L1074.0,644.5L1078.0,644.3L1082.0,644.1L1086.0,643.5L1090.0,645.7L1094.0,645.7L1098.0,644.6L1102.0,644.0L1106.0,643.5L1110.0,643.4L1114.0,644.7L1118.0,644.0L1122.0,644.5L1126.0,643.0L1130.0,644.3L1134.0,643.0L1138.0,644.2L1142.0,643.1L1146.0,643.1L1150.0,644.2L1154.0,643.9L1158.0,644.0L1162.0,642.9L1166.0,643.7L1170.0,643.4L1174.0,644.3L1178.0,644.3L1182.0,644.5L1186.0,644.1L1190.0,644.7L1194.0,643.1L1198.0,643.7L1202.0,643.6L1206.0,642.8L1210.0,642.5L1214.0,643.3L1218.0,643.5L1222.0,643.5L1226.0,643.5L1230.0,642.6L1234.0,643.7L1238.0,644.1L1242.0,642.2L1246.0,641.9L1250.0,643.6L1254.0,643.2L1258.0,641.7L1262.0,642.8L1266.0,643.2L1270.0,643.0L1274.0,642.4L1278.0,642.9L1282.0,642.5L1286.0,643.1L1290.0,641.8L1294.0,642.0L1298.0,641.9L1302.0,643.0L1306.0,642.4L1310.0,642.8L1314.0,642.5L1318.0,643.4L1322.0,642.7L1326.0,643.3L1330.0,642.5L1334.0,641.8L1338.0,641.8L1342.0,641.1L1346.0,643.1L1350.0,642.6L1354.0,641.9L1358.0,642.2L1362.0,641.2L1366.0,641.3L1370.0,642.0L1374.0,642.3L1378.0,641.9L1382.0,641.0L1386.0,641.2L1390.0,641.0L1394.0,641.3L1398.0,640.9L1402.0,640.6L1406.0,641.1L1410.0,640.4L1414.0,640.8L1418.0,640.6L1422.0,640.9L1426.0,640.2L1430.0,642.4L1434.0,642.6L1438.0,642.1L1442.0,640.7L1446.0,640.1L1450.0,642.1L1454.0,641.8L1458.0,641.1L1462.0,641.9L1466.0,641.1L1470.0,639.8L1474.0,641.1" fill="none" stroke="#e02818" stroke-width="1.2" opacity="0.7"/>
<path d="M1411.0,656.9 L1471,655.4 L1471,660.0 L1391.0,660.0 Z" fill="#1a5a9a" opacity="0.85"/>
</g>
<rect x="1010.8" y="380" width="460.2" height="283.0" fill="none" stroke="#3a3a3a" stroke-width="1.4"/>
<line x1="1010.8" y1="660.0" x2="1015.8" y2="660.0" stroke="#333" stroke-width="1.3"/>
<line x1="1010.8" y1="532.8" x2="1015.8" y2="532.8" stroke="#333" stroke-width="1.3"/>
<line x1="1010.8" y1="405.5" x2="1015.8" y2="405.5" stroke="#333" stroke-width="1.3"/>
<line x1="1052.6" y1="663" x2="1052.6" y2="658" stroke="#333" stroke-width="1.3"/>
<line x1="1262.6" y1="663" x2="1262.6" y2="658" stroke="#333" stroke-width="1.3"/>
<text x="1001" y="668.8" font-size="24.5" fill="#111" text-anchor="end" font-weight="normal" font-family="'Liberation Sans', Arial, sans-serif" stroke="#111" stroke-width="0.7" textLength="31.5" lengthAdjust="spacingAndGlyphs">0.0</text>
<text x="1001" y="541.5" font-size="24.5" fill="#111" text-anchor="end" font-weight="normal" font-family="'Liberation Sans', Arial, sans-serif" stroke="#111" stroke-width="0.7" textLength="31.5" lengthAdjust="spacingAndGlyphs">0.5</text>
<text x="1001" y="414.3" font-size="24.5" fill="#111" text-anchor="end" font-weight="normal" font-family="'Liberation Sans', Arial, sans-serif" stroke="#111" stroke-width="0.7" textLength="31.5" lengthAdjust="spacingAndGlyphs">1.0</text>
<path d="M1034.3,400.9L1043.6,408.6L1052.8,410.2L1062.1,407.1L1071.4,405.5L1080.6,404.0L1089.9,402.4L1099.2,411.7L1108.4,414.8L1117.7,407.1L1123.9,405.5L1133.2,408.6L1145.5,410.2L1154.8,416.3L1164.1,424.1L1176.4,431.8L1185.7,438.0L1198.0,442.6L1207.3,441.7L1216.6,430.2L1228.9,422.5L1238.2,416.3L1247.5,421.0L1259.8,416.3L1269.1,421.0L1278.4,427.2L1287.6,431.8L1296.9,439.5L1306.2,450.3L1315.4,462.7L1321.6,464.2L1330.9,465.1L1337.1,470.4L1346.3,456.5L1355.6,444.1L1364.9,431.8L1369.5,416.3L1374.1,400.9L1380.3,408.6L1392.7,413.2L1405.0,407.1L1414.3,408.6L1426.6,405.5L1439.0,402.4L1449.8,397.8L1463.7,399.3L1488.4,399.3" fill="none" stroke="#333" stroke-width="2" stroke-dasharray="3,4"/>
<text x="1486.5" y="408" font-size="20" fill="#111" text-anchor="start" font-weight="normal" font-family="'Liberation Sans', Arial, sans-serif" >R</text>
<text x="1500.5" y="413.5" font-size="13" fill="#111" text-anchor="start" font-weight="normal" font-family="'Liberation Sans', Arial, sans-serif" >s</text>
<text x="0" y="0" font-size="25" fill="#111" text-anchor="middle" font-weight="normal" font-family="'Liberation Sans', Arial, sans-serif" stroke="#111" stroke-width="0.6" transform="translate(949,379.6) rotate(-90)">Normalized reflectance</text>
<polygon points="1026.2,58.2 1125.8,58.2 1135.9,96.4 1016.7,96.4" fill="#abc4d6"/>
<polygon points="1016.7,96.4 1135.9,96.4 1135.9,108.3 1016.7,108.3" fill="#9cb2c2"/>
<line x1="1016.7" y1="96.6" x2="1135.9" y2="96.6" stroke="#c4d4e0" stroke-width="1"/>
<ellipse cx="1048.0" cy="80.5" rx="17.5" ry="10" transform="rotate(-40 1048.0 80.5)" fill="rgb(151,151,157)"/>
<ellipse cx="1048.0" cy="79.5" rx="17.5" ry="10" transform="rotate(-40 1048.0 79.5)" fill="rgb(147,147,153)"/>
<ellipse cx="1048.0" cy="78.5" rx="17.5" ry="10" transform="rotate(-40 1048.0 78.5)" fill="rgb(144,144,150)"/>
<ellipse cx="1048.0" cy="77.5" rx="17.5" ry="10" transform="rotate(-40 1048.0 77.5)" fill="rgb(140,140,146)"/>
<ellipse cx="1048.0" cy="76.5" rx="17.5" ry="10" transform="rotate(-40 1048.0 76.5)" fill="rgb(137,137,143)"/>
<ellipse cx="1048.0" cy="75.5" rx="17.5" ry="10" transform="rotate(-40 1048.0 75.5)" fill="rgb(133,133,139)"/>
<ellipse cx="1048.0" cy="74.5" rx="17.5" ry="10" transform="rotate(-40 1048.0 74.5)" fill="rgb(130,130,136)"/>
<ellipse cx="1048.0" cy="73.5" rx="17.5" ry="10" transform="rotate(-40 1048.0 73.5)" fill="rgb(126,126,132)"/>
<ellipse cx="1048.0" cy="72.5" rx="17.5" ry="10" transform="rotate(-40 1048.0 72.5)" fill="rgb(123,123,129)"/>
<ellipse cx="1048.0" cy="71.5" rx="17.5" ry="10" transform="rotate(-40 1048.0 71.5)" fill="rgb(119,119,125)"/>
<ellipse cx="1048.0" cy="70.5" rx="17.5" ry="10" transform="rotate(-40 1048.0 70.5)" fill="rgb(116,116,122)"/>
<ellipse cx="1048.0" cy="69.5" rx="17.5" ry="10" transform="rotate(-40 1048.0 69.5)" fill="rgb(112,112,118)"/>
<ellipse cx="1048.0" cy="68.5" rx="17.5" ry="10" transform="rotate(-40 1048.0 68.5)" fill="rgb(109,109,115)"/>
<ellipse cx="1048.0" cy="67.5" rx="17.5" ry="10" transform="rotate(-40 1048.0 67.5)" fill="rgb(105,105,111)"/>
<ellipse cx="1048.0" cy="66.5" rx="17.5" ry="10" transform="rotate(-40 1048.0 66.5)" fill="rgb(102,102,108)"/>
<ellipse cx="1048.0" cy="65.5" rx="17.5" ry="10" transform="rotate(-40 1048.0 65.5)" fill="rgb(98,98,104)"/>
<ellipse cx="1048.0" cy="64.5" rx="17.5" ry="10" transform="rotate(-40 1048.0 64.5)" fill="rgb(95,95,101)"/>
<ellipse cx="1048.0" cy="64.5" rx="17.5" ry="10" transform="rotate(-40 1048.0 64.5)" fill="#f2e0d6"/>
<ellipse cx="1103.0" cy="80.5" rx="17.5" ry="10" transform="rotate(40 1103.0 80.5)" fill="rgb(102,102,108)"/>
<ellipse cx="1103.0" cy="79.5" rx="17.5" ry="10" transform="rotate(40 1103.0 79.5)" fill="rgb(105,105,111)"/>
<ellipse cx="1103.0" cy="78.5" rx="17.5" ry="10" transform="rotate(40 1103.0 78.5)" fill="rgb(108,108,114)"/>
<ellipse cx="1103.0" cy="77.5" rx="17.5" ry="10" transform="rotate(40 1103.0 77.5)" fill="rgb(111,111,117)"/>
<ellipse cx="1103.0" cy="76.5" rx="17.5" ry="10" transform="rotate(40 1103.0 76.5)" fill="rgb(114,114,120)"/>
<ellipse cx="1103.0" cy="75.5" rx="17.5" ry="10" transform="rotate(40 1103.0 75.5)" fill="rgb(117,117,123)"/>
<ellipse cx="1103.0" cy="74.5" rx="17.5" ry="10" transform="rotate(40 1103.0 74.5)" fill="rgb(120,120,126)"/>
<ellipse cx="1103.0" cy="73.5" rx="17.5" ry="10" transform="rotate(40 1103.0 73.5)" fill="rgb(123,123,129)"/>
<ellipse cx="1103.0" cy="72.5" rx="17.5" ry="10" transform="rotate(40 1103.0 72.5)" fill="rgb(126,126,132)"/>
<ellipse cx="1103.0" cy="71.5" rx="17.5" ry="10" transform="rotate(40 1103.0 71.5)" fill="rgb(129,129,135)"/>
<ellipse cx="1103.0" cy="70.5" rx="17.5" ry="10" transform="rotate(40 1103.0 70.5)" fill="rgb(132,132,138)"/>
<ellipse cx="1103.0" cy="69.5" rx="17.5" ry="10" transform="rotate(40 1103.0 69.5)" fill="rgb(135,135,141)"/>
<ellipse cx="1103.0" cy="68.5" rx="17.5" ry="10" transform="rotate(40 1103.0 68.5)" fill="rgb(138,138,144)"/>
<ellipse cx="1103.0" cy="67.5" rx="17.5" ry="10" transform="rotate(40 1103.0 67.5)" fill="rgb(141,141,147)"/>
<ellipse cx="1103.0" cy="66.5" rx="17.5" ry="10" transform="rotate(40 1103.0 66.5)" fill="rgb(144,144,150)"/>
<ellipse cx="1103.0" cy="65.5" rx="17.5" ry="10" transform="rotate(40 1103.0 65.5)" fill="rgb(147,147,153)"/>
<ellipse cx="1103.0" cy="64.5" rx="17.5" ry="10" transform="rotate(40 1103.0 64.5)" fill="rgb(150,150,156)"/>
<ellipse cx="1103.0" cy="64.5" rx="17.5" ry="10" transform="rotate(40 1103.0 64.5)" fill="#f2e0d6"/>
<polygon points="1026.2,325.4 1125.8,325.4 1135.9,363.6 1016.7,363.6" fill="#abc4d6"/>
<polygon points="1016.7,363.6 1135.9,363.6 1135.9,375.5 1016.7,375.5" fill="#9cb2c2"/>
<line x1="1016.7" y1="363.79999999999995" x2="1135.9" y2="363.79999999999995" stroke="#c4d4e0" stroke-width="1"/>
<ellipse cx="1048.0" cy="347.7" rx="17.5" ry="10" transform="rotate(-40 1048.0 347.7)" fill="rgb(151,151,157)"/>
<ellipse cx="1048.0" cy="346.7" rx="17.5" ry="10" transform="rotate(-40 1048.0 346.7)" fill="rgb(147,147,153)"/>
<ellipse cx="1048.0" cy="345.7" rx="17.5" ry="10" transform="rotate(-40 1048.0 345.7)" fill="rgb(144,144,150)"/>
<ellipse cx="1048.0" cy="344.7" rx="17.5" ry="10" transform="rotate(-40 1048.0 344.7)" fill="rgb(140,140,146)"/>
<ellipse cx="1048.0" cy="343.7" rx="17.5" ry="10" transform="rotate(-40 1048.0 343.7)" fill="rgb(137,137,143)"/>
<ellipse cx="1048.0" cy="342.7" rx="17.5" ry="10" transform="rotate(-40 1048.0 342.7)" fill="rgb(133,133,139)"/>
<ellipse cx="1048.0" cy="341.7" rx="17.5" ry="10" transform="rotate(-40 1048.0 341.7)" fill="rgb(130,130,136)"/>
<ellipse cx="1048.0" cy="340.7" rx="17.5" ry="10" transform="rotate(-40 1048.0 340.7)" fill="rgb(126,126,132)"/>
<ellipse cx="1048.0" cy="339.7" rx="17.5" ry="10" transform="rotate(-40 1048.0 339.7)" fill="rgb(123,123,129)"/>
<ellipse cx="1048.0" cy="338.7" rx="17.5" ry="10" transform="rotate(-40 1048.0 338.7)" fill="rgb(119,119,125)"/>
<ellipse cx="1048.0" cy="337.7" rx="17.5" ry="10" transform="rotate(-40 1048.0 337.7)" fill="rgb(116,116,122)"/>
<ellipse cx="1048.0" cy="336.7" rx="17.5" ry="10" transform="rotate(-40 1048.0 336.7)" fill="rgb(112,112,118)"/>
<ellipse cx="1048.0" cy="335.7" rx="17.5" ry="10" transform="rotate(-40 1048.0 335.7)" fill="rgb(109,109,115)"/>
<ellipse cx="1048.0" cy="334.7" rx="17.5" ry="10" transform="rotate(-40 1048.0 334.7)" fill="rgb(105,105,111)"/>
<ellipse cx="1048.0" cy="333.7" rx="17.5" ry="10" transform="rotate(-40 1048.0 333.7)" fill="rgb(102,102,108)"/>
<ellipse cx="1048.0" cy="332.7" rx="17.5" ry="10" transform="rotate(-40 1048.0 332.7)" fill="rgb(98,98,104)"/>
<ellipse cx="1048.0" cy="331.7" rx="17.5" ry="10" transform="rotate(-40 1048.0 331.7)" fill="rgb(95,95,101)"/>
<ellipse cx="1048.0" cy="331.7" rx="17.5" ry="10" transform="rotate(-40 1048.0 331.7)" fill="#f2e0d6"/>
<circle cx="1039.0" cy="334.7" r="3.4" fill="#e6b04a"/>
<circle cx="1047.0" cy="326.7" r="3.4" fill="#e6b04a"/>
<circle cx="1055.0" cy="320.7" r="3.4" fill="#e6b04a"/>
<circle cx="1051.0" cy="333.7" r="3.4" fill="#e6b04a"/>
<circle cx="1042.0" cy="341.7" r="3.4" fill="#e6b04a"/>
<circle cx="1059.0" cy="327.7" r="3.4" fill="#e6b04a"/>
<circle cx="1033.0" cy="346.7" r="3.4" fill="#dca648"/>
<circle cx="1042.0" cy="351.7" r="3.4" fill="#dca648"/>
<circle cx="1052.0" cy="345.7" r="3.4" fill="#dca648"/>
<circle cx="1060.0" cy="337.7" r="3.4" fill="#dca648"/>
<ellipse cx="1103.0" cy="347.7" rx="17.5" ry="10" transform="rotate(40 1103.0 347.7)" fill="rgb(102,102,108)"/>
<ellipse cx="1103.0" cy="346.7" rx="17.5" ry="10" transform="rotate(40 1103.0 346.7)" fill="rgb(105,105,111)"/>
<ellipse cx="1103.0" cy="345.7" rx="17.5" ry="10" transform="rotate(40 1103.0 345.7)" fill="rgb(108,108,114)"/>
<ellipse cx="1103.0" cy="344.7" rx="17.5" ry="10" transform="rotate(40 1103.0 344.7)" fill="rgb(111,111,117)"/>
<ellipse cx="1103.0" cy="343.7" rx="17.5" ry="10" transform="rotate(40 1103.0 343.7)" fill="rgb(114,114,120)"/>
<ellipse cx="1103.0" cy="342.7" rx="17.5" ry="10" transform="rotate(40 1103.0 342.7)" fill="rgb(117,117,123)"/>
<ellipse cx="1103.0" cy="341.7" rx="17.5" ry="10" transform="rotate(40 1103.0 341.7)" fill="rgb(120,120,126)"/>
<ellipse cx="1103.0" cy="340.7" rx="17.5" ry="10" transform="rotate(40 1103.0 340.7)" fill="rgb(123,123,129)"/>
<ellipse cx="1103.0" cy="339.7" rx="17.5" ry="10" transform="rotate(40 1103.0 339.7)" fill="rgb(126,126,132)"/>
<ellipse cx="1103.0" cy="338.7" rx="17.5" ry="10" transform="rotate(40 1103.0 338.7)" fill="rgb(129,129,135)"/>
<ellipse cx="1103.0" cy="337.7" rx="17.5" ry="10" transform="rotate(40 1103.0 337.7)" fill="rgb(132,132,138)"/>
<ellipse cx="1103.0" cy="336.7" rx="17.5" ry="10" transform="rotate(40 1103.0 336.7)" fill="rgb(135,135,141)"/>
<ellipse cx="1103.0" cy="335.7" rx="17.5" ry="10" transform="rotate(40 1103.0 335.7)" fill="rgb(138,138,144)"/>
<ellipse cx="1103.0" cy="334.7" rx="17.5" ry="10" transform="rotate(40 1103.0 334.7)" fill="rgb(141,141,147)"/>
<ellipse cx="1103.0" cy="333.7" rx="17.5" ry="10" transform="rotate(40 1103.0 333.7)" fill="rgb(144,144,150)"/>
<ellipse cx="1103.0" cy="332.7" rx="17.5" ry="10" transform="rotate(40 1103.0 332.7)" fill="rgb(147,147,153)"/>
<ellipse cx="1103.0" cy="331.7" rx="17.5" ry="10" transform="rotate(40 1103.0 331.7)" fill="rgb(150,150,156)"/>
<ellipse cx="1103.0" cy="331.7" rx="17.5" ry="10" transform="rotate(40 1103.0 331.7)" fill="#f2e0d6"/>
<circle cx="1112.0" cy="334.7" r="3.4" fill="#e6b04a"/>
<circle cx="1104.0" cy="326.7" r="3.4" fill="#e6b04a"/>
<circle cx="1096.0" cy="320.7" r="3.4" fill="#e6b04a"/>
<circle cx="1100.0" cy="333.7" r="3.4" fill="#e6b04a"/>
<circle cx="1109.0" cy="341.7" r="3.4" fill="#e6b04a"/>
<circle cx="1092.0" cy="327.7" r="3.4" fill="#e6b04a"/>
<circle cx="1118.0" cy="346.7" r="3.4" fill="#dca648"/>
<circle cx="1109.0" cy="351.7" r="3.4" fill="#dca648"/>
<circle cx="1099.0" cy="345.7" r="3.4" fill="#dca648"/>
<circle cx="1091.0" cy="337.7" r="3.4" fill="#dca648"/>
<text x="1147.5" y="73" font-size="21.5" fill="#111" text-anchor="start" font-weight="normal" font-family="'Liberation Sans', Arial, sans-serif" stroke="#111" stroke-width="0.55" >reference</text>
<text x="1147.5" y="99" font-size="21.5" fill="#111" text-anchor="start" font-weight="normal" font-family="'Liberation Sans', Arial, sans-serif" stroke="#111" stroke-width="0.55" >signal</text>
<text x="1147.5" y="339" font-size="21.5" fill="#111" text-anchor="start" font-weight="normal" font-family="'Liberation Sans', Arial, sans-serif" stroke="#111" stroke-width="0.55" >protein A/G</text>
<text x="1147.5" y="363.5" font-size="21.5" fill="#111" text-anchor="start" font-weight="normal" font-family="'Liberation Sans', Arial, sans-serif" stroke="#111" stroke-width="0.55" >physisorption</text>
<path d="M1321.8,291.5 V326 Q1321.8,336 1331.8,336 H1562.5 M1331.8,336 Q1321.8,336 1321.8,346 V466" fill="none" stroke="#3aa05a" stroke-width="1.4"/>
<path d="M1619.7,230.5 L1562.5,336 L1619.7,459.5" fill="none" stroke="#3aa05a" stroke-width="1.4"/>
<line x1="1242" y1="669" x2="1242" y2="722" stroke="#333" stroke-width="1.3"/>
<polygon points="1238,718 1246,718 1242,729" fill="#333"/>
<text x="1258" y="706" font-size="21.5" fill="#111" text-anchor="start" font-weight="normal" font-family="'Liberation Sans', Arial, sans-serif" stroke="#111" stroke-width="0.55" >A = <tspan font-weight="bold">-</tspan> log(R<tspan font-size="13" dy="5">S</tspan><tspan dy="-5">/R</tspan><tspan font-size="13" dy="5">0</tspan><tspan dy="-5">)</tspan></text>
<rect x="1010.6" y="736" width="460.4" height="206.7" fill="none" stroke="#3a3a3a" stroke-width="1.4"/>
<line x1="1010.6" y1="935.0" x2="1015.6" y2="935.0" stroke="#333" stroke-width="1.3"/>
<text x="1001.5" y="943.6" font-size="24.5" fill="#111" text-anchor="end" font-weight="normal" font-family="'Liberation Sans', Arial, sans-serif" stroke="#111" stroke-width="0.4" >0</text>
<line x1="1010.6" y1="875.2" x2="1015.6" y2="875.2" stroke="#333" stroke-width="1.3"/>
<text x="1001.5" y="883.8" font-size="24.5" fill="#111" text-anchor="end" font-weight="normal" font-family="'Liberation Sans', Arial, sans-serif" stroke="#111" stroke-width="0.4" >75</text>
<line x1="1010.6" y1="815.3" x2="1015.6" y2="815.3" stroke="#333" stroke-width="1.3"/>
<text x="1001.5" y="823.9" font-size="24.5" fill="#111" text-anchor="end" font-weight="normal" font-family="'Liberation Sans', Arial, sans-serif" stroke="#111" stroke-width="0.4" >150</text>
<line x1="1010.6" y1="755.5" x2="1015.6" y2="755.5" stroke="#333" stroke-width="1.3"/>
<text x="1001.5" y="764.1" font-size="24.5" fill="#111" text-anchor="end" font-weight="normal" font-family="'Liberation Sans', Arial, sans-serif" stroke="#111" stroke-width="0.4" >225</text>
<line x1="1052.6" y1="942.7" x2="1052.6" y2="937.7" stroke="#333" stroke-width="1.3"/>
<line x1="1262.6" y1="942.7" x2="1262.6" y2="937.7" stroke="#333" stroke-width="1.3"/>
<text x="1052.6" y="973" font-size="24.5" fill="#111" text-anchor="middle" font-weight="normal" font-family="'Liberation Sans', Arial, sans-serif" stroke="#111" stroke-width="0.4" >1400</text>
<text x="1262.6" y="973" font-size="24.5" fill="#111" text-anchor="middle" font-weight="normal" font-family="'Liberation Sans', Arial, sans-serif" stroke="#111" stroke-width="0.4" >1600</text>
<text x="1472.6" y="973" font-size="24.5" fill="#111" text-anchor="middle" font-weight="normal" font-family="'Liberation Sans', Arial, sans-serif" stroke="#111" stroke-width="0.4" >1800</text>
<text x="1250.5" y="1004" font-size="25" fill="#111" text-anchor="middle" font-weight="normal" font-family="'Liberation Sans', Arial, sans-serif" stroke="#111" stroke-width="0.4" >Wavenumber (cm<tspan font-size="14" dy="-9">-1</tspan><tspan dy="9">)</tspan></text>
<text x="0" y="0" font-size="25" fill="#111" text-anchor="middle" font-weight="normal" font-family="'Liberation Sans', Arial, sans-serif" stroke="#111" stroke-width="0.4" transform="translate(949.5,839.5) rotate(-90)">Absorbance (mOD)</text>
<path d="M1011.7,805.1C1015.5,804.8 1027.6,803.9 1034.6,803.2C1041.6,802.6 1047.3,801.5 1053.7,801.3C1060.1,801.1 1066.4,801.8 1072.8,802.1C1079.2,802.4 1085.5,802.7 1091.9,803.2C1098.3,803.7 1104.0,804.3 1111.0,805.1C1118.0,806.0 1127.5,808.1 1133.9,808.2C1140.3,808.3 1144.1,807.1 1149.2,805.9C1154.3,804.8 1158.1,803.9 1164.5,801.3C1170.8,798.8 1180.1,793.9 1187.4,790.6C1194.7,787.3 1203.3,782.5 1208.4,781.5C1213.5,780.4 1215.1,782.7 1217.9,784.1C1220.8,785.5 1221.1,786.7 1225.6,789.9C1230.0,793.1 1238.3,800.7 1244.7,803.2C1251.0,805.8 1257.4,805.3 1263.8,805.1C1270.1,805.0 1277.5,803.9 1282.9,802.1C1288.3,800.3 1291.8,798.1 1296.2,794.5C1300.7,790.8 1305.5,784.6 1309.6,780.3C1313.7,776.1 1317.2,772.2 1321.1,768.9C1324.9,765.5 1329.3,761.8 1332.5,760.1C1335.7,758.4 1336.3,757.7 1340.2,758.5C1344.0,759.4 1351.3,762.0 1355.4,765.0C1359.6,768.0 1361.8,772.0 1365.0,776.5C1368.2,781.0 1371.0,787.5 1374.5,791.8C1378.0,796.0 1381.5,799.7 1386.0,802.1C1390.5,804.4 1396.2,805.1 1401.3,805.9C1406.4,806.7 1408.9,807.2 1416.6,807.1C1424.2,806.9 1438.0,805.8 1447.1,805.1C1456.2,804.5 1467.2,803.6 1471.2,803.2" fill="none" stroke="#555" stroke-width="3" stroke-dasharray="11,6.5"/>
<text x="1036" y="791.5" font-size="24.5" fill="#555" text-anchor="start" font-weight="normal" font-family="'Liberation Sans', Arial, sans-serif" stroke="#555" stroke-width="0.3" >x60</text>
<defs><linearGradient id="absg" gradientUnits="userSpaceOnUse" x1="1030" y1="0" x2="1448" y2="0">
<stop offset="0.000" stop-color="#d81e1e"/>
<stop offset="0.120" stop-color="#e84a1e"/>
<stop offset="0.215" stop-color="#f08a28"/>
<stop offset="0.311" stop-color="#f0b428"/>
<stop offset="0.395" stop-color="#e8c030"/>
<stop offset="0.478" stop-color="#a8c038"/>
<stop offset="0.574" stop-color="#90bc38"/>
<stop offset="0.694" stop-color="#58ac40"/>
<stop offset="0.754" stop-color="#3c9a48"/>
<stop offset="0.801" stop-color="#2f7a70"/>
<stop offset="0.885" stop-color="#2a5a90"/>
<stop offset="0.981" stop-color="#2a4098"/>
</linearGradient></defs>
<path d="M1033.4,940.7L1036.5,929.3L1040.3,933.1L1046.1,927.4L1049.9,926.2L1053.7,929.3L1057.5,927.4L1061.3,933.1L1067.1,931.2L1072.8,926.2L1076.6,933.1L1080.4,935.0L1084.2,929.3L1088.1,932.0L1091.1,936.9L1097.6,921.7L1101.4,925.5L1106.4,920.9L1111.0,927.4L1116.7,932.0L1122.4,935.8L1128.2,932.0L1133.9,929.3L1139.6,926.6L1145.4,927.4L1151.1,923.6L1154.9,921.7L1158.7,922.8L1164.5,914.0L1170.2,910.2L1174.0,904.5L1177.8,896.8L1182.8,885.4L1187.4,887.3L1191.2,882.7L1195.0,885.4L1198.8,880.4L1204.6,884.2L1208.4,882.7L1212.2,880.8L1216.0,896.8L1221.8,904.5L1227.5,912.1L1233.2,917.8L1237.0,919.7L1240.9,900.6L1243.9,914.0L1248.5,912.1L1254.2,914.0L1260.0,920.5L1265.7,917.8L1271.4,912.1L1277.1,900.6L1282.1,893.8L1286.7,893.0L1290.5,883.5L1296.2,868.2L1302.0,862.4L1307.7,849.1L1311.5,843.3L1317.2,842.2L1323.0,843.3L1330.6,844.1L1336.3,833.8L1340.2,854.8L1345.9,862.4L1351.6,873.9L1357.4,885.4L1363.1,896.8L1368.8,908.3L1371.5,927.4L1373.8,942.7L1376.5,931.2L1378.4,923.6L1384.1,924.3L1389.8,922.0L1395.6,923.6L1401.3,926.6L1407.0,932.0L1412.7,929.3L1416.6,930.1L1422.3,936.9L1428.0,933.1L1433.8,935.8L1439.5,940.7L1446.4,944.6" fill="none" stroke="url(#absg)" stroke-width="3" stroke-linejoin="round"/>
<text x="1036.5" y="859.5" font-size="24" fill="#222" text-anchor="start" font-weight="normal" font-family="'Liberation Sans', Arial, sans-serif" stroke="#222" stroke-width="0.35" >amide <tspan font-weight="bold">II</tspan></text>
<text x="1378.5" y="859.5" font-size="24" fill="#222" text-anchor="start" font-weight="normal" font-family="'Liberation Sans', Arial, sans-serif" stroke="#222" stroke-width="0.35" >amide <tspan font-weight="bold">I</tspan></text>
<path d="M1078.5,864.5 V890.3 H1150" fill="none" stroke="#333" stroke-width="1.3"/>
<polygon points="1155,890.3 1145,886 1145,894.6" fill="#333"/>
<path d="M1419.6,866.3 V890.3 H1383" fill="none" stroke="#333" stroke-width="1.3"/>
<polygon points="1378,890.3 1388,886 1388,894.6" fill="#333"/>
<path d="M1714.5,292.0C1714.8,290.5 1715.3,290.6 1716.5,283.0C1717.7,275.4 1720.0,255.4 1721.4,246.5C1722.8,237.6 1723.7,233.2 1725.0,229.5C1726.3,225.8 1728.0,224.1 1729.4,224.1C1730.8,224.1 1732.3,225.8 1733.6,229.5C1734.9,233.2 1736.0,237.6 1737.2,246.5C1738.4,255.4 1739.7,270.8 1740.9,283.0C1742.1,295.2 1743.3,307.3 1744.5,319.5C1745.7,331.7 1746.8,343.8 1748.2,356.0C1749.6,368.2 1751.0,381.6 1753.0,392.6C1755.0,403.6 1757.5,414.1 1760.3,421.8C1763.1,429.5 1766.3,434.6 1770.0,438.8C1773.7,443.1 1777.9,445.1 1782.2,447.3C1786.5,449.5 1793.7,451.4 1796.0,452.2L1796,459.6L1714.5,459.6Z" fill="#8c8c8c"/>
<path d="M1714.5,292.0C1714.8,290.5 1715.3,290.6 1716.5,283.0C1717.7,275.4 1720.0,255.4 1721.4,246.5C1722.8,237.6 1723.7,233.2 1725.0,229.5C1726.3,225.8 1728.0,224.1 1729.4,224.1C1730.8,224.1 1732.3,225.8 1733.6,229.5C1734.9,233.2 1736.0,237.6 1737.2,246.5C1738.4,255.4 1739.7,270.8 1740.9,283.0C1742.1,295.2 1743.3,307.3 1744.5,319.5C1745.7,331.7 1746.8,343.8 1748.2,356.0C1749.6,368.2 1751.0,381.6 1753.0,392.6C1755.0,403.6 1757.5,414.1 1760.3,421.8C1763.1,429.5 1766.3,434.6 1770.0,438.8C1773.7,443.1 1777.9,445.1 1782.2,447.3C1786.5,449.5 1793.7,451.4 1796.0,452.2" fill="none" stroke="#1a1a1a" stroke-width="1.3"/>
<path d="M1619.6,428.5C1620.9,428.4 1623.7,428.4 1627.2,427.7C1630.7,427.0 1636.2,425.6 1640.7,424.4C1645.2,423.2 1649.8,422.2 1654.3,420.4C1658.8,418.6 1663.4,417.0 1667.9,413.6C1672.4,410.2 1677.4,405.4 1681.5,400.0C1685.6,394.6 1689.3,387.5 1692.3,381.0C1695.3,374.5 1697.1,369.2 1699.5,361.0C1701.9,352.8 1704.6,341.4 1706.8,331.7C1709.0,321.9 1711.1,310.2 1712.9,302.5C1714.7,294.8 1716.2,289.1 1717.7,285.5C1719.2,281.9 1720.5,280.6 1721.9,280.6C1723.3,280.6 1724.8,282.7 1726.3,285.5C1727.8,288.3 1729.5,291.9 1731.1,297.6C1732.7,303.3 1734.4,311.4 1736.0,319.5C1737.6,327.6 1739.3,337.0 1740.9,346.3C1742.5,355.6 1743.7,365.8 1745.7,375.5C1747.7,385.2 1750.2,396.2 1753.0,404.7C1755.8,413.2 1759.1,420.6 1762.8,426.7C1766.5,432.8 1771.0,437.2 1775.0,441.3C1779.0,445.4 1783.6,448.9 1787.1,451.0C1790.6,453.1 1794.5,453.2 1796.0,453.6L1796,459.6L1619.6,459.6Z" fill="#6cc38c" stroke="#3f9f5f" stroke-width="1.2"/>
<line x1="1619.6" y1="230" x2="1619.6" y2="459.7" stroke="#333" stroke-width="1.3"/>
<line x1="1796.1" y1="212.6" x2="1796.1" y2="459.7" stroke="#333" stroke-width="1.3"/>
<line x1="1623" y1="212.6" x2="1796.1" y2="212.6" stroke="#333" stroke-width="1.3"/>
<line x1="1644.8" y1="212.6" x2="1644.8" y2="217" stroke="#333" stroke-width="1.2"/>
<line x1="1706" y1="212.6" x2="1706" y2="217" stroke="#333" stroke-width="1.2"/>
<line x1="1764.9" y1="212.6" x2="1764.9" y2="217" stroke="#333" stroke-width="1.2"/>
<line x1="1791.5" y1="224.8" x2="1796.1" y2="224.8" stroke="#333" stroke-width="1.2"/>
<line x1="1791.5" y1="342.1" x2="1796.1" y2="342.1" stroke="#333" stroke-width="1.2"/>
<line x1="1791.5" y1="459.7" x2="1796.1" y2="459.7" stroke="#333" stroke-width="1.2"/>
<text x="1805.5" y="232.8" font-size="22.5" fill="#111" text-anchor="start" font-weight="normal" font-family="'Liberation Sans', Arial, sans-serif" stroke="#111" stroke-width="0.4" >1.0</text>
<text x="1805.5" y="350.1" font-size="22.5" fill="#111" text-anchor="start" font-weight="normal" font-family="'Liberation Sans', Arial, sans-serif" stroke="#111" stroke-width="0.4" >0.5</text>
<text x="1805.5" y="467.7" font-size="22.5" fill="#111" text-anchor="start" font-weight="normal" font-family="'Liberation Sans', Arial, sans-serif" stroke="#111" stroke-width="0.4" >0.0</text>
<text x="1644.8" y="203.5" font-size="22.5" fill="#111" text-anchor="middle" font-weight="normal" font-family="'Liberation Sans', Arial, sans-serif" stroke="#111" stroke-width="0.4" >1630</text>
<text x="1706" y="203.5" font-size="22.5" fill="#111" text-anchor="middle" font-weight="normal" font-family="'Liberation Sans', Arial, sans-serif" stroke="#111" stroke-width="0.4" >1650</text>
<text x="1764.9" y="203.5" font-size="22.5" fill="#111" text-anchor="middle" font-weight="normal" font-family="'Liberation Sans', Arial, sans-serif" stroke="#111" stroke-width="0.4" >1670</text>
<text x="1707.5" y="174.5" font-size="21.8" fill="#111" text-anchor="middle" font-weight="normal" font-family="'Liberation Sans', Arial, sans-serif" stroke="#111" stroke-width="0.4" >Wavenumber (cm<tspan font-size="13" dy="-9">-1</tspan><tspan dy="9">)</tspan></text>
<text x="0" y="0" font-size="22" fill="#111" text-anchor="middle" font-weight="normal" font-family="'Liberation Sans', Arial, sans-serif" stroke="#111" stroke-width="0.45" transform="translate(1867.5,336) rotate(-90)">Normalized reflectance</text>
<text x="1659.5" y="256" font-size="21" fill="#222" text-anchor="start" font-weight="normal" font-family="'Liberation Sans', Arial, sans-serif" ><tspan font-weight="bold">I</tspan><tspan font-size="12" dy="6">0</tspan></text>
<line x1="1673" y1="249.3" x2="1706" y2="249.3" stroke="#333" stroke-width="1.4"/>
<polygon points="1711,249.3 1702,245 1702,253.6" fill="#333"/>
<text x="1635.5" y="364.5" font-size="21" fill="#2aa050" text-anchor="start" font-weight="normal" font-family="'Liberation Sans', Arial, sans-serif" ><tspan font-weight="bold">I</tspan><tspan font-size="12" dy="6">S</tspan></text>
<line x1="1650" y1="358.7" x2="1679" y2="358.7" stroke="#2aa050" stroke-width="1.6"/>
<polygon points="1684,358.7 1675,354.4 1675,363" fill="#2aa050"/>
<line x1="1708" y1="473.5" x2="1708" y2="572" stroke="#333" stroke-width="1.3"/>
<polygon points="1704,569 1712,569 1708,580" fill="#333"/>
<text x="1719.5" y="531" font-size="21" fill="#111" text-anchor="start" font-weight="normal" font-family="'Liberation Sans', Arial, sans-serif" ><tspan font-weight="bold">-</tspan> <tspan font-weight="bold">l</tspan>og(I<tspan font-size="12" dy="5">S</tspan><tspan dy="-5">/I</tspan><tspan font-size="12" dy="5">0</tspan><tspan dy="-5">)</tspan></text>
<rect x="1517.5" y="594.5" width="319.5" height="319.5" fill="#34338c"/>
<rect x="1525.5" y="601.7" width="22.5" height="22.5" fill="#3a3d99"/>
<rect x="1556.5" y="601.7" width="22.5" height="22.5" fill="#3a3f9c"/>
<rect x="1587.4" y="601.7" width="22.5" height="22.5" fill="#34338c"/>
<rect x="1618.4" y="601.7" width="22.5" height="22.5" fill="#34338c"/>
<rect x="1649.4" y="601.7" width="22.5" height="22.5" fill="#34338c"/>
<rect x="1680.3" y="601.7" width="22.5" height="22.5" fill="#34338c"/>
<rect x="1711.3" y="601.7" width="22.5" height="22.5" fill="#34338c"/>
<rect x="1742.3" y="601.7" width="22.5" height="22.5" fill="#34338c"/>
<rect x="1773.3" y="601.7" width="22.5" height="22.5" fill="#34338c"/>
<rect x="1804.2" y="601.7" width="22.5" height="22.5" fill="#34338c"/>
<rect x="1525.5" y="632.7" width="22.5" height="22.5" fill="#2bb49a"/>
<rect x="1556.5" y="632.7" width="22.5" height="22.5" fill="#14a6d6"/>
<rect x="1587.4" y="632.7" width="22.5" height="22.5" fill="#2490dc"/>
<rect x="1618.4" y="632.7" width="22.5" height="22.5" fill="#2e7ed0"/>
<rect x="1649.4" y="632.7" width="22.5" height="22.5" fill="#1a9fe0"/>
<rect x="1680.3" y="632.7" width="22.5" height="22.5" fill="#2b88d8"/>
<rect x="1711.3" y="632.7" width="22.5" height="22.5" fill="#3170c8"/>
<rect x="1742.3" y="632.7" width="22.5" height="22.5" fill="#3567c0"/>
<rect x="1773.3" y="632.7" width="22.5" height="22.5" fill="#3a5fb8"/>
<rect x="1804.2" y="632.7" width="22.5" height="22.5" fill="#3e4fa8"/>
<rect x="1525.5" y="663.6" width="22.5" height="22.5" fill="#f6e21e"/>
<rect x="1556.5" y="663.6" width="22.5" height="22.5" fill="#f6e21e"/>
<rect x="1587.4" y="663.6" width="22.5" height="22.5" fill="#f6e21e"/>
<rect x="1618.4" y="663.6" width="22.5" height="22.5" fill="#f6e21e"/>
<rect x="1649.4" y="663.6" width="22.5" height="22.5" fill="#f6e21e"/>
<rect x="1680.3" y="663.6" width="22.5" height="22.5" fill="#f6e21e"/>
<rect x="1711.3" y="663.6" width="22.5" height="22.5" fill="#f6e21e"/>
<rect x="1742.3" y="663.6" width="22.5" height="22.5" fill="#f6e21e"/>
<rect x="1773.3" y="663.6" width="22.5" height="22.5" fill="#f8d42a"/>
<rect x="1804.2" y="663.6" width="22.5" height="22.5" fill="#d6b452"/>
<rect x="1525.5" y="694.6" width="22.5" height="22.5" fill="#1bb0c8"/>
<rect x="1556.5" y="694.6" width="22.5" height="22.5" fill="#3dba8a"/>
<rect x="1587.4" y="694.6" width="22.5" height="22.5" fill="#55bd80"/>
<rect x="1618.4" y="694.6" width="22.5" height="22.5" fill="#8cc16a"/>
<rect x="1649.4" y="694.6" width="22.5" height="22.5" fill="#b5bd60"/>
<rect x="1680.3" y="694.6" width="22.5" height="22.5" fill="#d7ad50"/>
<rect x="1711.3" y="694.6" width="22.5" height="22.5" fill="#f7c030"/>
<rect x="1742.3" y="694.6" width="22.5" height="22.5" fill="#f5e020"/>
<rect x="1773.3" y="694.6" width="22.5" height="22.5" fill="#f5e020"/>
<rect x="1804.2" y="694.6" width="22.5" height="22.5" fill="#f8e81a"/>
<rect x="1525.5" y="725.5" width="22.5" height="22.5" fill="#3cb898"/>
<rect x="1556.5" y="725.5" width="22.5" height="22.5" fill="#2fb5a0"/>
<rect x="1587.4" y="725.5" width="22.5" height="22.5" fill="#14b0c8"/>
<rect x="1618.4" y="725.5" width="22.5" height="22.5" fill="#14b0c8"/>
<rect x="1649.4" y="725.5" width="22.5" height="22.5" fill="#14aed0"/>
<rect x="1680.3" y="725.5" width="22.5" height="22.5" fill="#18b0c0"/>
<rect x="1711.3" y="725.5" width="22.5" height="22.5" fill="#2db5a0"/>
<rect x="1742.3" y="725.5" width="22.5" height="22.5" fill="#16a8d8"/>
<rect x="1773.3" y="725.5" width="22.5" height="22.5" fill="#16aad0"/>
<rect x="1804.2" y="725.5" width="22.5" height="22.5" fill="#15acd0"/>
<rect x="1525.5" y="756.5" width="22.5" height="22.5" fill="#a8c060"/>
<rect x="1556.5" y="756.5" width="22.5" height="22.5" fill="#d4b850"/>
<rect x="1587.4" y="756.5" width="22.5" height="22.5" fill="#d2b855"/>
<rect x="1618.4" y="756.5" width="22.5" height="22.5" fill="#d5b955"/>
<rect x="1649.4" y="756.5" width="22.5" height="22.5" fill="#e0b050"/>
<rect x="1680.3" y="756.5" width="22.5" height="22.5" fill="#ccbf58"/>
<rect x="1711.3" y="756.5" width="22.5" height="22.5" fill="#e6b048"/>
<rect x="1742.3" y="756.5" width="22.5" height="22.5" fill="#bcc05a"/>
<rect x="1773.3" y="756.5" width="22.5" height="22.5" fill="#b8c05e"/>
<rect x="1804.2" y="756.5" width="22.5" height="22.5" fill="#8cc070"/>
<rect x="1525.5" y="787.4" width="22.5" height="22.5" fill="#3a5bb0"/>
<rect x="1556.5" y="787.4" width="22.5" height="22.5" fill="#3862b5"/>
<rect x="1587.4" y="787.4" width="22.5" height="22.5" fill="#3a78cc"/>
<rect x="1618.4" y="787.4" width="22.5" height="22.5" fill="#347ed0"/>
<rect x="1649.4" y="787.4" width="22.5" height="22.5" fill="#179de0"/>
<rect x="1680.3" y="787.4" width="22.5" height="22.5" fill="#12a5d8"/>
<rect x="1711.3" y="787.4" width="22.5" height="22.5" fill="#14a2dc"/>
<rect x="1742.3" y="787.4" width="22.5" height="22.5" fill="#1bb0c0"/>
<rect x="1773.3" y="787.4" width="22.5" height="22.5" fill="#25b5a8"/>
<rect x="1804.2" y="787.4" width="22.5" height="22.5" fill="#5ebd80"/>
<rect x="1525.5" y="818.4" width="22.5" height="22.5" fill="#3b70c8"/>
<rect x="1556.5" y="818.4" width="22.5" height="22.5" fill="#3a6ac0"/>
<rect x="1587.4" y="818.4" width="22.5" height="22.5" fill="#3a5fb5"/>
<rect x="1618.4" y="818.4" width="22.5" height="22.5" fill="#3a5ab0"/>
<rect x="1649.4" y="818.4" width="22.5" height="22.5" fill="#3a48a0"/>
<rect x="1680.3" y="818.4" width="22.5" height="22.5" fill="#383c98"/>
<rect x="1711.3" y="818.4" width="22.5" height="22.5" fill="#3a48a2"/>
<rect x="1742.3" y="818.4" width="22.5" height="22.5" fill="#3a48a2"/>
<rect x="1773.3" y="818.4" width="22.5" height="22.5" fill="#3a50a8"/>
<rect x="1804.2" y="818.4" width="22.5" height="22.5" fill="#3a5eb5"/>
<rect x="1525.5" y="849.3" width="22.5" height="22.5" fill="#3c62b5"/>
<rect x="1556.5" y="849.3" width="22.5" height="22.5" fill="#3c66b8"/>
<rect x="1587.4" y="849.3" width="22.5" height="22.5" fill="#3b60b4"/>
<rect x="1618.4" y="849.3" width="22.5" height="22.5" fill="#3c66b8"/>
<rect x="1649.4" y="849.3" width="22.5" height="22.5" fill="#3c60b2"/>
<rect x="1680.3" y="849.3" width="22.5" height="22.5" fill="#3b55a8"/>
<rect x="1711.3" y="849.3" width="22.5" height="22.5" fill="#3b58ad"/>
<rect x="1742.3" y="849.3" width="22.5" height="22.5" fill="#3c60b2"/>
<rect x="1773.3" y="849.3" width="22.5" height="22.5" fill="#3c5eb0"/>
<rect x="1804.2" y="849.3" width="22.5" height="22.5" fill="#3c6ec2"/>
<rect x="1525.5" y="880.2" width="22.5" height="22.5" fill="#3b50a5"/>
<rect x="1556.5" y="880.2" width="22.5" height="22.5" fill="#3c5cb0"/>
<rect x="1587.4" y="880.2" width="22.5" height="22.5" fill="#3c66b8"/>
<rect x="1618.4" y="880.2" width="22.5" height="22.5" fill="#3c6cc0"/>
<rect x="1649.4" y="880.2" width="22.5" height="22.5" fill="#3c6ec2"/>
<rect x="1680.3" y="880.2" width="22.5" height="22.5" fill="#3c6ec2"/>
<rect x="1711.3" y="880.2" width="22.5" height="22.5" fill="#3c72c5"/>
<rect x="1742.3" y="880.2" width="22.5" height="22.5" fill="#3c6ec0"/>
<rect x="1773.3" y="880.2" width="22.5" height="22.5" fill="#3c66b8"/>
<rect x="1804.2" y="880.2" width="22.5" height="22.5" fill="#3c60b2"/>
<defs><linearGradient id="parula" x1="0" y1="0" x2="1" y2="0">
<stop offset="0.000" stop-color="#352a87"/>
<stop offset="0.091" stop-color="#2c44c8"/>
<stop offset="0.182" stop-color="#1165dd"/>
<stop offset="0.273" stop-color="#1283d4"/>
<stop offset="0.364" stop-color="#079bc6"/>
<stop offset="0.455" stop-color="#11b2aa"/>
<stop offset="0.545" stop-color="#3cbb8c"/>
<stop offset="0.636" stop-color="#80bf6c"/>
<stop offset="0.727" stop-color="#bcbd4e"/>
<stop offset="0.818" stop-color="#e8b93a"/>
<stop offset="0.909" stop-color="#fcce2e"/>
<stop offset="1.000" stop-color="#f9fb0e"/>
</linearGradient></defs>
<rect x="1517.5" y="928" width="319.5" height="16.8" fill="url(#parula)" stroke="#222" stroke-width="1.2"/>
<text x="1517.5" y="971.5" font-size="23.5" fill="#111" text-anchor="middle" font-weight="normal" font-family="'Liberation Sans', Arial, sans-serif" stroke="#111" stroke-width="0.45" >0</text>
<line x1="1597.4" y1="944.8" x2="1597.4" y2="941" stroke="#222" stroke-width="1"/>
<text x="1597.4" y="971.5" font-size="23.5" fill="#111" text-anchor="middle" font-weight="normal" font-family="'Liberation Sans', Arial, sans-serif" stroke="#111" stroke-width="0.45" >25</text>
<line x1="1677.2" y1="944.8" x2="1677.2" y2="941" stroke="#222" stroke-width="1"/>
<text x="1677.2" y="971.5" font-size="23.5" fill="#111" text-anchor="middle" font-weight="normal" font-family="'Liberation Sans', Arial, sans-serif" stroke="#111" stroke-width="0.45" >50</text>
<line x1="1757.1" y1="944.8" x2="1757.1" y2="941" stroke="#222" stroke-width="1"/>
<text x="1757.1" y="971.5" font-size="23.5" fill="#111" text-anchor="middle" font-weight="normal" font-family="'Liberation Sans', Arial, sans-serif" stroke="#111" stroke-width="0.45" >75</text>
<text x="1837.0" y="971.5" font-size="23.5" fill="#111" text-anchor="middle" font-weight="normal" font-family="'Liberation Sans', Arial, sans-serif" stroke="#111" stroke-width="0.45" >100</text>
<text x="1677" y="1006" font-size="24.5" fill="#111" text-anchor="middle" font-weight="normal" font-family="'Liberation Sans', Arial, sans-serif" stroke="#111" stroke-width="0.45" textLength="317" lengthAdjust="spacingAndGlyphs"><tspan font-weight="bold">I</tspan>ntegrated absorbance (a.u<tspan font-weight="bold">.</tspan>)</text>
<text x="1846" y="651.5" font-size="23.8" fill="#222" text-anchor="start" font-weight="normal" font-family="'Liberation Sans', Arial, sans-serif" stroke="#222" stroke-width="0.3" >amide I</text>
<text x="1846" y="832.5" font-size="23.8" fill="#222" text-anchor="start" font-weight="normal" font-family="'Liberation Sans', Arial, sans-serif" stroke="#222" stroke-width="0.3" >amide II</text>
<path d="M1889.4,660 V689 H1856" fill="none" stroke="#333" stroke-width="1.3"/>
<polygon points="1850,689 1859,685 1859,693" fill="#333"/>
<path d="M1889.4,798 V769.6 H1856" fill="none" stroke="#333" stroke-width="1.3"/>
<polygon points="1850,769.6 1859,765.6 1859,773.6" fill="#333"/>
</svg>
</body></html>
